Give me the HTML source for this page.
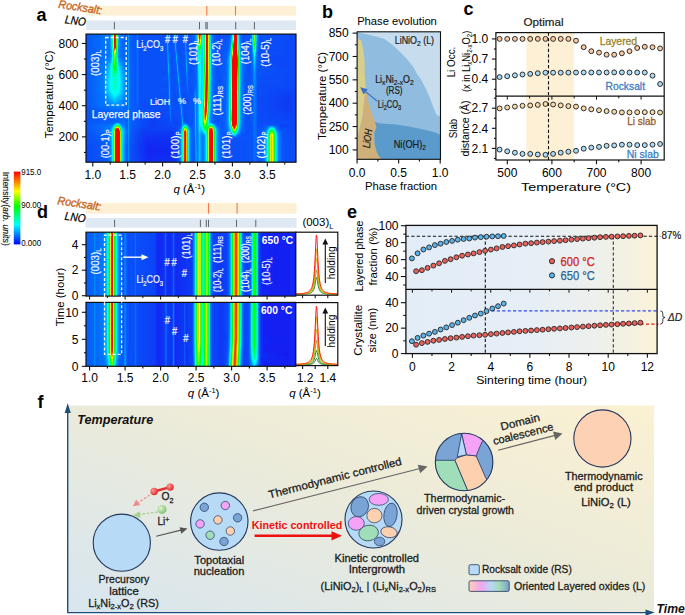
<!DOCTYPE html><html><head><meta charset="utf-8"><style>html,body{margin:0;padding:0;background:#fff;}svg{display:block;}text{font-family:"Liberation Sans",sans-serif;}</style></head><body>
<svg width="685" height="615" viewBox="0 0 685 615">
<defs>
<linearGradient id="cbar" x1="0" y1="1" x2="0" y2="0"><stop offset="0" stop-color="#0000ff"/><stop offset="0.27" stop-color="#00ffff"/><stop offset="0.52" stop-color="#00ff00"/><stop offset="0.73" stop-color="#ffff00"/><stop offset="0.86" stop-color="#ff8000"/><stop offset="1" stop-color="#ff0000"/></linearGradient>
<linearGradient id="fbg" x1="0" y1="1" x2="1" y2="0"><stop offset="0" stop-color="#d8e6f0"/><stop offset="0.55" stop-color="#ecebd9"/><stop offset="1" stop-color="#fbf1d2"/></linearGradient>
<linearGradient id="ebg" x1="0" y1="0" x2="1" y2="0"><stop offset="0" stop-color="#e3edf8"/><stop offset="0.5" stop-color="#e6eef6"/><stop offset="0.78" stop-color="#eef0ea"/><stop offset="1" stop-color="#fcf2da"/></linearGradient>
<linearGradient id="lgrad" x1="0" y1="0" x2="1" y2="0"><stop offset="0" stop-color="#fcd0b8"/><stop offset="0.3" stop-color="#f3a6f0"/><stop offset="0.55" stop-color="#b7d9f4"/><stop offset="0.75" stop-color="#a6dcb8"/><stop offset="1" stop-color="#7aa0c8"/></linearGradient>
<marker id="ahg" viewBox="0 0 10 10" refX="9" refY="5" markerWidth="5" markerHeight="5" orient="auto"><path d="M0,0 L10,5 L0,10 z" fill="#555"/></marker>
</defs>
<text x="36.5" y="21" font-size="18" text-anchor="start" font-weight="bold" fill="#000">a</text>
<text x="322" y="18" font-size="18" text-anchor="start" font-weight="bold" fill="#000">b</text>
<text x="463.5" y="14.6" font-size="18" text-anchor="start" font-weight="bold" fill="#000">c</text>
<text x="37" y="218.2" font-size="18" text-anchor="start" font-weight="bold" fill="#000">d</text>
<text x="347" y="218.2" font-size="18" text-anchor="start" font-weight="bold" fill="#000">e</text>
<text x="37.5" y="407.8" font-size="18" text-anchor="start" font-weight="bold" fill="#000">f</text>
<clipPath id="fac1"><rect x="86" y="34.1" width="210" height="128.1"/></clipPath>
<filter id="faf1" filterUnits="userSpaceOnUse" x="84" y="28" width="214" height="141" color-interpolation-filters="sRGB"><feGaussianBlur stdDeviation="0 1.1"/><feComponentTransfer><feFuncR type="table" tableValues="0.1 0 0 0 0 0.5 1 1 1"/><feFuncG type="table" tableValues="0.04 0.5 1 1 1 1 1 0.5 0"/><feFuncB type="table" tableValues="0.94 1 1 0.5 0 0 0 0 0"/><feFuncA type="table" tableValues="1 1"/></feComponentTransfer></filter>
<g clip-path="url(#fac1)"><g filter="url(#faf1)" shape-rendering="crispEdges">
<defs><linearGradient id="fa1_0" gradientUnits="userSpaceOnUse" x1="84" x2="298" y1="0" y2="0"><stop offset=".000" stop-color="#141414"/><stop offset=".119" stop-color="#1f1f1f"/><stop offset=".126" stop-color="#282828"/><stop offset=".131" stop-color="#3f3f3f"/><stop offset=".133" stop-color="#585858"/><stop offset=".136" stop-color="#848484"/><stop offset=".138" stop-color="#cecece"/><stop offset=".140" stop-color="#ffffff"/><stop offset=".147" stop-color="#ffffff"/><stop offset=".150" stop-color="#e0e0e0"/><stop offset=".152" stop-color="#8f8f8f"/><stop offset=".154" stop-color="#5e5e5e"/><stop offset=".157" stop-color="#424242"/><stop offset=".159" stop-color="#323232"/><stop offset=".164" stop-color="#232323"/><stop offset=".180" stop-color="#181818"/><stop offset=".203" stop-color="#191919"/><stop offset=".208" stop-color="#262626"/><stop offset=".213" stop-color="#181818"/><stop offset=".243" stop-color="#141414"/><stop offset=".250" stop-color="#1c1c1c"/><stop offset=".257" stop-color="#131313"/><stop offset=".381" stop-color="#131313"/><stop offset=".386" stop-color="#1b1b1b"/><stop offset=".388" stop-color="#2a2a2a"/><stop offset=".393" stop-color="#181818"/><stop offset=".404" stop-color="#121212"/><stop offset=".416" stop-color="#151515"/><stop offset=".418" stop-color="#191919"/><stop offset=".423" stop-color="#2d2d2d"/><stop offset=".425" stop-color="#1c1c1c"/><stop offset=".430" stop-color="#141414"/><stop offset=".467" stop-color="#151515"/><stop offset=".470" stop-color="#1a1a1a"/><stop offset=".472" stop-color="#282828"/><stop offset=".479" stop-color="#141414"/><stop offset=".512" stop-color="#151515"/><stop offset=".521" stop-color="#202020"/><stop offset=".526" stop-color="#323232"/><stop offset=".528" stop-color="#444444"/><stop offset=".530" stop-color="#626262"/><stop offset=".533" stop-color="#929292"/><stop offset=".535" stop-color="#d6d6d6"/><stop offset=".537" stop-color="#ffffff"/><stop offset=".542" stop-color="#ffffff"/><stop offset=".544" stop-color="#f8f8f8"/><stop offset=".547" stop-color="#b0b0b0"/><stop offset=".549" stop-color="#7b7b7b"/><stop offset=".551" stop-color="#5a5a5a"/><stop offset=".554" stop-color="#484848"/><stop offset=".556" stop-color="#414141"/><stop offset=".558" stop-color="#444444"/><stop offset=".561" stop-color="#4e4e4e"/><stop offset=".563" stop-color="#636363"/><stop offset=".565" stop-color="#848484"/><stop offset=".568" stop-color="#b1b1b1"/><stop offset=".570" stop-color="#e8e8e8"/><stop offset=".572" stop-color="#ffffff"/><stop offset=".577" stop-color="#ffffff"/><stop offset=".579" stop-color="#e5e5e5"/><stop offset=".582" stop-color="#adadad"/><stop offset=".584" stop-color="#7e7e7e"/><stop offset=".586" stop-color="#5b5b5b"/><stop offset=".589" stop-color="#434343"/><stop offset=".593" stop-color="#292929"/><stop offset=".600" stop-color="#1a1a1a"/><stop offset=".626" stop-color="#121212"/><stop offset=".680" stop-color="#151515"/><stop offset=".689" stop-color="#232323"/><stop offset=".692" stop-color="#2c2c2c"/><stop offset=".694" stop-color="#3d3d3d"/><stop offset=".696" stop-color="#5c5c5c"/><stop offset=".699" stop-color="#949494"/><stop offset=".701" stop-color="#f9f9f9"/><stop offset=".703" stop-color="#ffffff"/><stop offset=".713" stop-color="#ffffff"/><stop offset=".715" stop-color="#e8e8e8"/><stop offset=".717" stop-color="#8b8b8b"/><stop offset=".720" stop-color="#575757"/><stop offset=".722" stop-color="#3b3b3b"/><stop offset=".724" stop-color="#2b2b2b"/><stop offset=".729" stop-color="#1c1c1c"/><stop offset=".745" stop-color="#121212"/><stop offset=".776" stop-color="#151515"/><stop offset=".783" stop-color="#1f1f1f"/><stop offset=".785" stop-color="#282828"/><stop offset=".787" stop-color="#373737"/><stop offset=".790" stop-color="#4f4f4f"/><stop offset=".794" stop-color="#999999"/><stop offset=".797" stop-color="#aaaaaa"/><stop offset=".799" stop-color="#999999"/><stop offset=".804" stop-color="#4f4f4f"/><stop offset=".806" stop-color="#363636"/><stop offset=".808" stop-color="#282828"/><stop offset=".815" stop-color="#171717"/><stop offset=".853" stop-color="#111111"/><stop offset="1.000" stop-color="#111111"/></linearGradient><linearGradient id="fa1_1" gradientUnits="userSpaceOnUse" x1="84" x2="298" y1="0" y2="0"><stop offset=".000" stop-color="#141414"/><stop offset=".119" stop-color="#1f1f1f"/><stop offset=".126" stop-color="#292929"/><stop offset=".131" stop-color="#3f3f3f"/><stop offset=".133" stop-color="#585858"/><stop offset=".136" stop-color="#848484"/><stop offset=".138" stop-color="#cdcdcd"/><stop offset=".140" stop-color="#ffffff"/><stop offset=".147" stop-color="#ffffff"/><stop offset=".150" stop-color="#e0e0e0"/><stop offset=".152" stop-color="#8f8f8f"/><stop offset=".154" stop-color="#5e5e5e"/><stop offset=".157" stop-color="#424242"/><stop offset=".159" stop-color="#323232"/><stop offset=".164" stop-color="#232323"/><stop offset=".180" stop-color="#181818"/><stop offset=".203" stop-color="#191919"/><stop offset=".208" stop-color="#262626"/><stop offset=".213" stop-color="#181818"/><stop offset=".243" stop-color="#141414"/><stop offset=".250" stop-color="#1c1c1c"/><stop offset=".257" stop-color="#131313"/><stop offset=".381" stop-color="#131313"/><stop offset=".386" stop-color="#1a1a1a"/><stop offset=".388" stop-color="#292929"/><stop offset=".390" stop-color="#262626"/><stop offset=".393" stop-color="#191919"/><stop offset=".404" stop-color="#121212"/><stop offset=".418" stop-color="#181818"/><stop offset=".423" stop-color="#2f2f2f"/><stop offset=".425" stop-color="#1e1e1e"/><stop offset=".430" stop-color="#141414"/><stop offset=".467" stop-color="#151515"/><stop offset=".470" stop-color="#1a1a1a"/><stop offset=".472" stop-color="#272727"/><stop offset=".474" stop-color="#242424"/><stop offset=".477" stop-color="#181818"/><stop offset=".488" stop-color="#121212"/><stop offset=".516" stop-color="#181818"/><stop offset=".523" stop-color="#262626"/><stop offset=".526" stop-color="#313131"/><stop offset=".528" stop-color="#434343"/><stop offset=".530" stop-color="#606060"/><stop offset=".533" stop-color="#8e8e8e"/><stop offset=".535" stop-color="#d0d0d0"/><stop offset=".537" stop-color="#ffffff"/><stop offset=".542" stop-color="#ffffff"/><stop offset=".544" stop-color="#f1f1f1"/><stop offset=".547" stop-color="#ababab"/><stop offset=".549" stop-color="#787878"/><stop offset=".551" stop-color="#585858"/><stop offset=".554" stop-color="#474747"/><stop offset=".556" stop-color="#414141"/><stop offset=".558" stop-color="#444444"/><stop offset=".561" stop-color="#4f4f4f"/><stop offset=".563" stop-color="#646464"/><stop offset=".565" stop-color="#848484"/><stop offset=".568" stop-color="#b2b2b2"/><stop offset=".570" stop-color="#e9e9e9"/><stop offset=".572" stop-color="#ffffff"/><stop offset=".577" stop-color="#ffffff"/><stop offset=".579" stop-color="#e5e5e5"/><stop offset=".582" stop-color="#adadad"/><stop offset=".584" stop-color="#7e7e7e"/><stop offset=".586" stop-color="#5b5b5b"/><stop offset=".589" stop-color="#444444"/><stop offset=".593" stop-color="#292929"/><stop offset=".600" stop-color="#1a1a1a"/><stop offset=".626" stop-color="#121212"/><stop offset=".680" stop-color="#151515"/><stop offset=".689" stop-color="#242424"/><stop offset=".692" stop-color="#2f2f2f"/><stop offset=".694" stop-color="#414141"/><stop offset=".696" stop-color="#626262"/><stop offset=".699" stop-color="#9d9d9d"/><stop offset=".701" stop-color="#ffffff"/><stop offset=".713" stop-color="#ffffff"/><stop offset=".715" stop-color="#ececec"/><stop offset=".717" stop-color="#8e8e8e"/><stop offset=".720" stop-color="#595959"/><stop offset=".722" stop-color="#3c3c3c"/><stop offset=".724" stop-color="#2c2c2c"/><stop offset=".729" stop-color="#1d1d1d"/><stop offset=".743" stop-color="#131313"/><stop offset=".776" stop-color="#151515"/><stop offset=".783" stop-color="#1f1f1f"/><stop offset=".787" stop-color="#363636"/><stop offset=".790" stop-color="#4e4e4e"/><stop offset=".794" stop-color="#969696"/><stop offset=".797" stop-color="#a8a8a8"/><stop offset=".799" stop-color="#969696"/><stop offset=".804" stop-color="#4e4e4e"/><stop offset=".806" stop-color="#363636"/><stop offset=".811" stop-color="#1f1f1f"/><stop offset=".820" stop-color="#141414"/><stop offset="1.000" stop-color="#111111"/></linearGradient><linearGradient id="fa1_2" gradientUnits="userSpaceOnUse" x1="84" x2="298" y1="0" y2="0"><stop offset=".000" stop-color="#141414"/><stop offset=".119" stop-color="#1f1f1f"/><stop offset=".126" stop-color="#292929"/><stop offset=".131" stop-color="#3f3f3f"/><stop offset=".133" stop-color="#585858"/><stop offset=".136" stop-color="#848484"/><stop offset=".138" stop-color="#cbcbcb"/><stop offset=".140" stop-color="#ffffff"/><stop offset=".147" stop-color="#ffffff"/><stop offset=".150" stop-color="#dddddd"/><stop offset=".152" stop-color="#8f8f8f"/><stop offset=".154" stop-color="#5e5e5e"/><stop offset=".157" stop-color="#424242"/><stop offset=".159" stop-color="#323232"/><stop offset=".164" stop-color="#232323"/><stop offset=".180" stop-color="#181818"/><stop offset=".203" stop-color="#191919"/><stop offset=".208" stop-color="#262626"/><stop offset=".213" stop-color="#181818"/><stop offset=".243" stop-color="#141414"/><stop offset=".250" stop-color="#1c1c1c"/><stop offset=".257" stop-color="#131313"/><stop offset=".381" stop-color="#131313"/><stop offset=".386" stop-color="#191919"/><stop offset=".388" stop-color="#252525"/><stop offset=".390" stop-color="#2a2a2a"/><stop offset=".393" stop-color="#1b1b1b"/><stop offset=".400" stop-color="#131313"/><stop offset=".418" stop-color="#161616"/><stop offset=".421" stop-color="#1b1b1b"/><stop offset=".423" stop-color="#2b2b2b"/><stop offset=".425" stop-color="#282828"/><stop offset=".428" stop-color="#1a1a1a"/><stop offset=".437" stop-color="#121212"/><stop offset=".467" stop-color="#141414"/><stop offset=".470" stop-color="#181818"/><stop offset=".474" stop-color="#282828"/><stop offset=".477" stop-color="#1a1a1a"/><stop offset=".484" stop-color="#131313"/><stop offset=".516" stop-color="#171717"/><stop offset=".523" stop-color="#242424"/><stop offset=".526" stop-color="#2d2d2d"/><stop offset=".528" stop-color="#3d3d3d"/><stop offset=".530" stop-color="#585858"/><stop offset=".533" stop-color="#818181"/><stop offset=".537" stop-color="#fcfcfc"/><stop offset=".542" stop-color="#ffffff"/><stop offset=".544" stop-color="#d9d9d9"/><stop offset=".547" stop-color="#9c9c9c"/><stop offset=".549" stop-color="#6e6e6e"/><stop offset=".551" stop-color="#525252"/><stop offset=".554" stop-color="#444444"/><stop offset=".556" stop-color="#404040"/><stop offset=".558" stop-color="#444444"/><stop offset=".561" stop-color="#505050"/><stop offset=".563" stop-color="#666666"/><stop offset=".565" stop-color="#878787"/><stop offset=".568" stop-color="#b6b6b6"/><stop offset=".570" stop-color="#ebebeb"/><stop offset=".572" stop-color="#ffffff"/><stop offset=".577" stop-color="#ffffff"/><stop offset=".579" stop-color="#e5e5e5"/><stop offset=".582" stop-color="#aeaeae"/><stop offset=".584" stop-color="#808080"/><stop offset=".586" stop-color="#5d5d5d"/><stop offset=".589" stop-color="#454545"/><stop offset=".593" stop-color="#2a2a2a"/><stop offset=".600" stop-color="#1b1b1b"/><stop offset=".624" stop-color="#121212"/><stop offset=".678" stop-color="#151515"/><stop offset=".687" stop-color="#212121"/><stop offset=".692" stop-color="#373737"/><stop offset=".694" stop-color="#4e4e4e"/><stop offset=".696" stop-color="#767676"/><stop offset=".701" stop-color="#ffffff"/><stop offset=".713" stop-color="#ffffff"/><stop offset=".715" stop-color="#f8f8f8"/><stop offset=".717" stop-color="#989898"/><stop offset=".720" stop-color="#616161"/><stop offset=".722" stop-color="#424242"/><stop offset=".724" stop-color="#303030"/><stop offset=".729" stop-color="#1f1f1f"/><stop offset=".741" stop-color="#141414"/><stop offset=".776" stop-color="#151515"/><stop offset=".783" stop-color="#1e1e1e"/><stop offset=".787" stop-color="#343434"/><stop offset=".790" stop-color="#4a4a4a"/><stop offset=".794" stop-color="#8f8f8f"/><stop offset=".797" stop-color="#9f9f9f"/><stop offset=".799" stop-color="#8f8f8f"/><stop offset=".804" stop-color="#4a4a4a"/><stop offset=".806" stop-color="#343434"/><stop offset=".811" stop-color="#1e1e1e"/><stop offset=".820" stop-color="#131313"/><stop offset="1.000" stop-color="#111111"/></linearGradient><linearGradient id="fa1_3" gradientUnits="userSpaceOnUse" x1="84" x2="298" y1="0" y2="0"><stop offset=".000" stop-color="#141414"/><stop offset=".119" stop-color="#1f1f1f"/><stop offset=".126" stop-color="#292929"/><stop offset=".131" stop-color="#404040"/><stop offset=".133" stop-color="#595959"/><stop offset=".136" stop-color="#838383"/><stop offset=".138" stop-color="#c9c9c9"/><stop offset=".140" stop-color="#ffffff"/><stop offset=".147" stop-color="#ffffff"/><stop offset=".150" stop-color="#dadada"/><stop offset=".152" stop-color="#8e8e8e"/><stop offset=".154" stop-color="#5e5e5e"/><stop offset=".157" stop-color="#434343"/><stop offset=".159" stop-color="#323232"/><stop offset=".164" stop-color="#232323"/><stop offset=".180" stop-color="#181818"/><stop offset=".203" stop-color="#191919"/><stop offset=".208" stop-color="#262626"/><stop offset=".213" stop-color="#181818"/><stop offset=".243" stop-color="#141414"/><stop offset=".250" stop-color="#1c1c1c"/><stop offset=".257" stop-color="#131313"/><stop offset=".383" stop-color="#141414"/><stop offset=".386" stop-color="#171717"/><stop offset=".390" stop-color="#2d2d2d"/><stop offset=".393" stop-color="#1d1d1d"/><stop offset=".397" stop-color="#141414"/><stop offset=".418" stop-color="#141414"/><stop offset=".421" stop-color="#171717"/><stop offset=".425" stop-color="#303030"/><stop offset=".428" stop-color="#202020"/><stop offset=".432" stop-color="#141414"/><stop offset=".467" stop-color="#141414"/><stop offset=".472" stop-color="#1f1f1f"/><stop offset=".474" stop-color="#2a2a2a"/><stop offset=".477" stop-color="#1d1d1d"/><stop offset=".481" stop-color="#141414"/><stop offset=".514" stop-color="#151515"/><stop offset=".523" stop-color="#212121"/><stop offset=".528" stop-color="#373737"/><stop offset=".530" stop-color="#4d4d4d"/><stop offset=".533" stop-color="#6f6f6f"/><stop offset=".537" stop-color="#d7d7d7"/><stop offset=".540" stop-color="#f8f8f8"/><stop offset=".542" stop-color="#eaeaea"/><stop offset=".547" stop-color="#878787"/><stop offset=".549" stop-color="#616161"/><stop offset=".551" stop-color="#4b4b4b"/><stop offset=".554" stop-color="#404040"/><stop offset=".556" stop-color="#3e3e3e"/><stop offset=".558" stop-color="#434343"/><stop offset=".561" stop-color="#505050"/><stop offset=".563" stop-color="#676767"/><stop offset=".565" stop-color="#8a8a8a"/><stop offset=".568" stop-color="#b8b8b8"/><stop offset=".570" stop-color="#eeeeee"/><stop offset=".572" stop-color="#ffffff"/><stop offset=".577" stop-color="#ffffff"/><stop offset=".579" stop-color="#e6e6e6"/><stop offset=".582" stop-color="#b0b0b0"/><stop offset=".584" stop-color="#818181"/><stop offset=".586" stop-color="#5e5e5e"/><stop offset=".589" stop-color="#464646"/><stop offset=".593" stop-color="#2b2b2b"/><stop offset=".600" stop-color="#1b1b1b"/><stop offset=".624" stop-color="#121212"/><stop offset=".678" stop-color="#161616"/><stop offset=".687" stop-color="#262626"/><stop offset=".689" stop-color="#303030"/><stop offset=".692" stop-color="#414141"/><stop offset=".694" stop-color="#5d5d5d"/><stop offset=".696" stop-color="#8e8e8e"/><stop offset=".699" stop-color="#e1e1e1"/><stop offset=".701" stop-color="#ffffff"/><stop offset=".715" stop-color="#ffffff"/><stop offset=".717" stop-color="#a3a3a3"/><stop offset=".720" stop-color="#696969"/><stop offset=".722" stop-color="#484848"/><stop offset=".724" stop-color="#343434"/><stop offset=".729" stop-color="#212121"/><stop offset=".741" stop-color="#141414"/><stop offset=".776" stop-color="#151515"/><stop offset=".783" stop-color="#1d1d1d"/><stop offset=".787" stop-color="#323232"/><stop offset=".790" stop-color="#474747"/><stop offset=".794" stop-color="#878787"/><stop offset=".797" stop-color="#979797"/><stop offset=".799" stop-color="#878787"/><stop offset=".804" stop-color="#474747"/><stop offset=".806" stop-color="#323232"/><stop offset=".811" stop-color="#1d1d1d"/><stop offset=".822" stop-color="#131313"/><stop offset="1.000" stop-color="#111111"/></linearGradient><linearGradient id="fa1_4" gradientUnits="userSpaceOnUse" x1="84" x2="298" y1="0" y2="0"><stop offset=".000" stop-color="#141414"/><stop offset=".119" stop-color="#1f1f1f"/><stop offset=".126" stop-color="#292929"/><stop offset=".131" stop-color="#404040"/><stop offset=".133" stop-color="#595959"/><stop offset=".136" stop-color="#838383"/><stop offset=".138" stop-color="#c7c7c7"/><stop offset=".140" stop-color="#ffffff"/><stop offset=".147" stop-color="#ffffff"/><stop offset=".150" stop-color="#d7d7d7"/><stop offset=".152" stop-color="#8d8d8d"/><stop offset=".154" stop-color="#5e5e5e"/><stop offset=".157" stop-color="#434343"/><stop offset=".159" stop-color="#333333"/><stop offset=".164" stop-color="#232323"/><stop offset=".178" stop-color="#191919"/><stop offset=".203" stop-color="#191919"/><stop offset=".208" stop-color="#262626"/><stop offset=".213" stop-color="#181818"/><stop offset=".243" stop-color="#141414"/><stop offset=".250" stop-color="#1c1c1c"/><stop offset=".257" stop-color="#131313"/><stop offset=".383" stop-color="#141414"/><stop offset=".388" stop-color="#1d1d1d"/><stop offset=".390" stop-color="#2d2d2d"/><stop offset=".395" stop-color="#171717"/><stop offset=".411" stop-color="#121212"/><stop offset=".421" stop-color="#151515"/><stop offset=".423" stop-color="#1a1a1a"/><stop offset=".425" stop-color="#292929"/><stop offset=".428" stop-color="#2a2a2a"/><stop offset=".430" stop-color="#1b1b1b"/><stop offset=".437" stop-color="#131313"/><stop offset=".470" stop-color="#151515"/><stop offset=".472" stop-color="#1c1c1c"/><stop offset=".474" stop-color="#2a2a2a"/><stop offset=".479" stop-color="#171717"/><stop offset=".498" stop-color="#121212"/><stop offset=".521" stop-color="#191919"/><stop offset=".526" stop-color="#242424"/><stop offset=".528" stop-color="#2e2e2e"/><stop offset=".530" stop-color="#3f3f3f"/><stop offset=".533" stop-color="#5a5a5a"/><stop offset=".537" stop-color="#aaaaaa"/><stop offset=".540" stop-color="#c3c3c3"/><stop offset=".542" stop-color="#b9b9b9"/><stop offset=".547" stop-color="#6e6e6e"/><stop offset=".549" stop-color="#515151"/><stop offset=".551" stop-color="#414141"/><stop offset=".554" stop-color="#3a3a3a"/><stop offset=".556" stop-color="#3b3b3b"/><stop offset=".558" stop-color="#424242"/><stop offset=".561" stop-color="#515151"/><stop offset=".563" stop-color="#696969"/><stop offset=".565" stop-color="#8c8c8c"/><stop offset=".570" stop-color="#f0f0f0"/><stop offset=".572" stop-color="#ffffff"/><stop offset=".577" stop-color="#ffffff"/><stop offset=".579" stop-color="#e6e6e6"/><stop offset=".582" stop-color="#b1b1b1"/><stop offset=".584" stop-color="#838383"/><stop offset=".586" stop-color="#606060"/><stop offset=".589" stop-color="#474747"/><stop offset=".593" stop-color="#2c2c2c"/><stop offset=".600" stop-color="#1b1b1b"/><stop offset=".624" stop-color="#121212"/><stop offset=".675" stop-color="#161616"/><stop offset=".685" stop-color="#232323"/><stop offset=".689" stop-color="#383838"/><stop offset=".692" stop-color="#4c4c4c"/><stop offset=".694" stop-color="#6f6f6f"/><stop offset=".696" stop-color="#a9a9a9"/><stop offset=".699" stop-color="#ffffff"/><stop offset=".715" stop-color="#ffffff"/><stop offset=".717" stop-color="#adadad"/><stop offset=".720" stop-color="#727272"/><stop offset=".722" stop-color="#4e4e4e"/><stop offset=".724" stop-color="#393939"/><stop offset=".729" stop-color="#232323"/><stop offset=".738" stop-color="#161616"/><stop offset=".773" stop-color="#131313"/><stop offset=".783" stop-color="#1b1b1b"/><stop offset=".787" stop-color="#2d2d2d"/><stop offset=".790" stop-color="#3e3e3e"/><stop offset=".794" stop-color="#747474"/><stop offset=".797" stop-color="#818181"/><stop offset=".799" stop-color="#747474"/><stop offset=".804" stop-color="#3e3e3e"/><stop offset=".806" stop-color="#2c2c2c"/><stop offset=".811" stop-color="#1b1b1b"/><stop offset=".825" stop-color="#121212"/><stop offset="1.000" stop-color="#111111"/></linearGradient><linearGradient id="fa1_5" gradientUnits="userSpaceOnUse" x1="84" x2="298" y1="0" y2="0"><stop offset=".000" stop-color="#141414"/><stop offset=".119" stop-color="#1e1e1e"/><stop offset=".126" stop-color="#272727"/><stop offset=".131" stop-color="#3b3b3b"/><stop offset=".133" stop-color="#505050"/><stop offset=".136" stop-color="#747474"/><stop offset=".138" stop-color="#adadad"/><stop offset=".140" stop-color="#fafafa"/><stop offset=".145" stop-color="#ffffff"/><stop offset=".147" stop-color="#ffffff"/><stop offset=".152" stop-color="#7d7d7d"/><stop offset=".154" stop-color="#555555"/><stop offset=".157" stop-color="#3d3d3d"/><stop offset=".161" stop-color="#272727"/><stop offset=".171" stop-color="#1b1b1b"/><stop offset=".203" stop-color="#191919"/><stop offset=".208" stop-color="#262626"/><stop offset=".213" stop-color="#181818"/><stop offset=".243" stop-color="#141414"/><stop offset=".250" stop-color="#1c1c1c"/><stop offset=".257" stop-color="#131313"/><stop offset=".383" stop-color="#131313"/><stop offset=".388" stop-color="#1b1b1b"/><stop offset=".390" stop-color="#2a2a2a"/><stop offset=".393" stop-color="#252525"/><stop offset=".395" stop-color="#191919"/><stop offset=".407" stop-color="#121212"/><stop offset=".423" stop-color="#171717"/><stop offset=".425" stop-color="#1f1f1f"/><stop offset=".428" stop-color="#2f2f2f"/><stop offset=".432" stop-color="#181818"/><stop offset=".449" stop-color="#121212"/><stop offset=".470" stop-color="#151515"/><stop offset=".472" stop-color="#191919"/><stop offset=".474" stop-color="#262626"/><stop offset=".477" stop-color="#252525"/><stop offset=".479" stop-color="#191919"/><stop offset=".491" stop-color="#121212"/><stop offset=".521" stop-color="#181818"/><stop offset=".528" stop-color="#272727"/><stop offset=".530" stop-color="#343434"/><stop offset=".533" stop-color="#484848"/><stop offset=".537" stop-color="#858585"/><stop offset=".540" stop-color="#989898"/><stop offset=".542" stop-color="#909090"/><stop offset=".547" stop-color="#595959"/><stop offset=".549" stop-color="#454545"/><stop offset=".551" stop-color="#3a3a3a"/><stop offset=".554" stop-color="#363636"/><stop offset=".556" stop-color="#393939"/><stop offset=".558" stop-color="#424242"/><stop offset=".561" stop-color="#525252"/><stop offset=".563" stop-color="#6b6b6b"/><stop offset=".565" stop-color="#8f8f8f"/><stop offset=".570" stop-color="#f2f2f2"/><stop offset=".572" stop-color="#ffffff"/><stop offset=".577" stop-color="#ffffff"/><stop offset=".579" stop-color="#e6e6e6"/><stop offset=".582" stop-color="#b2b2b2"/><stop offset=".584" stop-color="#848484"/><stop offset=".586" stop-color="#616161"/><stop offset=".589" stop-color="#494949"/><stop offset=".593" stop-color="#2d2d2d"/><stop offset=".600" stop-color="#1c1c1c"/><stop offset=".621" stop-color="#121212"/><stop offset=".673" stop-color="#161616"/><stop offset=".682" stop-color="#222222"/><stop offset=".687" stop-color="#333333"/><stop offset=".689" stop-color="#434343"/><stop offset=".692" stop-color="#5d5d5d"/><stop offset=".694" stop-color="#888888"/><stop offset=".696" stop-color="#cdcdcd"/><stop offset=".699" stop-color="#ffffff"/><stop offset=".715" stop-color="#ffffff"/><stop offset=".720" stop-color="#7e7e7e"/><stop offset=".722" stop-color="#585858"/><stop offset=".724" stop-color="#404040"/><stop offset=".729" stop-color="#272727"/><stop offset=".738" stop-color="#171717"/><stop offset=".773" stop-color="#131313"/><stop offset=".783" stop-color="#191919"/><stop offset=".787" stop-color="#272727"/><stop offset=".790" stop-color="#353535"/><stop offset=".794" stop-color="#5f5f5f"/><stop offset=".797" stop-color="#696969"/><stop offset=".799" stop-color="#5f5f5f"/><stop offset=".804" stop-color="#353535"/><stop offset=".808" stop-color="#1e1e1e"/><stop offset=".818" stop-color="#131313"/><stop offset="1.000" stop-color="#111111"/></linearGradient><linearGradient id="fa1_6" gradientUnits="userSpaceOnUse" x1="84" x2="298" y1="0" y2="0"><stop offset=".000" stop-color="#141414"/><stop offset=".119" stop-color="#1e1e1e"/><stop offset=".129" stop-color="#2b2b2b"/><stop offset=".131" stop-color="#353535"/><stop offset=".133" stop-color="#454545"/><stop offset=".136" stop-color="#5f5f5f"/><stop offset=".138" stop-color="#878787"/><stop offset=".140" stop-color="#b9b9b9"/><stop offset=".143" stop-color="#e2e2e2"/><stop offset=".145" stop-color="#e6e6e6"/><stop offset=".147" stop-color="#c2c2c2"/><stop offset=".150" stop-color="#909090"/><stop offset=".152" stop-color="#666666"/><stop offset=".154" stop-color="#494949"/><stop offset=".157" stop-color="#363636"/><stop offset=".161" stop-color="#252525"/><stop offset=".173" stop-color="#1a1a1a"/><stop offset=".203" stop-color="#191919"/><stop offset=".208" stop-color="#252525"/><stop offset=".213" stop-color="#181818"/><stop offset=".243" stop-color="#141414"/><stop offset=".250" stop-color="#1c1c1c"/><stop offset=".257" stop-color="#131313"/><stop offset=".383" stop-color="#131313"/><stop offset=".388" stop-color="#191919"/><stop offset=".390" stop-color="#262626"/><stop offset=".393" stop-color="#292929"/><stop offset=".395" stop-color="#1a1a1a"/><stop offset=".402" stop-color="#121212"/><stop offset=".423" stop-color="#151515"/><stop offset=".425" stop-color="#191919"/><stop offset=".428" stop-color="#262626"/><stop offset=".430" stop-color="#2d2d2d"/><stop offset=".432" stop-color="#1c1c1c"/><stop offset=".437" stop-color="#141414"/><stop offset=".470" stop-color="#141414"/><stop offset=".472" stop-color="#181818"/><stop offset=".477" stop-color="#282828"/><stop offset=".479" stop-color="#1b1b1b"/><stop offset=".486" stop-color="#121212"/><stop offset=".521" stop-color="#161616"/><stop offset=".528" stop-color="#222222"/><stop offset=".533" stop-color="#3a3a3a"/><stop offset=".537" stop-color="#666666"/><stop offset=".540" stop-color="#747474"/><stop offset=".542" stop-color="#6f6f6f"/><stop offset=".547" stop-color="#484848"/><stop offset=".549" stop-color="#3a3a3a"/><stop offset=".554" stop-color="#333333"/><stop offset=".558" stop-color="#424242"/><stop offset=".561" stop-color="#535353"/><stop offset=".563" stop-color="#6d6d6d"/><stop offset=".565" stop-color="#929292"/><stop offset=".570" stop-color="#f4f4f4"/><stop offset=".572" stop-color="#ffffff"/><stop offset=".577" stop-color="#ffffff"/><stop offset=".579" stop-color="#e6e6e6"/><stop offset=".582" stop-color="#b3b3b3"/><stop offset=".584" stop-color="#858585"/><stop offset=".586" stop-color="#636363"/><stop offset=".589" stop-color="#4a4a4a"/><stop offset=".593" stop-color="#2d2d2d"/><stop offset=".600" stop-color="#1c1c1c"/><stop offset=".621" stop-color="#121212"/><stop offset=".671" stop-color="#161616"/><stop offset=".680" stop-color="#212121"/><stop offset=".685" stop-color="#303030"/><stop offset=".687" stop-color="#3d3d3d"/><stop offset=".689" stop-color="#515151"/><stop offset=".692" stop-color="#727272"/><stop offset=".694" stop-color="#a5a5a5"/><stop offset=".696" stop-color="#f6f6f6"/><stop offset=".699" stop-color="#ffffff"/><stop offset=".715" stop-color="#ffffff"/><stop offset=".717" stop-color="#cfcfcf"/><stop offset=".720" stop-color="#8c8c8c"/><stop offset=".722" stop-color="#626262"/><stop offset=".724" stop-color="#484848"/><stop offset=".729" stop-color="#2c2c2c"/><stop offset=".736" stop-color="#1b1b1b"/><stop offset=".759" stop-color="#121212"/><stop offset=".783" stop-color="#181818"/><stop offset=".787" stop-color="#232323"/><stop offset=".792" stop-color="#3e3e3e"/><stop offset=".794" stop-color="#505050"/><stop offset=".797" stop-color="#585858"/><stop offset=".799" stop-color="#505050"/><stop offset=".804" stop-color="#2e2e2e"/><stop offset=".808" stop-color="#1c1c1c"/><stop offset=".820" stop-color="#121212"/><stop offset="1.000" stop-color="#111111"/></linearGradient><linearGradient id="fa1_7" gradientUnits="userSpaceOnUse" x1="84" x2="298" y1="0" y2="0"><stop offset=".000" stop-color="#141414"/><stop offset=".121" stop-color="#1f1f1f"/><stop offset=".129" stop-color="#2a2a2a"/><stop offset=".133" stop-color="#414141"/><stop offset=".136" stop-color="#565656"/><stop offset=".140" stop-color="#999999"/><stop offset=".143" stop-color="#b5b5b5"/><stop offset=".145" stop-color="#b7b7b7"/><stop offset=".147" stop-color="#9f9f9f"/><stop offset=".152" stop-color="#5b5b5b"/><stop offset=".154" stop-color="#434343"/><stop offset=".159" stop-color="#2a2a2a"/><stop offset=".168" stop-color="#1c1c1c"/><stop offset=".201" stop-color="#171717"/><stop offset=".206" stop-color="#1d1d1d"/><stop offset=".208" stop-color="#252525"/><stop offset=".213" stop-color="#181818"/><stop offset=".243" stop-color="#141414"/><stop offset=".250" stop-color="#1c1c1c"/><stop offset=".257" stop-color="#131313"/><stop offset=".386" stop-color="#141414"/><stop offset=".388" stop-color="#171717"/><stop offset=".393" stop-color="#2c2c2c"/><stop offset=".395" stop-color="#1d1d1d"/><stop offset=".400" stop-color="#141414"/><stop offset=".423" stop-color="#141414"/><stop offset=".428" stop-color="#1d1d1d"/><stop offset=".430" stop-color="#2e2e2e"/><stop offset=".435" stop-color="#181818"/><stop offset=".446" stop-color="#121212"/><stop offset=".472" stop-color="#161616"/><stop offset=".477" stop-color="#2b2b2b"/><stop offset=".481" stop-color="#161616"/><stop offset=".509" stop-color="#121212"/><stop offset=".526" stop-color="#1b1b1b"/><stop offset=".530" stop-color="#292929"/><stop offset=".535" stop-color="#494949"/><stop offset=".537" stop-color="#5e5e5e"/><stop offset=".540" stop-color="#6b6b6b"/><stop offset=".542" stop-color="#676767"/><stop offset=".547" stop-color="#444444"/><stop offset=".549" stop-color="#383838"/><stop offset=".554" stop-color="#333333"/><stop offset=".558" stop-color="#434343"/><stop offset=".561" stop-color="#555555"/><stop offset=".563" stop-color="#6f6f6f"/><stop offset=".565" stop-color="#959595"/><stop offset=".570" stop-color="#f6f6f6"/><stop offset=".572" stop-color="#ffffff"/><stop offset=".577" stop-color="#ffffff"/><stop offset=".579" stop-color="#e7e7e7"/><stop offset=".584" stop-color="#878787"/><stop offset=".586" stop-color="#646464"/><stop offset=".589" stop-color="#4b4b4b"/><stop offset=".593" stop-color="#2e2e2e"/><stop offset=".600" stop-color="#1d1d1d"/><stop offset=".621" stop-color="#131313"/><stop offset=".668" stop-color="#171717"/><stop offset=".680" stop-color="#262626"/><stop offset=".685" stop-color="#383838"/><stop offset=".687" stop-color="#494949"/><stop offset=".689" stop-color="#626262"/><stop offset=".692" stop-color="#8a8a8a"/><stop offset=".696" stop-color="#ffffff"/><stop offset=".715" stop-color="#ffffff"/><stop offset=".717" stop-color="#e1e1e1"/><stop offset=".720" stop-color="#9b9b9b"/><stop offset=".722" stop-color="#6d6d6d"/><stop offset=".724" stop-color="#505050"/><stop offset=".727" stop-color="#3d3d3d"/><stop offset=".731" stop-color="#282828"/><stop offset=".741" stop-color="#191919"/><stop offset=".773" stop-color="#121212"/><stop offset=".785" stop-color="#1a1a1a"/><stop offset=".790" stop-color="#282828"/><stop offset=".794" stop-color="#434343"/><stop offset=".797" stop-color="#494949"/><stop offset=".799" stop-color="#434343"/><stop offset=".806" stop-color="#1f1f1f"/><stop offset=".815" stop-color="#131313"/><stop offset="1.000" stop-color="#111111"/></linearGradient><linearGradient id="fa1_8" gradientUnits="userSpaceOnUse" x1="84" x2="298" y1="0" y2="0"><stop offset=".000" stop-color="#141414"/><stop offset=".119" stop-color="#1e1e1e"/><stop offset=".129" stop-color="#2a2a2a"/><stop offset=".133" stop-color="#3f3f3f"/><stop offset=".136" stop-color="#525252"/><stop offset=".140" stop-color="#898989"/><stop offset=".143" stop-color="#9e9e9e"/><stop offset=".145" stop-color="#a0a0a0"/><stop offset=".147" stop-color="#8e8e8e"/><stop offset=".152" stop-color="#565656"/><stop offset=".154" stop-color="#424242"/><stop offset=".159" stop-color="#2a2a2a"/><stop offset=".168" stop-color="#1c1c1c"/><stop offset=".201" stop-color="#171717"/><stop offset=".206" stop-color="#1d1d1d"/><stop offset=".208" stop-color="#262626"/><stop offset=".213" stop-color="#181818"/><stop offset=".243" stop-color="#141414"/><stop offset=".250" stop-color="#1c1c1c"/><stop offset=".257" stop-color="#131313"/><stop offset=".386" stop-color="#141414"/><stop offset=".390" stop-color="#1e1e1e"/><stop offset=".393" stop-color="#2d2d2d"/><stop offset=".397" stop-color="#171717"/><stop offset=".416" stop-color="#121212"/><stop offset=".428" stop-color="#181818"/><stop offset=".432" stop-color="#2e2e2e"/><stop offset=".435" stop-color="#1d1d1d"/><stop offset=".439" stop-color="#141414"/><stop offset=".470" stop-color="#131313"/><stop offset=".474" stop-color="#1b1b1b"/><stop offset=".477" stop-color="#292929"/><stop offset=".481" stop-color="#171717"/><stop offset=".500" stop-color="#121212"/><stop offset=".523" stop-color="#171717"/><stop offset=".530" stop-color="#272727"/><stop offset=".535" stop-color="#444444"/><stop offset=".537" stop-color="#575757"/><stop offset=".540" stop-color="#626262"/><stop offset=".542" stop-color="#5f5f5f"/><stop offset=".547" stop-color="#404040"/><stop offset=".551" stop-color="#323232"/><stop offset=".556" stop-color="#393939"/><stop offset=".558" stop-color="#444444"/><stop offset=".561" stop-color="#575757"/><stop offset=".563" stop-color="#727272"/><stop offset=".565" stop-color="#989898"/><stop offset=".570" stop-color="#f8f8f8"/><stop offset=".572" stop-color="#ffffff"/><stop offset=".577" stop-color="#ffffff"/><stop offset=".579" stop-color="#e7e7e7"/><stop offset=".584" stop-color="#888888"/><stop offset=".586" stop-color="#666666"/><stop offset=".589" stop-color="#4d4d4d"/><stop offset=".593" stop-color="#2f2f2f"/><stop offset=".600" stop-color="#1d1d1d"/><stop offset=".619" stop-color="#131313"/><stop offset=".666" stop-color="#171717"/><stop offset=".678" stop-color="#252525"/><stop offset=".682" stop-color="#353535"/><stop offset=".685" stop-color="#424242"/><stop offset=".687" stop-color="#575757"/><stop offset=".689" stop-color="#767676"/><stop offset=".692" stop-color="#a5a5a5"/><stop offset=".694" stop-color="#ececec"/><stop offset=".696" stop-color="#ffffff"/><stop offset=".715" stop-color="#ffffff"/><stop offset=".717" stop-color="#f3f3f3"/><stop offset=".720" stop-color="#aaaaaa"/><stop offset=".722" stop-color="#797979"/><stop offset=".724" stop-color="#595959"/><stop offset=".727" stop-color="#444444"/><stop offset=".731" stop-color="#2c2c2c"/><stop offset=".741" stop-color="#1a1a1a"/><stop offset=".771" stop-color="#121212"/><stop offset=".785" stop-color="#181818"/><stop offset=".792" stop-color="#2c2c2c"/><stop offset=".797" stop-color="#3c3c3c"/><stop offset=".801" stop-color="#2c2c2c"/><stop offset=".808" stop-color="#171717"/><stop offset=".834" stop-color="#111111"/><stop offset="1.000" stop-color="#111111"/></linearGradient><linearGradient id="fa1_9" gradientUnits="userSpaceOnUse" x1="84" x2="298" y1="0" y2="0"><stop offset=".000" stop-color="#141414"/><stop offset=".117" stop-color="#202020"/><stop offset=".126" stop-color="#292929"/><stop offset=".131" stop-color="#373737"/><stop offset=".136" stop-color="#545454"/><stop offset=".140" stop-color="#838383"/><stop offset=".143" stop-color="#959595"/><stop offset=".145" stop-color="#979797"/><stop offset=".147" stop-color="#878787"/><stop offset=".152" stop-color="#585858"/><stop offset=".157" stop-color="#383838"/><stop offset=".164" stop-color="#242424"/><stop offset=".185" stop-color="#191919"/><stop offset=".203" stop-color="#191919"/><stop offset=".208" stop-color="#262626"/><stop offset=".213" stop-color="#181818"/><stop offset=".243" stop-color="#141414"/><stop offset=".250" stop-color="#1c1c1c"/><stop offset=".257" stop-color="#131313"/><stop offset=".386" stop-color="#131313"/><stop offset=".390" stop-color="#1b1b1b"/><stop offset=".393" stop-color="#2a2a2a"/><stop offset=".397" stop-color="#181818"/><stop offset=".409" stop-color="#121212"/><stop offset=".428" stop-color="#161616"/><stop offset=".430" stop-color="#1c1c1c"/><stop offset=".432" stop-color="#2c2c2c"/><stop offset=".435" stop-color="#262626"/><stop offset=".437" stop-color="#191919"/><stop offset=".449" stop-color="#121212"/><stop offset=".472" stop-color="#151515"/><stop offset=".474" stop-color="#191919"/><stop offset=".477" stop-color="#262626"/><stop offset=".479" stop-color="#252525"/><stop offset=".481" stop-color="#191919"/><stop offset=".493" stop-color="#121212"/><stop offset=".523" stop-color="#171717"/><stop offset=".530" stop-color="#242424"/><stop offset=".535" stop-color="#3e3e3e"/><stop offset=".537" stop-color="#4f4f4f"/><stop offset=".540" stop-color="#595959"/><stop offset=".542" stop-color="#565656"/><stop offset=".549" stop-color="#343434"/><stop offset=".554" stop-color="#333333"/><stop offset=".558" stop-color="#464646"/><stop offset=".561" stop-color="#595959"/><stop offset=".563" stop-color="#757575"/><stop offset=".565" stop-color="#9b9b9b"/><stop offset=".570" stop-color="#fbfbfb"/><stop offset=".577" stop-color="#ffffff"/><stop offset=".579" stop-color="#e7e7e7"/><stop offset=".584" stop-color="#8a8a8a"/><stop offset=".586" stop-color="#676767"/><stop offset=".589" stop-color="#4e4e4e"/><stop offset=".593" stop-color="#303030"/><stop offset=".600" stop-color="#1e1e1e"/><stop offset=".619" stop-color="#131313"/><stop offset=".664" stop-color="#171717"/><stop offset=".675" stop-color="#242424"/><stop offset=".680" stop-color="#323232"/><stop offset=".685" stop-color="#4e4e4e"/><stop offset=".687" stop-color="#676767"/><stop offset=".689" stop-color="#8c8c8c"/><stop offset=".694" stop-color="#ffffff"/><stop offset=".717" stop-color="#ffffff"/><stop offset=".720" stop-color="#b9b9b9"/><stop offset=".722" stop-color="#858585"/><stop offset=".724" stop-color="#636363"/><stop offset=".727" stop-color="#4b4b4b"/><stop offset=".731" stop-color="#303030"/><stop offset=".738" stop-color="#1f1f1f"/><stop offset=".757" stop-color="#141414"/><stop offset=".783" stop-color="#151515"/><stop offset=".790" stop-color="#212121"/><stop offset=".794" stop-color="#333333"/><stop offset=".797" stop-color="#373737"/><stop offset=".801" stop-color="#292929"/><stop offset=".808" stop-color="#171717"/><stop offset=".839" stop-color="#111111"/><stop offset="1.000" stop-color="#111111"/></linearGradient><linearGradient id="fa1_10" gradientUnits="userSpaceOnUse" x1="84" x2="298" y1="0" y2="0"><stop offset=".000" stop-color="#141414"/><stop offset=".105" stop-color="#1f1f1f"/><stop offset=".124" stop-color="#2d2d2d"/><stop offset=".131" stop-color="#3f3f3f"/><stop offset=".136" stop-color="#5c5c5c"/><stop offset=".140" stop-color="#868686"/><stop offset=".143" stop-color="#959595"/><stop offset=".145" stop-color="#969696"/><stop offset=".147" stop-color="#898989"/><stop offset=".154" stop-color="#4e4e4e"/><stop offset=".159" stop-color="#373737"/><stop offset=".168" stop-color="#262626"/><stop offset=".199" stop-color="#181818"/><stop offset=".206" stop-color="#1e1e1e"/><stop offset=".208" stop-color="#262626"/><stop offset=".213" stop-color="#181818"/><stop offset=".243" stop-color="#141414"/><stop offset=".250" stop-color="#1c1c1c"/><stop offset=".257" stop-color="#131313"/><stop offset=".386" stop-color="#131313"/><stop offset=".390" stop-color="#191919"/><stop offset=".393" stop-color="#262626"/><stop offset=".395" stop-color="#282828"/><stop offset=".397" stop-color="#1a1a1a"/><stop offset=".407" stop-color="#121212"/><stop offset=".428" stop-color="#141414"/><stop offset=".430" stop-color="#181818"/><stop offset=".435" stop-color="#2f2f2f"/><stop offset=".437" stop-color="#1f1f1f"/><stop offset=".442" stop-color="#141414"/><stop offset=".472" stop-color="#141414"/><stop offset=".474" stop-color="#171717"/><stop offset=".479" stop-color="#292929"/><stop offset=".481" stop-color="#1b1b1b"/><stop offset=".488" stop-color="#121212"/><stop offset=".523" stop-color="#161616"/><stop offset=".530" stop-color="#242424"/><stop offset=".535" stop-color="#3c3c3c"/><stop offset=".540" stop-color="#565656"/><stop offset=".542" stop-color="#545454"/><stop offset=".549" stop-color="#333333"/><stop offset=".554" stop-color="#333333"/><stop offset=".558" stop-color="#474747"/><stop offset=".561" stop-color="#5b5b5b"/><stop offset=".563" stop-color="#787878"/><stop offset=".565" stop-color="#9f9f9f"/><stop offset=".570" stop-color="#fefefe"/><stop offset=".577" stop-color="#ffffff"/><stop offset=".579" stop-color="#e4e4e4"/><stop offset=".584" stop-color="#878787"/><stop offset=".586" stop-color="#656565"/><stop offset=".589" stop-color="#4d4d4d"/><stop offset=".593" stop-color="#303030"/><stop offset=".600" stop-color="#1d1d1d"/><stop offset=".619" stop-color="#131313"/><stop offset=".664" stop-color="#171717"/><stop offset=".675" stop-color="#252525"/><stop offset=".680" stop-color="#333333"/><stop offset=".685" stop-color="#525252"/><stop offset=".687" stop-color="#6c6c6c"/><stop offset=".689" stop-color="#939393"/><stop offset=".692" stop-color="#cccccc"/><stop offset=".694" stop-color="#ffffff"/><stop offset=".717" stop-color="#ffffff"/><stop offset=".720" stop-color="#b7b7b7"/><stop offset=".722" stop-color="#848484"/><stop offset=".724" stop-color="#626262"/><stop offset=".727" stop-color="#4b4b4b"/><stop offset=".731" stop-color="#303030"/><stop offset=".738" stop-color="#1f1f1f"/><stop offset=".757" stop-color="#141414"/><stop offset=".785" stop-color="#161616"/><stop offset=".792" stop-color="#272727"/><stop offset=".797" stop-color="#333333"/><stop offset=".808" stop-color="#161616"/><stop offset=".850" stop-color="#111111"/><stop offset="1.000" stop-color="#111111"/></linearGradient><linearGradient id="fa1_11" gradientUnits="userSpaceOnUse" x1="84" x2="298" y1="0" y2="0"><stop offset=".000" stop-color="#141414"/><stop offset=".098" stop-color="#1f1f1f"/><stop offset=".121" stop-color="#303030"/><stop offset=".131" stop-color="#464646"/><stop offset=".136" stop-color="#5f5f5f"/><stop offset=".140" stop-color="#828282"/><stop offset=".143" stop-color="#8e8e8e"/><stop offset=".145" stop-color="#909090"/><stop offset=".147" stop-color="#858585"/><stop offset=".154" stop-color="#535353"/><stop offset=".161" stop-color="#383838"/><stop offset=".178" stop-color="#232323"/><stop offset=".201" stop-color="#191919"/><stop offset=".206" stop-color="#1f1f1f"/><stop offset=".208" stop-color="#272727"/><stop offset=".213" stop-color="#191919"/><stop offset=".243" stop-color="#141414"/><stop offset=".250" stop-color="#1c1c1c"/><stop offset=".257" stop-color="#131313"/><stop offset=".388" stop-color="#141414"/><stop offset=".390" stop-color="#181818"/><stop offset=".395" stop-color="#2c2c2c"/><stop offset=".397" stop-color="#1c1c1c"/><stop offset=".402" stop-color="#141414"/><stop offset=".430" stop-color="#151515"/><stop offset=".432" stop-color="#1b1b1b"/><stop offset=".435" stop-color="#2a2a2a"/><stop offset=".437" stop-color="#292929"/><stop offset=".439" stop-color="#1a1a1a"/><stop offset=".449" stop-color="#121212"/><stop offset=".474" stop-color="#161616"/><stop offset=".479" stop-color="#2b2b2b"/><stop offset=".484" stop-color="#161616"/><stop offset=".512" stop-color="#121212"/><stop offset=".526" stop-color="#191919"/><stop offset=".530" stop-color="#232323"/><stop offset=".535" stop-color="#3b3b3b"/><stop offset=".540" stop-color="#545454"/><stop offset=".542" stop-color="#525252"/><stop offset=".549" stop-color="#333333"/><stop offset=".554" stop-color="#343434"/><stop offset=".558" stop-color="#494949"/><stop offset=".561" stop-color="#5e5e5e"/><stop offset=".563" stop-color="#7b7b7b"/><stop offset=".565" stop-color="#a3a3a3"/><stop offset=".570" stop-color="#ffffff"/><stop offset=".577" stop-color="#ffffff"/><stop offset=".579" stop-color="#e0e0e0"/><stop offset=".582" stop-color="#afafaf"/><stop offset=".584" stop-color="#848484"/><stop offset=".586" stop-color="#636363"/><stop offset=".589" stop-color="#4b4b4b"/><stop offset=".593" stop-color="#2f2f2f"/><stop offset=".600" stop-color="#1d1d1d"/><stop offset=".621" stop-color="#131313"/><stop offset=".664" stop-color="#171717"/><stop offset=".675" stop-color="#252525"/><stop offset=".680" stop-color="#343434"/><stop offset=".685" stop-color="#535353"/><stop offset=".687" stop-color="#6e6e6e"/><stop offset=".689" stop-color="#959595"/><stop offset=".692" stop-color="#d1d1d1"/><stop offset=".694" stop-color="#ffffff"/><stop offset=".715" stop-color="#ffffff"/><stop offset=".717" stop-color="#fafafa"/><stop offset=".720" stop-color="#b2b2b2"/><stop offset=".722" stop-color="#818181"/><stop offset=".724" stop-color="#606060"/><stop offset=".727" stop-color="#494949"/><stop offset=".731" stop-color="#2f2f2f"/><stop offset=".741" stop-color="#1c1c1c"/><stop offset=".766" stop-color="#121212"/><stop offset=".785" stop-color="#161616"/><stop offset=".792" stop-color="#242424"/><stop offset=".797" stop-color="#2f2f2f"/><stop offset=".808" stop-color="#151515"/><stop offset=".871" stop-color="#111111"/><stop offset="1.000" stop-color="#111111"/></linearGradient><linearGradient id="fa1_12" gradientUnits="userSpaceOnUse" x1="84" x2="298" y1="0" y2="0"><stop offset=".000" stop-color="#141414"/><stop offset=".096" stop-color="#1f1f1f"/><stop offset=".121" stop-color="#343434"/><stop offset=".131" stop-color="#484848"/><stop offset=".143" stop-color="#7f7f7f"/><stop offset=".145" stop-color="#808080"/><stop offset=".150" stop-color="#6c6c6c"/><stop offset=".157" stop-color="#4a4a4a"/><stop offset=".166" stop-color="#343434"/><stop offset=".192" stop-color="#1d1d1d"/><stop offset=".203" stop-color="#1b1b1b"/><stop offset=".208" stop-color="#272727"/><stop offset=".213" stop-color="#191919"/><stop offset=".243" stop-color="#141414"/><stop offset=".250" stop-color="#1c1c1c"/><stop offset=".257" stop-color="#131313"/><stop offset=".388" stop-color="#141414"/><stop offset=".393" stop-color="#1e1e1e"/><stop offset=".395" stop-color="#2d2d2d"/><stop offset=".400" stop-color="#171717"/><stop offset=".421" stop-color="#121212"/><stop offset=".432" stop-color="#171717"/><stop offset=".435" stop-color="#202020"/><stop offset=".437" stop-color="#303030"/><stop offset=".442" stop-color="#171717"/><stop offset=".460" stop-color="#121212"/><stop offset=".474" stop-color="#151515"/><stop offset=".477" stop-color="#1b1b1b"/><stop offset=".479" stop-color="#292929"/><stop offset=".484" stop-color="#171717"/><stop offset=".500" stop-color="#121212"/><stop offset=".526" stop-color="#191919"/><stop offset=".530" stop-color="#232323"/><stop offset=".535" stop-color="#3a3a3a"/><stop offset=".540" stop-color="#535353"/><stop offset=".542" stop-color="#505050"/><stop offset=".549" stop-color="#333333"/><stop offset=".554" stop-color="#353535"/><stop offset=".558" stop-color="#4b4b4b"/><stop offset=".561" stop-color="#606060"/><stop offset=".563" stop-color="#7f7f7f"/><stop offset=".565" stop-color="#a7a7a7"/><stop offset=".568" stop-color="#d8d8d8"/><stop offset=".570" stop-color="#ffffff"/><stop offset=".577" stop-color="#ffffff"/><stop offset=".579" stop-color="#dbdbdb"/><stop offset=".582" stop-color="#ababab"/><stop offset=".584" stop-color="#818181"/><stop offset=".586" stop-color="#616161"/><stop offset=".589" stop-color="#4a4a4a"/><stop offset=".593" stop-color="#2e2e2e"/><stop offset=".600" stop-color="#1d1d1d"/><stop offset=".621" stop-color="#131313"/><stop offset=".664" stop-color="#171717"/><stop offset=".675" stop-color="#252525"/><stop offset=".680" stop-color="#353535"/><stop offset=".685" stop-color="#545454"/><stop offset=".687" stop-color="#707070"/><stop offset=".689" stop-color="#989898"/><stop offset=".692" stop-color="#d5d5d5"/><stop offset=".694" stop-color="#ffffff"/><stop offset=".715" stop-color="#ffffff"/><stop offset=".717" stop-color="#f3f3f3"/><stop offset=".720" stop-color="#acacac"/><stop offset=".722" stop-color="#7d7d7d"/><stop offset=".724" stop-color="#5d5d5d"/><stop offset=".727" stop-color="#484848"/><stop offset=".731" stop-color="#2f2f2f"/><stop offset=".741" stop-color="#1b1b1b"/><stop offset=".769" stop-color="#121212"/><stop offset=".787" stop-color="#171717"/><stop offset=".797" stop-color="#2a2a2a"/><stop offset=".808" stop-color="#151515"/><stop offset=".937" stop-color="#111111"/><stop offset="1.000" stop-color="#111111"/></linearGradient><linearGradient id="fa1_13" gradientUnits="userSpaceOnUse" x1="84" x2="298" y1="0" y2="0"><stop offset=".000" stop-color="#141414"/><stop offset=".091" stop-color="#1e1e1e"/><stop offset=".119" stop-color="#343434"/><stop offset=".133" stop-color="#4e4e4e"/><stop offset=".143" stop-color="#6b6b6b"/><stop offset=".147" stop-color="#676767"/><stop offset=".159" stop-color="#444444"/><stop offset=".182" stop-color="#252525"/><stop offset=".203" stop-color="#1c1c1c"/><stop offset=".208" stop-color="#272727"/><stop offset=".213" stop-color="#191919"/><stop offset=".243" stop-color="#141414"/><stop offset=".250" stop-color="#1c1c1c"/><stop offset=".257" stop-color="#131313"/><stop offset=".388" stop-color="#131313"/><stop offset=".393" stop-color="#1c1c1c"/><stop offset=".395" stop-color="#2b2b2b"/><stop offset=".400" stop-color="#181818"/><stop offset=".414" stop-color="#121212"/><stop offset=".432" stop-color="#151515"/><stop offset=".435" stop-color="#1a1a1a"/><stop offset=".437" stop-color="#282828"/><stop offset=".439" stop-color="#2b2b2b"/><stop offset=".442" stop-color="#1b1b1b"/><stop offset=".449" stop-color="#131313"/><stop offset=".474" stop-color="#151515"/><stop offset=".477" stop-color="#191919"/><stop offset=".479" stop-color="#262626"/><stop offset=".481" stop-color="#262626"/><stop offset=".484" stop-color="#191919"/><stop offset=".495" stop-color="#121212"/><stop offset=".523" stop-color="#161616"/><stop offset=".530" stop-color="#222222"/><stop offset=".535" stop-color="#393939"/><stop offset=".540" stop-color="#515151"/><stop offset=".542" stop-color="#4e4e4e"/><stop offset=".549" stop-color="#333333"/><stop offset=".554" stop-color="#353535"/><stop offset=".558" stop-color="#4d4d4d"/><stop offset=".561" stop-color="#636363"/><stop offset=".563" stop-color="#828282"/><stop offset=".565" stop-color="#acacac"/><stop offset=".568" stop-color="#dcdcdc"/><stop offset=".570" stop-color="#ffffff"/><stop offset=".577" stop-color="#ffffff"/><stop offset=".579" stop-color="#d7d7d7"/><stop offset=".582" stop-color="#a7a7a7"/><stop offset=".584" stop-color="#7e7e7e"/><stop offset=".586" stop-color="#5f5f5f"/><stop offset=".589" stop-color="#484848"/><stop offset=".593" stop-color="#2d2d2d"/><stop offset=".600" stop-color="#1d1d1d"/><stop offset=".621" stop-color="#131313"/><stop offset=".664" stop-color="#171717"/><stop offset=".675" stop-color="#252525"/><stop offset=".680" stop-color="#353535"/><stop offset=".685" stop-color="#555555"/><stop offset=".687" stop-color="#727272"/><stop offset=".689" stop-color="#9c9c9c"/><stop offset=".692" stop-color="#dadada"/><stop offset=".694" stop-color="#ffffff"/><stop offset=".715" stop-color="#ffffff"/><stop offset=".717" stop-color="#ececec"/><stop offset=".720" stop-color="#a7a7a7"/><stop offset=".722" stop-color="#7a7a7a"/><stop offset=".724" stop-color="#5b5b5b"/><stop offset=".727" stop-color="#464646"/><stop offset=".731" stop-color="#2e2e2e"/><stop offset=".741" stop-color="#1b1b1b"/><stop offset=".769" stop-color="#121212"/><stop offset=".787" stop-color="#171717"/><stop offset=".797" stop-color="#282828"/><stop offset=".808" stop-color="#141414"/><stop offset="1.000" stop-color="#111111"/></linearGradient><linearGradient id="fa1_14" gradientUnits="userSpaceOnUse" x1="84" x2="298" y1="0" y2="0"><stop offset=".000" stop-color="#141414"/><stop offset=".089" stop-color="#1e1e1e"/><stop offset=".117" stop-color="#343434"/><stop offset=".138" stop-color="#565656"/><stop offset=".145" stop-color="#5e5e5e"/><stop offset=".175" stop-color="#2f2f2f"/><stop offset=".199" stop-color="#1c1c1c"/><stop offset=".206" stop-color="#202020"/><stop offset=".208" stop-color="#282828"/><stop offset=".213" stop-color="#191919"/><stop offset=".243" stop-color="#141414"/><stop offset=".250" stop-color="#1c1c1c"/><stop offset=".257" stop-color="#131313"/><stop offset=".388" stop-color="#131313"/><stop offset=".393" stop-color="#191919"/><stop offset=".395" stop-color="#272727"/><stop offset=".397" stop-color="#282828"/><stop offset=".400" stop-color="#1a1a1a"/><stop offset=".409" stop-color="#121212"/><stop offset=".432" stop-color="#141414"/><stop offset=".437" stop-color="#1e1e1e"/><stop offset=".439" stop-color="#2f2f2f"/><stop offset=".444" stop-color="#181818"/><stop offset=".458" stop-color="#121212"/><stop offset=".474" stop-color="#141414"/><stop offset=".477" stop-color="#171717"/><stop offset=".481" stop-color="#292929"/><stop offset=".484" stop-color="#1b1b1b"/><stop offset=".491" stop-color="#131313"/><stop offset=".523" stop-color="#161616"/><stop offset=".530" stop-color="#222222"/><stop offset=".540" stop-color="#4f4f4f"/><stop offset=".542" stop-color="#4d4d4d"/><stop offset=".549" stop-color="#333333"/><stop offset=".554" stop-color="#363636"/><stop offset=".558" stop-color="#4f4f4f"/><stop offset=".561" stop-color="#666666"/><stop offset=".563" stop-color="#868686"/><stop offset=".565" stop-color="#b0b0b0"/><stop offset=".568" stop-color="#e1e1e1"/><stop offset=".570" stop-color="#ffffff"/><stop offset=".577" stop-color="#ffffff"/><stop offset=".582" stop-color="#a3a3a3"/><stop offset=".584" stop-color="#7b7b7b"/><stop offset=".586" stop-color="#5d5d5d"/><stop offset=".589" stop-color="#474747"/><stop offset=".593" stop-color="#2d2d2d"/><stop offset=".600" stop-color="#1c1c1c"/><stop offset=".621" stop-color="#131313"/><stop offset=".664" stop-color="#171717"/><stop offset=".675" stop-color="#262626"/><stop offset=".680" stop-color="#363636"/><stop offset=".682" stop-color="#434343"/><stop offset=".685" stop-color="#575757"/><stop offset=".687" stop-color="#747474"/><stop offset=".689" stop-color="#9f9f9f"/><stop offset=".692" stop-color="#dfdfdf"/><stop offset=".694" stop-color="#ffffff"/><stop offset=".715" stop-color="#ffffff"/><stop offset=".717" stop-color="#e5e5e5"/><stop offset=".720" stop-color="#a3a3a3"/><stop offset=".722" stop-color="#767676"/><stop offset=".724" stop-color="#595959"/><stop offset=".727" stop-color="#444444"/><stop offset=".731" stop-color="#2d2d2d"/><stop offset=".741" stop-color="#1b1b1b"/><stop offset=".771" stop-color="#121212"/><stop offset=".787" stop-color="#161616"/><stop offset=".797" stop-color="#262626"/><stop offset=".808" stop-color="#141414"/><stop offset="1.000" stop-color="#111111"/></linearGradient><linearGradient id="fa1_15" gradientUnits="userSpaceOnUse" x1="84" x2="298" y1="0" y2="0"><stop offset=".000" stop-color="#141414"/><stop offset=".089" stop-color="#1e1e1e"/><stop offset=".117" stop-color="#363636"/><stop offset=".143" stop-color="#4e4e4e"/><stop offset=".159" stop-color="#444444"/><stop offset=".194" stop-color="#1e1e1e"/><stop offset=".203" stop-color="#1c1c1c"/><stop offset=".208" stop-color="#282828"/><stop offset=".213" stop-color="#191919"/><stop offset=".243" stop-color="#141414"/><stop offset=".250" stop-color="#1c1c1c"/><stop offset=".257" stop-color="#131313"/><stop offset=".390" stop-color="#141414"/><stop offset=".393" stop-color="#181818"/><stop offset=".397" stop-color="#2b2b2b"/><stop offset=".400" stop-color="#1c1c1c"/><stop offset=".404" stop-color="#131313"/><stop offset=".435" stop-color="#151515"/><stop offset=".437" stop-color="#191919"/><stop offset=".442" stop-color="#2d2d2d"/><stop offset=".444" stop-color="#1c1c1c"/><stop offset=".449" stop-color="#141414"/><stop offset=".474" stop-color="#131313"/><stop offset=".479" stop-color="#1c1c1c"/><stop offset=".481" stop-color="#282828"/><stop offset=".486" stop-color="#161616"/><stop offset=".516" stop-color="#131313"/><stop offset=".528" stop-color="#1c1c1c"/><stop offset=".533" stop-color="#2a2a2a"/><stop offset=".540" stop-color="#4d4d4d"/><stop offset=".542" stop-color="#4b4b4b"/><stop offset=".549" stop-color="#333333"/><stop offset=".554" stop-color="#373737"/><stop offset=".556" stop-color="#414141"/><stop offset=".558" stop-color="#515151"/><stop offset=".561" stop-color="#686868"/><stop offset=".563" stop-color="#8a8a8a"/><stop offset=".568" stop-color="#e5e5e5"/><stop offset=".570" stop-color="#ffffff"/><stop offset=".577" stop-color="#ffffff"/><stop offset=".582" stop-color="#9f9f9f"/><stop offset=".584" stop-color="#787878"/><stop offset=".586" stop-color="#5b5b5b"/><stop offset=".589" stop-color="#454545"/><stop offset=".593" stop-color="#2c2c2c"/><stop offset=".603" stop-color="#1a1a1a"/><stop offset=".633" stop-color="#121212"/><stop offset=".666" stop-color="#191919"/><stop offset=".675" stop-color="#262626"/><stop offset=".680" stop-color="#363636"/><stop offset=".682" stop-color="#444444"/><stop offset=".685" stop-color="#585858"/><stop offset=".687" stop-color="#767676"/><stop offset=".689" stop-color="#a2a2a2"/><stop offset=".692" stop-color="#e4e4e4"/><stop offset=".694" stop-color="#ffffff"/><stop offset=".715" stop-color="#ffffff"/><stop offset=".717" stop-color="#dedede"/><stop offset=".720" stop-color="#9e9e9e"/><stop offset=".722" stop-color="#737373"/><stop offset=".724" stop-color="#565656"/><stop offset=".729" stop-color="#363636"/><stop offset=".736" stop-color="#212121"/><stop offset=".752" stop-color="#141414"/><stop offset=".785" stop-color="#141414"/><stop offset=".797" stop-color="#252525"/><stop offset=".811" stop-color="#131313"/><stop offset="1.000" stop-color="#111111"/></linearGradient><linearGradient id="fa1_16" gradientUnits="userSpaceOnUse" x1="84" x2="298" y1="0" y2="0"><stop offset=".000" stop-color="#141414"/><stop offset=".089" stop-color="#1e1e1e"/><stop offset=".114" stop-color="#353535"/><stop offset=".138" stop-color="#4d4d4d"/><stop offset=".154" stop-color="#4b4b4b"/><stop offset=".194" stop-color="#1f1f1f"/><stop offset=".203" stop-color="#1d1d1d"/><stop offset=".208" stop-color="#282828"/><stop offset=".213" stop-color="#191919"/><stop offset=".243" stop-color="#141414"/><stop offset=".250" stop-color="#1c1c1c"/><stop offset=".257" stop-color="#131313"/><stop offset=".390" stop-color="#141414"/><stop offset=".395" stop-color="#1f1f1f"/><stop offset=".397" stop-color="#2d2d2d"/><stop offset=".402" stop-color="#171717"/><stop offset=".425" stop-color="#121212"/><stop offset=".437" stop-color="#161616"/><stop offset=".439" stop-color="#1d1d1d"/><stop offset=".442" stop-color="#2e2e2e"/><stop offset=".446" stop-color="#191919"/><stop offset=".458" stop-color="#121212"/><stop offset=".477" stop-color="#141414"/><stop offset=".479" stop-color="#191919"/><stop offset=".481" stop-color="#242424"/><stop offset=".488" stop-color="#141414"/><stop offset=".523" stop-color="#161616"/><stop offset=".530" stop-color="#212121"/><stop offset=".540" stop-color="#4b4b4b"/><stop offset=".542" stop-color="#494949"/><stop offset=".549" stop-color="#323232"/><stop offset=".554" stop-color="#383838"/><stop offset=".556" stop-color="#424242"/><stop offset=".558" stop-color="#535353"/><stop offset=".561" stop-color="#6b6b6b"/><stop offset=".563" stop-color="#8e8e8e"/><stop offset=".568" stop-color="#eaeaea"/><stop offset=".570" stop-color="#ffffff"/><stop offset=".577" stop-color="#fbfbfb"/><stop offset=".582" stop-color="#9c9c9c"/><stop offset=".584" stop-color="#757575"/><stop offset=".586" stop-color="#595959"/><stop offset=".589" stop-color="#444444"/><stop offset=".593" stop-color="#2c2c2c"/><stop offset=".603" stop-color="#1a1a1a"/><stop offset=".633" stop-color="#121212"/><stop offset=".666" stop-color="#191919"/><stop offset=".675" stop-color="#262626"/><stop offset=".680" stop-color="#373737"/><stop offset=".682" stop-color="#454545"/><stop offset=".685" stop-color="#5a5a5a"/><stop offset=".687" stop-color="#787878"/><stop offset=".689" stop-color="#a5a5a5"/><stop offset=".692" stop-color="#e9e9e9"/><stop offset=".694" stop-color="#ffffff"/><stop offset=".715" stop-color="#ffffff"/><stop offset=".717" stop-color="#d7d7d7"/><stop offset=".720" stop-color="#9a9a9a"/><stop offset=".722" stop-color="#707070"/><stop offset=".724" stop-color="#545454"/><stop offset=".729" stop-color="#343434"/><stop offset=".736" stop-color="#202020"/><stop offset=".752" stop-color="#141414"/><stop offset=".785" stop-color="#141414"/><stop offset=".797" stop-color="#242424"/><stop offset=".811" stop-color="#131313"/><stop offset="1.000" stop-color="#111111"/></linearGradient><linearGradient id="fa1_17" gradientUnits="userSpaceOnUse" x1="84" x2="298" y1="0" y2="0"><stop offset=".000" stop-color="#141414"/><stop offset=".089" stop-color="#1e1e1e"/><stop offset=".114" stop-color="#353535"/><stop offset=".138" stop-color="#4e4e4e"/><stop offset=".154" stop-color="#4c4c4c"/><stop offset=".194" stop-color="#1f1f1f"/><stop offset=".203" stop-color="#1d1d1d"/><stop offset=".208" stop-color="#282828"/><stop offset=".213" stop-color="#1a1a1a"/><stop offset=".243" stop-color="#141414"/><stop offset=".250" stop-color="#1c1c1c"/><stop offset=".257" stop-color="#131313"/><stop offset=".390" stop-color="#131313"/><stop offset=".395" stop-color="#1c1c1c"/><stop offset=".397" stop-color="#2b2b2b"/><stop offset=".402" stop-color="#181818"/><stop offset=".416" stop-color="#121212"/><stop offset=".437" stop-color="#141414"/><stop offset=".439" stop-color="#181818"/><stop offset=".444" stop-color="#2f2f2f"/><stop offset=".446" stop-color="#1e1e1e"/><stop offset=".451" stop-color="#141414"/><stop offset=".477" stop-color="#131313"/><stop offset=".481" stop-color="#1e1e1e"/><stop offset=".484" stop-color="#1f1f1f"/><stop offset=".488" stop-color="#141414"/><stop offset=".523" stop-color="#161616"/><stop offset=".530" stop-color="#202020"/><stop offset=".540" stop-color="#494949"/><stop offset=".542" stop-color="#484848"/><stop offset=".549" stop-color="#323232"/><stop offset=".554" stop-color="#393939"/><stop offset=".556" stop-color="#434343"/><stop offset=".558" stop-color="#555555"/><stop offset=".561" stop-color="#6e6e6e"/><stop offset=".563" stop-color="#919191"/><stop offset=".568" stop-color="#eeeeee"/><stop offset=".570" stop-color="#ffffff"/><stop offset=".575" stop-color="#ffffff"/><stop offset=".577" stop-color="#f7f7f7"/><stop offset=".582" stop-color="#989898"/><stop offset=".584" stop-color="#737373"/><stop offset=".586" stop-color="#575757"/><stop offset=".591" stop-color="#353535"/><stop offset=".598" stop-color="#1f1f1f"/><stop offset=".614" stop-color="#141414"/><stop offset=".661" stop-color="#161616"/><stop offset=".673" stop-color="#222222"/><stop offset=".680" stop-color="#383838"/><stop offset=".682" stop-color="#464646"/><stop offset=".685" stop-color="#5b5b5b"/><stop offset=".687" stop-color="#7a7a7a"/><stop offset=".689" stop-color="#a9a9a9"/><stop offset=".692" stop-color="#eeeeee"/><stop offset=".694" stop-color="#ffffff"/><stop offset=".715" stop-color="#ffffff"/><stop offset=".717" stop-color="#d1d1d1"/><stop offset=".720" stop-color="#959595"/><stop offset=".722" stop-color="#6d6d6d"/><stop offset=".724" stop-color="#525252"/><stop offset=".729" stop-color="#333333"/><stop offset=".736" stop-color="#202020"/><stop offset=".755" stop-color="#141414"/><stop offset=".787" stop-color="#161616"/><stop offset=".797" stop-color="#232323"/><stop offset=".811" stop-color="#131313"/><stop offset="1.000" stop-color="#111111"/></linearGradient><linearGradient id="fa1_18" gradientUnits="userSpaceOnUse" x1="84" x2="298" y1="0" y2="0"><stop offset=".000" stop-color="#141414"/><stop offset=".089" stop-color="#1e1e1e"/><stop offset=".117" stop-color="#373737"/><stop offset=".140" stop-color="#4e4e4e"/><stop offset=".157" stop-color="#484848"/><stop offset=".194" stop-color="#1f1f1f"/><stop offset=".203" stop-color="#1c1c1c"/><stop offset=".208" stop-color="#282828"/><stop offset=".213" stop-color="#191919"/><stop offset=".243" stop-color="#141414"/><stop offset=".250" stop-color="#1c1c1c"/><stop offset=".257" stop-color="#131313"/><stop offset=".390" stop-color="#131313"/><stop offset=".395" stop-color="#1a1a1a"/><stop offset=".397" stop-color="#282828"/><stop offset=".400" stop-color="#272727"/><stop offset=".402" stop-color="#191919"/><stop offset=".411" stop-color="#121212"/><stop offset=".439" stop-color="#161616"/><stop offset=".442" stop-color="#1c1c1c"/><stop offset=".444" stop-color="#2c2c2c"/><stop offset=".446" stop-color="#272727"/><stop offset=".449" stop-color="#191919"/><stop offset=".458" stop-color="#121212"/><stop offset=".479" stop-color="#141414"/><stop offset=".484" stop-color="#1e1e1e"/><stop offset=".488" stop-color="#141414"/><stop offset=".516" stop-color="#151515"/><stop offset=".528" stop-color="#1b1b1b"/><stop offset=".533" stop-color="#282828"/><stop offset=".540" stop-color="#474747"/><stop offset=".542" stop-color="#464646"/><stop offset=".549" stop-color="#323232"/><stop offset=".554" stop-color="#393939"/><stop offset=".556" stop-color="#454545"/><stop offset=".558" stop-color="#575757"/><stop offset=".561" stop-color="#717171"/><stop offset=".563" stop-color="#959595"/><stop offset=".568" stop-color="#f3f3f3"/><stop offset=".570" stop-color="#ffffff"/><stop offset=".575" stop-color="#ffffff"/><stop offset=".577" stop-color="#f3f3f3"/><stop offset=".582" stop-color="#959595"/><stop offset=".584" stop-color="#707070"/><stop offset=".586" stop-color="#555555"/><stop offset=".591" stop-color="#343434"/><stop offset=".598" stop-color="#1f1f1f"/><stop offset=".614" stop-color="#141414"/><stop offset=".661" stop-color="#161616"/><stop offset=".673" stop-color="#222222"/><stop offset=".680" stop-color="#383838"/><stop offset=".682" stop-color="#474747"/><stop offset=".685" stop-color="#5d5d5d"/><stop offset=".687" stop-color="#7d7d7d"/><stop offset=".689" stop-color="#acacac"/><stop offset=".692" stop-color="#f4f4f4"/><stop offset=".694" stop-color="#ffffff"/><stop offset=".715" stop-color="#ffffff"/><stop offset=".720" stop-color="#919191"/><stop offset=".722" stop-color="#6a6a6a"/><stop offset=".724" stop-color="#505050"/><stop offset=".729" stop-color="#323232"/><stop offset=".736" stop-color="#202020"/><stop offset=".755" stop-color="#141414"/><stop offset=".787" stop-color="#151515"/><stop offset=".797" stop-color="#222222"/><stop offset=".811" stop-color="#121212"/><stop offset="1.000" stop-color="#111111"/></linearGradient><linearGradient id="fa1_19" gradientUnits="userSpaceOnUse" x1="84" x2="298" y1="0" y2="0"><stop offset=".000" stop-color="#141414"/><stop offset=".089" stop-color="#1e1e1e"/><stop offset=".117" stop-color="#363636"/><stop offset=".140" stop-color="#4c4c4c"/><stop offset=".157" stop-color="#474747"/><stop offset=".194" stop-color="#1f1f1f"/><stop offset=".203" stop-color="#1c1c1c"/><stop offset=".208" stop-color="#282828"/><stop offset=".213" stop-color="#191919"/><stop offset=".243" stop-color="#141414"/><stop offset=".250" stop-color="#1c1c1c"/><stop offset=".257" stop-color="#131313"/><stop offset=".393" stop-color="#141414"/><stop offset=".395" stop-color="#181818"/><stop offset=".400" stop-color="#2b2b2b"/><stop offset=".402" stop-color="#1c1c1c"/><stop offset=".409" stop-color="#121212"/><stop offset=".439" stop-color="#141414"/><stop offset=".442" stop-color="#171717"/><stop offset=".446" stop-color="#2f2f2f"/><stop offset=".449" stop-color="#1f1f1f"/><stop offset=".453" stop-color="#141414"/><stop offset=".479" stop-color="#131313"/><stop offset=".484" stop-color="#1c1c1c"/><stop offset=".491" stop-color="#121212"/><stop offset=".514" stop-color="#151515"/><stop offset=".519" stop-color="#1e1e1e"/><stop offset=".526" stop-color="#191919"/><stop offset=".533" stop-color="#272727"/><stop offset=".540" stop-color="#464646"/><stop offset=".542" stop-color="#454545"/><stop offset=".549" stop-color="#323232"/><stop offset=".554" stop-color="#3a3a3a"/><stop offset=".556" stop-color="#464646"/><stop offset=".558" stop-color="#595959"/><stop offset=".561" stop-color="#747474"/><stop offset=".563" stop-color="#999999"/><stop offset=".568" stop-color="#f7f7f7"/><stop offset=".570" stop-color="#ffffff"/><stop offset=".575" stop-color="#ffffff"/><stop offset=".577" stop-color="#efefef"/><stop offset=".582" stop-color="#919191"/><stop offset=".584" stop-color="#6d6d6d"/><stop offset=".586" stop-color="#535353"/><stop offset=".591" stop-color="#333333"/><stop offset=".598" stop-color="#1f1f1f"/><stop offset=".614" stop-color="#141414"/><stop offset=".661" stop-color="#161616"/><stop offset=".673" stop-color="#222222"/><stop offset=".680" stop-color="#393939"/><stop offset=".682" stop-color="#484848"/><stop offset=".685" stop-color="#5e5e5e"/><stop offset=".687" stop-color="#7f7f7f"/><stop offset=".689" stop-color="#b0b0b0"/><stop offset=".692" stop-color="#f9f9f9"/><stop offset=".696" stop-color="#ffffff"/><stop offset=".715" stop-color="#ffffff"/><stop offset=".720" stop-color="#8d8d8d"/><stop offset=".722" stop-color="#676767"/><stop offset=".724" stop-color="#4e4e4e"/><stop offset=".729" stop-color="#313131"/><stop offset=".736" stop-color="#1f1f1f"/><stop offset=".755" stop-color="#141414"/><stop offset=".787" stop-color="#151515"/><stop offset=".797" stop-color="#212121"/><stop offset=".811" stop-color="#121212"/><stop offset=".974" stop-color="#101010"/><stop offset="1.000" stop-color="#111111"/></linearGradient><linearGradient id="fa1_20" gradientUnits="userSpaceOnUse" x1="84" x2="298" y1="0" y2="0"><stop offset=".000" stop-color="#141414"/><stop offset=".091" stop-color="#1e1e1e"/><stop offset=".140" stop-color="#454545"/><stop offset=".159" stop-color="#3f3f3f"/><stop offset=".196" stop-color="#1c1c1c"/><stop offset=".203" stop-color="#1c1c1c"/><stop offset=".208" stop-color="#282828"/><stop offset=".213" stop-color="#191919"/><stop offset=".243" stop-color="#141414"/><stop offset=".250" stop-color="#1c1c1c"/><stop offset=".257" stop-color="#131313"/><stop offset=".393" stop-color="#141414"/><stop offset=".397" stop-color="#1f1f1f"/><stop offset=".400" stop-color="#2d2d2d"/><stop offset=".402" stop-color="#1e1e1e"/><stop offset=".407" stop-color="#141414"/><stop offset=".439" stop-color="#131313"/><stop offset=".444" stop-color="#1a1a1a"/><stop offset=".446" stop-color="#2a2a2a"/><stop offset=".449" stop-color="#292929"/><stop offset=".451" stop-color="#1a1a1a"/><stop offset=".458" stop-color="#121212"/><stop offset=".481" stop-color="#141414"/><stop offset=".486" stop-color="#161616"/><stop offset=".502" stop-color="#121212"/><stop offset=".514" stop-color="#161616"/><stop offset=".519" stop-color="#242424"/><stop offset=".526" stop-color="#1a1a1a"/><stop offset=".533" stop-color="#272727"/><stop offset=".540" stop-color="#454545"/><stop offset=".544" stop-color="#3d3d3d"/><stop offset=".549" stop-color="#333333"/><stop offset=".554" stop-color="#3c3c3c"/><stop offset=".556" stop-color="#484848"/><stop offset=".558" stop-color="#5c5c5c"/><stop offset=".561" stop-color="#787878"/><stop offset=".563" stop-color="#9e9e9e"/><stop offset=".568" stop-color="#fbfbfb"/><stop offset=".575" stop-color="#ffffff"/><stop offset=".577" stop-color="#ebebeb"/><stop offset=".582" stop-color="#8e8e8e"/><stop offset=".584" stop-color="#6b6b6b"/><stop offset=".586" stop-color="#515151"/><stop offset=".591" stop-color="#323232"/><stop offset=".598" stop-color="#1e1e1e"/><stop offset=".617" stop-color="#131313"/><stop offset=".661" stop-color="#161616"/><stop offset=".673" stop-color="#222222"/><stop offset=".680" stop-color="#3a3a3a"/><stop offset=".682" stop-color="#494949"/><stop offset=".685" stop-color="#606060"/><stop offset=".687" stop-color="#818181"/><stop offset=".689" stop-color="#b4b4b4"/><stop offset=".692" stop-color="#ffffff"/><stop offset=".715" stop-color="#ffffff"/><stop offset=".717" stop-color="#bfbfbf"/><stop offset=".720" stop-color="#898989"/><stop offset=".722" stop-color="#656565"/><stop offset=".724" stop-color="#4c4c4c"/><stop offset=".729" stop-color="#313131"/><stop offset=".736" stop-color="#1f1f1f"/><stop offset=".755" stop-color="#141414"/><stop offset=".787" stop-color="#151515"/><stop offset=".797" stop-color="#202020"/><stop offset=".811" stop-color="#121212"/><stop offset=".963" stop-color="#0f0f0f"/><stop offset="1.000" stop-color="#111111"/></linearGradient><linearGradient id="fa1_21" gradientUnits="userSpaceOnUse" x1="84" x2="298" y1="0" y2="0"><stop offset=".000" stop-color="#141414"/><stop offset=".093" stop-color="#1e1e1e"/><stop offset=".143" stop-color="#3e3e3e"/><stop offset=".166" stop-color="#323232"/><stop offset=".199" stop-color="#1b1b1b"/><stop offset=".206" stop-color="#1f1f1f"/><stop offset=".208" stop-color="#272727"/><stop offset=".213" stop-color="#191919"/><stop offset=".243" stop-color="#141414"/><stop offset=".250" stop-color="#1c1c1c"/><stop offset=".257" stop-color="#131313"/><stop offset=".393" stop-color="#131313"/><stop offset=".397" stop-color="#1c1c1c"/><stop offset=".400" stop-color="#2c2c2c"/><stop offset=".404" stop-color="#181818"/><stop offset=".421" stop-color="#111111"/><stop offset=".442" stop-color="#141414"/><stop offset=".446" stop-color="#1f1f1f"/><stop offset=".449" stop-color="#2f2f2f"/><stop offset=".453" stop-color="#171717"/><stop offset=".470" stop-color="#121212"/><stop offset=".488" stop-color="#131313"/><stop offset=".512" stop-color="#151515"/><stop offset=".516" stop-color="#1d1d1d"/><stop offset=".519" stop-color="#2a2a2a"/><stop offset=".523" stop-color="#1d1d1d"/><stop offset=".530" stop-color="#202020"/><stop offset=".540" stop-color="#444444"/><stop offset=".544" stop-color="#3c3c3c"/><stop offset=".549" stop-color="#333333"/><stop offset=".554" stop-color="#3d3d3d"/><stop offset=".556" stop-color="#4a4a4a"/><stop offset=".558" stop-color="#5e5e5e"/><stop offset=".561" stop-color="#7b7b7b"/><stop offset=".563" stop-color="#a2a2a2"/><stop offset=".568" stop-color="#ffffff"/><stop offset=".575" stop-color="#ffffff"/><stop offset=".577" stop-color="#e7e7e7"/><stop offset=".582" stop-color="#8b8b8b"/><stop offset=".584" stop-color="#696969"/><stop offset=".586" stop-color="#505050"/><stop offset=".591" stop-color="#313131"/><stop offset=".598" stop-color="#1e1e1e"/><stop offset=".617" stop-color="#131313"/><stop offset=".661" stop-color="#161616"/><stop offset=".673" stop-color="#222222"/><stop offset=".680" stop-color="#3a3a3a"/><stop offset=".682" stop-color="#4a4a4a"/><stop offset=".685" stop-color="#616161"/><stop offset=".687" stop-color="#848484"/><stop offset=".689" stop-color="#b8b8b8"/><stop offset=".692" stop-color="#ffffff"/><stop offset=".715" stop-color="#ffffff"/><stop offset=".717" stop-color="#b9b9b9"/><stop offset=".720" stop-color="#858585"/><stop offset=".722" stop-color="#626262"/><stop offset=".724" stop-color="#4b4b4b"/><stop offset=".729" stop-color="#303030"/><stop offset=".736" stop-color="#1e1e1e"/><stop offset=".757" stop-color="#131313"/><stop offset=".787" stop-color="#151515"/><stop offset=".797" stop-color="#202020"/><stop offset=".811" stop-color="#121212"/><stop offset=".956" stop-color="#0e0e0e"/><stop offset="1.000" stop-color="#111111"/></linearGradient><linearGradient id="fa1_22" gradientUnits="userSpaceOnUse" x1="84" x2="298" y1="0" y2="0"><stop offset=".000" stop-color="#141414"/><stop offset=".096" stop-color="#1e1e1e"/><stop offset=".143" stop-color="#363636"/><stop offset=".168" stop-color="#2b2b2b"/><stop offset=".201" stop-color="#1a1a1a"/><stop offset=".206" stop-color="#1f1f1f"/><stop offset=".208" stop-color="#272727"/><stop offset=".213" stop-color="#191919"/><stop offset=".243" stop-color="#141414"/><stop offset=".250" stop-color="#1c1c1c"/><stop offset=".257" stop-color="#131313"/><stop offset=".393" stop-color="#131313"/><stop offset=".397" stop-color="#1a1a1a"/><stop offset=".400" stop-color="#282828"/><stop offset=".402" stop-color="#262626"/><stop offset=".404" stop-color="#191919"/><stop offset=".414" stop-color="#121212"/><stop offset=".444" stop-color="#151515"/><stop offset=".446" stop-color="#191919"/><stop offset=".449" stop-color="#272727"/><stop offset=".451" stop-color="#2c2c2c"/><stop offset=".453" stop-color="#1b1b1b"/><stop offset=".460" stop-color="#121212"/><stop offset=".512" stop-color="#151515"/><stop offset=".516" stop-color="#1e1e1e"/><stop offset=".519" stop-color="#2c2c2c"/><stop offset=".521" stop-color="#2a2a2a"/><stop offset=".523" stop-color="#1e1e1e"/><stop offset=".528" stop-color="#1c1c1c"/><stop offset=".535" stop-color="#313131"/><stop offset=".540" stop-color="#434343"/><stop offset=".544" stop-color="#3c3c3c"/><stop offset=".549" stop-color="#333333"/><stop offset=".554" stop-color="#3e3e3e"/><stop offset=".556" stop-color="#4c4c4c"/><stop offset=".558" stop-color="#616161"/><stop offset=".561" stop-color="#7e7e7e"/><stop offset=".563" stop-color="#a6a6a6"/><stop offset=".568" stop-color="#ffffff"/><stop offset=".575" stop-color="#ffffff"/><stop offset=".577" stop-color="#e3e3e3"/><stop offset=".582" stop-color="#888888"/><stop offset=".584" stop-color="#666666"/><stop offset=".586" stop-color="#4e4e4e"/><stop offset=".591" stop-color="#313131"/><stop offset=".598" stop-color="#1e1e1e"/><stop offset=".617" stop-color="#131313"/><stop offset=".661" stop-color="#171717"/><stop offset=".673" stop-color="#232323"/><stop offset=".680" stop-color="#3b3b3b"/><stop offset=".682" stop-color="#4b4b4b"/><stop offset=".685" stop-color="#636363"/><stop offset=".687" stop-color="#878787"/><stop offset=".689" stop-color="#bcbcbc"/><stop offset=".692" stop-color="#ffffff"/><stop offset=".715" stop-color="#ffffff"/><stop offset=".717" stop-color="#b4b4b4"/><stop offset=".720" stop-color="#818181"/><stop offset=".722" stop-color="#5f5f5f"/><stop offset=".724" stop-color="#494949"/><stop offset=".729" stop-color="#2f2f2f"/><stop offset=".738" stop-color="#1b1b1b"/><stop offset=".766" stop-color="#121212"/><stop offset=".790" stop-color="#171717"/><stop offset=".797" stop-color="#202020"/><stop offset=".811" stop-color="#121212"/><stop offset=".951" stop-color="#0e0e0e"/><stop offset="1.000" stop-color="#101010"/></linearGradient><linearGradient id="fa1_23" gradientUnits="userSpaceOnUse" x1="84" x2="298" y1="0" y2="0"><stop offset=".000" stop-color="#141414"/><stop offset=".103" stop-color="#1f1f1f"/><stop offset=".145" stop-color="#2f2f2f"/><stop offset=".201" stop-color="#191919"/><stop offset=".206" stop-color="#1f1f1f"/><stop offset=".208" stop-color="#262626"/><stop offset=".213" stop-color="#181818"/><stop offset=".243" stop-color="#141414"/><stop offset=".250" stop-color="#1b1b1b"/><stop offset=".257" stop-color="#131313"/><stop offset=".395" stop-color="#141414"/><stop offset=".397" stop-color="#181818"/><stop offset=".402" stop-color="#292929"/><stop offset=".404" stop-color="#1a1a1a"/><stop offset=".411" stop-color="#121212"/><stop offset=".444" stop-color="#141414"/><stop offset=".449" stop-color="#1e1e1e"/><stop offset=".451" stop-color="#2f2f2f"/><stop offset=".456" stop-color="#181818"/><stop offset=".470" stop-color="#111111"/><stop offset=".512" stop-color="#151515"/><stop offset=".516" stop-color="#1d1d1d"/><stop offset=".519" stop-color="#2b2b2b"/><stop offset=".521" stop-color="#2b2b2b"/><stop offset=".523" stop-color="#1f1f1f"/><stop offset=".528" stop-color="#1d1d1d"/><stop offset=".535" stop-color="#303030"/><stop offset=".540" stop-color="#424242"/><stop offset=".544" stop-color="#3c3c3c"/><stop offset=".549" stop-color="#353535"/><stop offset=".554" stop-color="#414141"/><stop offset=".556" stop-color="#505050"/><stop offset=".558" stop-color="#676767"/><stop offset=".561" stop-color="#878787"/><stop offset=".563" stop-color="#b0b0b0"/><stop offset=".565" stop-color="#e0e0e0"/><stop offset=".568" stop-color="#ffffff"/><stop offset=".575" stop-color="#ffffff"/><stop offset=".577" stop-color="#d9d9d9"/><stop offset=".579" stop-color="#a9a9a9"/><stop offset=".582" stop-color="#818181"/><stop offset=".584" stop-color="#616161"/><stop offset=".586" stop-color="#4a4a4a"/><stop offset=".591" stop-color="#2f2f2f"/><stop offset=".598" stop-color="#1d1d1d"/><stop offset=".617" stop-color="#131313"/><stop offset=".661" stop-color="#171717"/><stop offset=".673" stop-color="#232323"/><stop offset=".680" stop-color="#3c3c3c"/><stop offset=".682" stop-color="#4d4d4d"/><stop offset=".685" stop-color="#656565"/><stop offset=".687" stop-color="#898989"/><stop offset=".689" stop-color="#c0c0c0"/><stop offset=".692" stop-color="#ffffff"/><stop offset=".713" stop-color="#ffffff"/><stop offset=".715" stop-color="#fbfbfb"/><stop offset=".717" stop-color="#b1b1b1"/><stop offset=".720" stop-color="#7f7f7f"/><stop offset=".722" stop-color="#5e5e5e"/><stop offset=".724" stop-color="#484848"/><stop offset=".729" stop-color="#2e2e2e"/><stop offset=".738" stop-color="#1b1b1b"/><stop offset=".766" stop-color="#121212"/><stop offset=".790" stop-color="#171717"/><stop offset=".797" stop-color="#202020"/><stop offset=".811" stop-color="#121212"/><stop offset=".951" stop-color="#0e0e0e"/><stop offset="1.000" stop-color="#101010"/></linearGradient><linearGradient id="fa1_24" gradientUnits="userSpaceOnUse" x1="84" x2="298" y1="0" y2="0"><stop offset=".000" stop-color="#141414"/><stop offset=".112" stop-color="#202020"/><stop offset=".152" stop-color="#262626"/><stop offset=".201" stop-color="#181818"/><stop offset=".206" stop-color="#1e1e1e"/><stop offset=".208" stop-color="#262626"/><stop offset=".213" stop-color="#181818"/><stop offset=".245" stop-color="#151515"/><stop offset=".250" stop-color="#191919"/><stop offset=".262" stop-color="#121212"/><stop offset=".395" stop-color="#131313"/><stop offset=".400" stop-color="#1e1e1e"/><stop offset=".402" stop-color="#282828"/><stop offset=".404" stop-color="#1c1c1c"/><stop offset=".409" stop-color="#131313"/><stop offset=".446" stop-color="#141414"/><stop offset=".449" stop-color="#181818"/><stop offset=".453" stop-color="#2d2d2d"/><stop offset=".456" stop-color="#1d1d1d"/><stop offset=".460" stop-color="#141414"/><stop offset=".512" stop-color="#151515"/><stop offset=".516" stop-color="#1c1c1c"/><stop offset=".519" stop-color="#2a2a2a"/><stop offset=".521" stop-color="#2c2c2c"/><stop offset=".523" stop-color="#202020"/><stop offset=".528" stop-color="#1d1d1d"/><stop offset=".535" stop-color="#303030"/><stop offset=".540" stop-color="#424242"/><stop offset=".544" stop-color="#3d3d3d"/><stop offset=".549" stop-color="#373737"/><stop offset=".554" stop-color="#474747"/><stop offset=".556" stop-color="#585858"/><stop offset=".558" stop-color="#727272"/><stop offset=".561" stop-color="#959595"/><stop offset=".565" stop-color="#f0f0f0"/><stop offset=".568" stop-color="#ffffff"/><stop offset=".572" stop-color="#ffffff"/><stop offset=".575" stop-color="#f9f9f9"/><stop offset=".579" stop-color="#9c9c9c"/><stop offset=".582" stop-color="#767676"/><stop offset=".584" stop-color="#5a5a5a"/><stop offset=".589" stop-color="#373737"/><stop offset=".596" stop-color="#202020"/><stop offset=".612" stop-color="#141414"/><stop offset=".659" stop-color="#161616"/><stop offset=".673" stop-color="#232323"/><stop offset=".678" stop-color="#313131"/><stop offset=".682" stop-color="#4e4e4e"/><stop offset=".685" stop-color="#676767"/><stop offset=".687" stop-color="#8c8c8c"/><stop offset=".692" stop-color="#ffffff"/><stop offset=".713" stop-color="#ffffff"/><stop offset=".715" stop-color="#fafafa"/><stop offset=".717" stop-color="#b1b1b1"/><stop offset=".720" stop-color="#7f7f7f"/><stop offset=".722" stop-color="#5e5e5e"/><stop offset=".724" stop-color="#484848"/><stop offset=".729" stop-color="#2f2f2f"/><stop offset=".738" stop-color="#1b1b1b"/><stop offset=".766" stop-color="#121212"/><stop offset=".790" stop-color="#171717"/><stop offset=".797" stop-color="#1f1f1f"/><stop offset=".811" stop-color="#121212"/><stop offset=".949" stop-color="#0d0d0d"/><stop offset="1.000" stop-color="#101010"/></linearGradient><linearGradient id="fa1_25" gradientUnits="userSpaceOnUse" x1="84" x2="298" y1="0" y2="0"><stop offset=".000" stop-color="#141414"/><stop offset=".157" stop-color="#1f1f1f"/><stop offset=".203" stop-color="#191919"/><stop offset=".208" stop-color="#262626"/><stop offset=".213" stop-color="#181818"/><stop offset=".245" stop-color="#141414"/><stop offset=".250" stop-color="#171717"/><stop offset=".271" stop-color="#121212"/><stop offset=".395" stop-color="#121212"/><stop offset=".400" stop-color="#191919"/><stop offset=".402" stop-color="#252525"/><stop offset=".407" stop-color="#151515"/><stop offset=".439" stop-color="#111111"/><stop offset=".449" stop-color="#161616"/><stop offset=".451" stop-color="#1c1c1c"/><stop offset=".453" stop-color="#2d2d2d"/><stop offset=".458" stop-color="#191919"/><stop offset=".470" stop-color="#121212"/><stop offset=".512" stop-color="#151515"/><stop offset=".516" stop-color="#1c1c1c"/><stop offset=".519" stop-color="#282828"/><stop offset=".521" stop-color="#2e2e2e"/><stop offset=".523" stop-color="#212121"/><stop offset=".528" stop-color="#1d1d1d"/><stop offset=".535" stop-color="#303030"/><stop offset=".540" stop-color="#424242"/><stop offset=".549" stop-color="#3a3a3a"/><stop offset=".551" stop-color="#414141"/><stop offset=".554" stop-color="#4d4d4d"/><stop offset=".556" stop-color="#616161"/><stop offset=".558" stop-color="#7e7e7e"/><stop offset=".561" stop-color="#a4a4a4"/><stop offset=".565" stop-color="#ffffff"/><stop offset=".572" stop-color="#ffffff"/><stop offset=".575" stop-color="#ebebeb"/><stop offset=".579" stop-color="#909090"/><stop offset=".582" stop-color="#6d6d6d"/><stop offset=".584" stop-color="#535353"/><stop offset=".589" stop-color="#343434"/><stop offset=".596" stop-color="#1f1f1f"/><stop offset=".612" stop-color="#141414"/><stop offset=".659" stop-color="#161616"/><stop offset=".673" stop-color="#242424"/><stop offset=".678" stop-color="#323232"/><stop offset=".682" stop-color="#505050"/><stop offset=".685" stop-color="#696969"/><stop offset=".687" stop-color="#8f8f8f"/><stop offset=".692" stop-color="#ffffff"/><stop offset=".713" stop-color="#ffffff"/><stop offset=".715" stop-color="#f9f9f9"/><stop offset=".717" stop-color="#b0b0b0"/><stop offset=".720" stop-color="#7f7f7f"/><stop offset=".722" stop-color="#5e5e5e"/><stop offset=".724" stop-color="#484848"/><stop offset=".729" stop-color="#2f2f2f"/><stop offset=".738" stop-color="#1b1b1b"/><stop offset=".766" stop-color="#121212"/><stop offset=".790" stop-color="#171717"/><stop offset=".797" stop-color="#1f1f1f"/><stop offset=".813" stop-color="#121212"/><stop offset=".951" stop-color="#0e0e0e"/><stop offset="1.000" stop-color="#101010"/></linearGradient><linearGradient id="fa1_26" gradientUnits="userSpaceOnUse" x1="84" x2="298" y1="0" y2="0"><stop offset=".000" stop-color="#141414"/><stop offset=".161" stop-color="#1a1a1a"/><stop offset=".203" stop-color="#181818"/><stop offset=".208" stop-color="#252525"/><stop offset=".213" stop-color="#181818"/><stop offset=".248" stop-color="#151515"/><stop offset=".390" stop-color="#111111"/><stop offset=".400" stop-color="#161616"/><stop offset=".402" stop-color="#202020"/><stop offset=".409" stop-color="#131313"/><stop offset=".449" stop-color="#141414"/><stop offset=".451" stop-color="#171717"/><stop offset=".456" stop-color="#2f2f2f"/><stop offset=".458" stop-color="#1e1e1e"/><stop offset=".463" stop-color="#141414"/><stop offset=".512" stop-color="#141414"/><stop offset=".516" stop-color="#1b1b1b"/><stop offset=".521" stop-color="#2f2f2f"/><stop offset=".523" stop-color="#222222"/><stop offset=".528" stop-color="#1d1d1d"/><stop offset=".535" stop-color="#303030"/><stop offset=".540" stop-color="#414141"/><stop offset=".549" stop-color="#3d3d3d"/><stop offset=".551" stop-color="#444444"/><stop offset=".554" stop-color="#525252"/><stop offset=".556" stop-color="#686868"/><stop offset=".558" stop-color="#878787"/><stop offset=".563" stop-color="#dbdbdb"/><stop offset=".565" stop-color="#ffffff"/><stop offset=".572" stop-color="#ffffff"/><stop offset=".577" stop-color="#a7a7a7"/><stop offset=".579" stop-color="#808080"/><stop offset=".582" stop-color="#626262"/><stop offset=".584" stop-color="#4b4b4b"/><stop offset=".589" stop-color="#303030"/><stop offset=".596" stop-color="#1e1e1e"/><stop offset=".614" stop-color="#131313"/><stop offset=".661" stop-color="#171717"/><stop offset=".673" stop-color="#242424"/><stop offset=".678" stop-color="#333333"/><stop offset=".682" stop-color="#515151"/><stop offset=".685" stop-color="#6b6b6b"/><stop offset=".687" stop-color="#929292"/><stop offset=".689" stop-color="#cccccc"/><stop offset=".692" stop-color="#ffffff"/><stop offset=".713" stop-color="#ffffff"/><stop offset=".715" stop-color="#f8f8f8"/><stop offset=".717" stop-color="#b0b0b0"/><stop offset=".720" stop-color="#7f7f7f"/><stop offset=".722" stop-color="#5e5e5e"/><stop offset=".724" stop-color="#484848"/><stop offset=".729" stop-color="#2f2f2f"/><stop offset=".738" stop-color="#1b1b1b"/><stop offset=".766" stop-color="#121212"/><stop offset=".790" stop-color="#171717"/><stop offset=".797" stop-color="#1f1f1f"/><stop offset=".813" stop-color="#121212"/><stop offset=".953" stop-color="#0e0e0e"/><stop offset="1.000" stop-color="#101010"/></linearGradient><linearGradient id="fa1_27" gradientUnits="userSpaceOnUse" x1="84" x2="298" y1="0" y2="0"><stop offset=".000" stop-color="#141414"/><stop offset=".157" stop-color="#181818"/><stop offset=".203" stop-color="#181818"/><stop offset=".208" stop-color="#252525"/><stop offset=".213" stop-color="#181818"/><stop offset=".320" stop-color="#101010"/><stop offset=".397" stop-color="#121212"/><stop offset=".404" stop-color="#1e1e1e"/><stop offset=".409" stop-color="#121212"/><stop offset=".449" stop-color="#131313"/><stop offset=".453" stop-color="#1b1b1b"/><stop offset=".456" stop-color="#2b2b2b"/><stop offset=".458" stop-color="#272727"/><stop offset=".460" stop-color="#191919"/><stop offset=".470" stop-color="#121212"/><stop offset=".514" stop-color="#161616"/><stop offset=".516" stop-color="#1a1a1a"/><stop offset=".521" stop-color="#303030"/><stop offset=".523" stop-color="#222222"/><stop offset=".528" stop-color="#1d1d1d"/><stop offset=".535" stop-color="#2f2f2f"/><stop offset=".540" stop-color="#414141"/><stop offset=".549" stop-color="#3f3f3f"/><stop offset=".551" stop-color="#474747"/><stop offset=".554" stop-color="#575757"/><stop offset=".556" stop-color="#6e6e6e"/><stop offset=".558" stop-color="#8e8e8e"/><stop offset=".563" stop-color="#e0e0e0"/><stop offset=".565" stop-color="#ffffff"/><stop offset=".570" stop-color="#ffffff"/><stop offset=".572" stop-color="#e8e8e8"/><stop offset=".577" stop-color="#949494"/><stop offset=".579" stop-color="#717171"/><stop offset=".582" stop-color="#575757"/><stop offset=".586" stop-color="#363636"/><stop offset=".593" stop-color="#202020"/><stop offset=".610" stop-color="#141414"/><stop offset=".659" stop-color="#161616"/><stop offset=".673" stop-color="#252525"/><stop offset=".678" stop-color="#343434"/><stop offset=".682" stop-color="#535353"/><stop offset=".685" stop-color="#6e6e6e"/><stop offset=".687" stop-color="#959595"/><stop offset=".689" stop-color="#d1d1d1"/><stop offset=".692" stop-color="#ffffff"/><stop offset=".713" stop-color="#ffffff"/><stop offset=".715" stop-color="#f7f7f7"/><stop offset=".717" stop-color="#afafaf"/><stop offset=".720" stop-color="#7f7f7f"/><stop offset=".722" stop-color="#5e5e5e"/><stop offset=".724" stop-color="#484848"/><stop offset=".729" stop-color="#2f2f2f"/><stop offset=".738" stop-color="#1b1b1b"/><stop offset=".766" stop-color="#121212"/><stop offset=".790" stop-color="#171717"/><stop offset=".797" stop-color="#1f1f1f"/><stop offset=".813" stop-color="#121212"/><stop offset=".958" stop-color="#0f0f0f"/><stop offset="1.000" stop-color="#101010"/></linearGradient><linearGradient id="fa1_28" gradientUnits="userSpaceOnUse" x1="84" x2="298" y1="0" y2="0"><stop offset=".000" stop-color="#141414"/><stop offset=".157" stop-color="#181818"/><stop offset=".189" stop-color="#181818"/><stop offset=".203" stop-color="#181818"/><stop offset=".208" stop-color="#252525"/><stop offset=".213" stop-color="#171717"/><stop offset=".320" stop-color="#101010"/><stop offset=".400" stop-color="#121212"/><stop offset=".404" stop-color="#1c1c1c"/><stop offset=".409" stop-color="#121212"/><stop offset=".451" stop-color="#131313"/><stop offset=".453" stop-color="#161616"/><stop offset=".458" stop-color="#2f2f2f"/><stop offset=".460" stop-color="#1f1f1f"/><stop offset=".465" stop-color="#131313"/><stop offset=".512" stop-color="#141414"/><stop offset=".516" stop-color="#1a1a1a"/><stop offset=".521" stop-color="#303030"/><stop offset=".523" stop-color="#232323"/><stop offset=".528" stop-color="#1d1d1d"/><stop offset=".535" stop-color="#2f2f2f"/><stop offset=".540" stop-color="#404040"/><stop offset=".547" stop-color="#3c3c3c"/><stop offset=".551" stop-color="#494949"/><stop offset=".554" stop-color="#595959"/><stop offset=".556" stop-color="#707070"/><stop offset=".561" stop-color="#b5b5b5"/><stop offset=".563" stop-color="#dadada"/><stop offset=".565" stop-color="#f4f4f4"/><stop offset=".568" stop-color="#fbfbfb"/><stop offset=".570" stop-color="#eaeaea"/><stop offset=".577" stop-color="#7e7e7e"/><stop offset=".579" stop-color="#616161"/><stop offset=".584" stop-color="#3b3b3b"/><stop offset=".591" stop-color="#222222"/><stop offset=".605" stop-color="#151515"/><stop offset=".657" stop-color="#151515"/><stop offset=".671" stop-color="#212121"/><stop offset=".678" stop-color="#353535"/><stop offset=".682" stop-color="#545454"/><stop offset=".685" stop-color="#707070"/><stop offset=".687" stop-color="#989898"/><stop offset=".689" stop-color="#d5d5d5"/><stop offset=".692" stop-color="#ffffff"/><stop offset=".713" stop-color="#ffffff"/><stop offset=".715" stop-color="#f6f6f6"/><stop offset=".717" stop-color="#afafaf"/><stop offset=".720" stop-color="#7f7f7f"/><stop offset=".722" stop-color="#5f5f5f"/><stop offset=".724" stop-color="#494949"/><stop offset=".729" stop-color="#2f2f2f"/><stop offset=".738" stop-color="#1c1c1c"/><stop offset=".766" stop-color="#121212"/><stop offset=".790" stop-color="#171717"/><stop offset=".797" stop-color="#1f1f1f"/><stop offset=".813" stop-color="#121212"/><stop offset=".965" stop-color="#0f0f0f"/><stop offset="1.000" stop-color="#111111"/></linearGradient><linearGradient id="fa1_29" gradientUnits="userSpaceOnUse" x1="84" x2="298" y1="0" y2="0"><stop offset=".000" stop-color="#141414"/><stop offset=".157" stop-color="#181818"/><stop offset=".185" stop-color="#1b1b1b"/><stop offset=".187" stop-color="#1d1d1d"/><stop offset=".196" stop-color="#161616"/><stop offset=".203" stop-color="#181818"/><stop offset=".208" stop-color="#252525"/><stop offset=".213" stop-color="#171717"/><stop offset=".318" stop-color="#0f0f0f"/><stop offset=".400" stop-color="#111111"/><stop offset=".404" stop-color="#191919"/><stop offset=".414" stop-color="#101010"/><stop offset=".453" stop-color="#141414"/><stop offset=".456" stop-color="#191919"/><stop offset=".458" stop-color="#282828"/><stop offset=".460" stop-color="#292929"/><stop offset=".463" stop-color="#1a1a1a"/><stop offset=".470" stop-color="#121212"/><stop offset=".514" stop-color="#161616"/><stop offset=".519" stop-color="#232323"/><stop offset=".521" stop-color="#303030"/><stop offset=".526" stop-color="#1e1e1e"/><stop offset=".530" stop-color="#202020"/><stop offset=".540" stop-color="#404040"/><stop offset=".547" stop-color="#3e3e3e"/><stop offset=".551" stop-color="#4b4b4b"/><stop offset=".554" stop-color="#5b5b5b"/><stop offset=".556" stop-color="#727272"/><stop offset=".563" stop-color="#cecece"/><stop offset=".565" stop-color="#e0e0e0"/><stop offset=".568" stop-color="#dfdfdf"/><stop offset=".570" stop-color="#cbcbcb"/><stop offset=".577" stop-color="#6d6d6d"/><stop offset=".582" stop-color="#434343"/><stop offset=".586" stop-color="#2c2c2c"/><stop offset=".596" stop-color="#1a1a1a"/><stop offset=".626" stop-color="#121212"/><stop offset=".664" stop-color="#191919"/><stop offset=".673" stop-color="#262626"/><stop offset=".678" stop-color="#373737"/><stop offset=".682" stop-color="#585858"/><stop offset=".685" stop-color="#747474"/><stop offset=".687" stop-color="#9e9e9e"/><stop offset=".689" stop-color="#dddddd"/><stop offset=".692" stop-color="#ffffff"/><stop offset=".713" stop-color="#ffffff"/><stop offset=".715" stop-color="#f9f9f9"/><stop offset=".717" stop-color="#b1b1b1"/><stop offset=".720" stop-color="#818181"/><stop offset=".722" stop-color="#606060"/><stop offset=".724" stop-color="#4a4a4a"/><stop offset=".729" stop-color="#303030"/><stop offset=".738" stop-color="#1c1c1c"/><stop offset=".764" stop-color="#121212"/><stop offset=".790" stop-color="#171717"/><stop offset=".797" stop-color="#1e1e1e"/><stop offset=".813" stop-color="#121212"/><stop offset=".979" stop-color="#101010"/><stop offset="1.000" stop-color="#111111"/></linearGradient><linearGradient id="fa1_30" gradientUnits="userSpaceOnUse" x1="84" x2="298" y1="0" y2="0"><stop offset=".000" stop-color="#141414"/><stop offset=".157" stop-color="#181818"/><stop offset=".182" stop-color="#191919"/><stop offset=".187" stop-color="#1f1f1f"/><stop offset=".194" stop-color="#171717"/><stop offset=".203" stop-color="#181818"/><stop offset=".208" stop-color="#252525"/><stop offset=".213" stop-color="#171717"/><stop offset=".320" stop-color="#0e0e0e"/><stop offset=".402" stop-color="#111111"/><stop offset=".407" stop-color="#131313"/><stop offset=".428" stop-color="#0f0f0f"/><stop offset=".453" stop-color="#121212"/><stop offset=".458" stop-color="#1e1e1e"/><stop offset=".460" stop-color="#2e2e2e"/><stop offset=".465" stop-color="#161616"/><stop offset=".481" stop-color="#111111"/><stop offset=".514" stop-color="#151515"/><stop offset=".519" stop-color="#222222"/><stop offset=".521" stop-color="#303030"/><stop offset=".526" stop-color="#1e1e1e"/><stop offset=".530" stop-color="#202020"/><stop offset=".540" stop-color="#3f3f3f"/><stop offset=".547" stop-color="#3e3e3e"/><stop offset=".551" stop-color="#4b4b4b"/><stop offset=".556" stop-color="#6e6e6e"/><stop offset=".561" stop-color="#a0a0a0"/><stop offset=".563" stop-color="#b4b4b4"/><stop offset=".565" stop-color="#bdbdbd"/><stop offset=".568" stop-color="#b8b8b8"/><stop offset=".570" stop-color="#a6a6a6"/><stop offset=".577" stop-color="#5c5c5c"/><stop offset=".582" stop-color="#3b3b3b"/><stop offset=".589" stop-color="#232323"/><stop offset=".603" stop-color="#151515"/><stop offset=".657" stop-color="#151515"/><stop offset=".671" stop-color="#212121"/><stop offset=".678" stop-color="#343434"/><stop offset=".682" stop-color="#535353"/><stop offset=".685" stop-color="#6d6d6d"/><stop offset=".687" stop-color="#939393"/><stop offset=".692" stop-color="#ffffff"/><stop offset=".713" stop-color="#ffffff"/><stop offset=".715" stop-color="#dedede"/><stop offset=".717" stop-color="#a0a0a0"/><stop offset=".720" stop-color="#767676"/><stop offset=".722" stop-color="#595959"/><stop offset=".727" stop-color="#373737"/><stop offset=".734" stop-color="#222222"/><stop offset=".750" stop-color="#151515"/><stop offset=".787" stop-color="#141414"/><stop offset=".797" stop-color="#1e1e1e"/><stop offset=".813" stop-color="#121212"/><stop offset="1.000" stop-color="#111111"/></linearGradient><linearGradient id="fa1_31" gradientUnits="userSpaceOnUse" x1="84" x2="298" y1="0" y2="0"><stop offset=".000" stop-color="#141414"/><stop offset=".131" stop-color="#1e1e1e"/><stop offset=".140" stop-color="#292929"/><stop offset=".147" stop-color="#454545"/><stop offset=".154" stop-color="#6f6f6f"/><stop offset=".157" stop-color="#717171"/><stop offset=".159" stop-color="#696969"/><stop offset=".168" stop-color="#323232"/><stop offset=".175" stop-color="#212121"/><stop offset=".182" stop-color="#1c1c1c"/><stop offset=".187" stop-color="#222222"/><stop offset=".194" stop-color="#181818"/><stop offset=".203" stop-color="#181818"/><stop offset=".208" stop-color="#252525"/><stop offset=".213" stop-color="#171717"/><stop offset=".313" stop-color="#0e0e0e"/><stop offset=".404" stop-color="#111111"/><stop offset=".449" stop-color="#121212"/><stop offset=".456" stop-color="#181818"/><stop offset=".458" stop-color="#1e1e1e"/><stop offset=".463" stop-color="#393939"/><stop offset=".465" stop-color="#2e2e2e"/><stop offset=".474" stop-color="#373737"/><stop offset=".486" stop-color="#1a1a1a"/><stop offset=".502" stop-color="#131313"/><stop offset=".516" stop-color="#191919"/><stop offset=".519" stop-color="#212121"/><stop offset=".521" stop-color="#303030"/><stop offset=".526" stop-color="#1e1e1e"/><stop offset=".530" stop-color="#202020"/><stop offset=".540" stop-color="#3d3d3d"/><stop offset=".549" stop-color="#3e3e3e"/><stop offset=".554" stop-color="#525252"/><stop offset=".561" stop-color="#868686"/><stop offset=".563" stop-color="#929292"/><stop offset=".565" stop-color="#979797"/><stop offset=".568" stop-color="#919191"/><stop offset=".577" stop-color="#595959"/><stop offset=".582" stop-color="#4e4e4e"/><stop offset=".593" stop-color="#5c5c5c"/><stop offset=".598" stop-color="#4f4f4f"/><stop offset=".607" stop-color="#2a2a2a"/><stop offset=".617" stop-color="#191919"/><stop offset=".647" stop-color="#131313"/><stop offset=".668" stop-color="#1c1c1c"/><stop offset=".678" stop-color="#2e2e2e"/><stop offset=".682" stop-color="#454545"/><stop offset=".685" stop-color="#575757"/><stop offset=".687" stop-color="#737373"/><stop offset=".689" stop-color="#9a9a9a"/><stop offset=".692" stop-color="#d1d1d1"/><stop offset=".694" stop-color="#ffffff"/><stop offset=".710" stop-color="#ffffff"/><stop offset=".713" stop-color="#dfdfdf"/><stop offset=".715" stop-color="#a4a4a4"/><stop offset=".717" stop-color="#7a7a7a"/><stop offset=".720" stop-color="#5c5c5c"/><stop offset=".722" stop-color="#484848"/><stop offset=".727" stop-color="#303030"/><stop offset=".736" stop-color="#1c1c1c"/><stop offset=".762" stop-color="#121212"/><stop offset=".790" stop-color="#161616"/><stop offset=".797" stop-color="#1e1e1e"/><stop offset=".813" stop-color="#121212"/><stop offset=".867" stop-color="#151515"/><stop offset=".886" stop-color="#151515"/><stop offset=".932" stop-color="#0f0f0f"/><stop offset="1.000" stop-color="#111111"/></linearGradient><linearGradient id="fa1_32" gradientUnits="userSpaceOnUse" x1="84" x2="298" y1="0" y2="0"><stop offset=".000" stop-color="#131313"/><stop offset=".119" stop-color="#1e1e1e"/><stop offset=".131" stop-color="#2c2c2c"/><stop offset=".136" stop-color="#3d3d3d"/><stop offset=".138" stop-color="#4c4c4c"/><stop offset=".140" stop-color="#616161"/><stop offset=".143" stop-color="#7f7f7f"/><stop offset=".145" stop-color="#a9a9a9"/><stop offset=".147" stop-color="#e1e1e1"/><stop offset=".150" stop-color="#ffffff"/><stop offset=".161" stop-color="#ffffff"/><stop offset=".164" stop-color="#fbfbfb"/><stop offset=".166" stop-color="#bdbdbd"/><stop offset=".168" stop-color="#8d8d8d"/><stop offset=".171" stop-color="#6a6a6a"/><stop offset=".173" stop-color="#525252"/><stop offset=".178" stop-color="#353535"/><stop offset=".182" stop-color="#292929"/><stop offset=".187" stop-color="#292929"/><stop offset=".192" stop-color="#1d1d1d"/><stop offset=".203" stop-color="#191919"/><stop offset=".208" stop-color="#252525"/><stop offset=".213" stop-color="#171717"/><stop offset=".287" stop-color="#0e0e0e"/><stop offset=".435" stop-color="#101010"/><stop offset=".451" stop-color="#1a1a1a"/><stop offset=".458" stop-color="#2e2e2e"/><stop offset=".463" stop-color="#4f4f4f"/><stop offset=".467" stop-color="#898989"/><stop offset=".470" stop-color="#a9a9a9"/><stop offset=".472" stop-color="#bdbdbd"/><stop offset=".474" stop-color="#bebebe"/><stop offset=".477" stop-color="#a9a9a9"/><stop offset=".481" stop-color="#6a6a6a"/><stop offset=".484" stop-color="#505050"/><stop offset=".488" stop-color="#2f2f2f"/><stop offset=".495" stop-color="#1c1c1c"/><stop offset=".509" stop-color="#151515"/><stop offset=".516" stop-color="#191919"/><stop offset=".519" stop-color="#202020"/><stop offset=".521" stop-color="#2f2f2f"/><stop offset=".526" stop-color="#1f1f1f"/><stop offset=".530" stop-color="#1f1f1f"/><stop offset=".540" stop-color="#3a3a3a"/><stop offset=".549" stop-color="#353535"/><stop offset=".554" stop-color="#414141"/><stop offset=".563" stop-color="#6f6f6f"/><stop offset=".568" stop-color="#757575"/><stop offset=".575" stop-color="#727272"/><stop offset=".577" stop-color="#7a7a7a"/><stop offset=".579" stop-color="#898989"/><stop offset=".582" stop-color="#a0a0a0"/><stop offset=".586" stop-color="#e6e6e6"/><stop offset=".589" stop-color="#ffffff"/><stop offset=".598" stop-color="#ffffff"/><stop offset=".600" stop-color="#dddddd"/><stop offset=".605" stop-color="#8f8f8f"/><stop offset=".607" stop-color="#707070"/><stop offset=".612" stop-color="#474747"/><stop offset=".617" stop-color="#303030"/><stop offset=".626" stop-color="#1d1d1d"/><stop offset=".650" stop-color="#141414"/><stop offset=".671" stop-color="#1d1d1d"/><stop offset=".680" stop-color="#2e2e2e"/><stop offset=".685" stop-color="#404040"/><stop offset=".689" stop-color="#616161"/><stop offset=".692" stop-color="#7b7b7b"/><stop offset=".694" stop-color="#9e9e9e"/><stop offset=".699" stop-color="#f0f0f0"/><stop offset=".701" stop-color="#ffffff"/><stop offset=".703" stop-color="#ffffff"/><stop offset=".706" stop-color="#f7f7f7"/><stop offset=".710" stop-color="#a5a5a5"/><stop offset=".713" stop-color="#818181"/><stop offset=".715" stop-color="#656565"/><stop offset=".720" stop-color="#424242"/><stop offset=".727" stop-color="#282828"/><stop offset=".741" stop-color="#171717"/><stop offset=".783" stop-color="#121212"/><stop offset=".799" stop-color="#1c1c1c"/><stop offset=".813" stop-color="#121212"/><stop offset=".850" stop-color="#181818"/><stop offset=".862" stop-color="#292929"/><stop offset=".874" stop-color="#4a4a4a"/><stop offset=".879" stop-color="#4d4d4d"/><stop offset=".897" stop-color="#1e1e1e"/><stop offset=".916" stop-color="#121212"/><stop offset="1.000" stop-color="#111111"/></linearGradient><linearGradient id="fa1_33" gradientUnits="userSpaceOnUse" x1="84" x2="298" y1="0" y2="0"><stop offset=".000" stop-color="#131313"/><stop offset=".114" stop-color="#1d1d1d"/><stop offset=".126" stop-color="#292929"/><stop offset=".133" stop-color="#424242"/><stop offset=".136" stop-color="#515151"/><stop offset=".138" stop-color="#686868"/><stop offset=".140" stop-color="#898989"/><stop offset=".143" stop-color="#b8b8b8"/><stop offset=".145" stop-color="#fafafa"/><stop offset=".150" stop-color="#ffffff"/><stop offset=".166" stop-color="#ffffff"/><stop offset=".168" stop-color="#cfcfcf"/><stop offset=".171" stop-color="#989898"/><stop offset=".173" stop-color="#727272"/><stop offset=".175" stop-color="#585858"/><stop offset=".180" stop-color="#3a3a3a"/><stop offset=".185" stop-color="#2f2f2f"/><stop offset=".187" stop-color="#2e2e2e"/><stop offset=".192" stop-color="#1f1f1f"/><stop offset=".203" stop-color="#1a1a1a"/><stop offset=".208" stop-color="#262626"/><stop offset=".213" stop-color="#171717"/><stop offset=".276" stop-color="#0e0e0e"/><stop offset=".423" stop-color="#0e0e0e"/><stop offset=".446" stop-color="#181818"/><stop offset=".453" stop-color="#272727"/><stop offset=".458" stop-color="#3f3f3f"/><stop offset=".460" stop-color="#555555"/><stop offset=".463" stop-color="#737373"/><stop offset=".465" stop-color="#9d9d9d"/><stop offset=".470" stop-color="#ffffff"/><stop offset=".477" stop-color="#ffffff"/><stop offset=".481" stop-color="#9d9d9d"/><stop offset=".484" stop-color="#747474"/><stop offset=".486" stop-color="#565656"/><stop offset=".488" stop-color="#414141"/><stop offset=".493" stop-color="#292929"/><stop offset=".502" stop-color="#181818"/><stop offset=".516" stop-color="#191919"/><stop offset=".519" stop-color="#1f1f1f"/><stop offset=".521" stop-color="#2e2e2e"/><stop offset=".523" stop-color="#292929"/><stop offset=".526" stop-color="#1f1f1f"/><stop offset=".530" stop-color="#1e1e1e"/><stop offset=".540" stop-color="#363636"/><stop offset=".551" stop-color="#292929"/><stop offset=".561" stop-color="#3f3f3f"/><stop offset=".572" stop-color="#5e5e5e"/><stop offset=".575" stop-color="#6b6b6b"/><stop offset=".577" stop-color="#7e7e7e"/><stop offset=".579" stop-color="#9a9a9a"/><stop offset=".582" stop-color="#c0c0c0"/><stop offset=".584" stop-color="#f0f0f0"/><stop offset=".586" stop-color="#ffffff"/><stop offset=".600" stop-color="#ffffff"/><stop offset=".603" stop-color="#ebebeb"/><stop offset=".605" stop-color="#b9b9b9"/><stop offset=".607" stop-color="#909090"/><stop offset=".610" stop-color="#717171"/><stop offset=".612" stop-color="#595959"/><stop offset=".617" stop-color="#3a3a3a"/><stop offset=".624" stop-color="#242424"/><stop offset=".638" stop-color="#171717"/><stop offset=".666" stop-color="#171717"/><stop offset=".682" stop-color="#292929"/><stop offset=".689" stop-color="#3e3e3e"/><stop offset=".696" stop-color="#6a6a6a"/><stop offset=".701" stop-color="#868686"/><stop offset=".703" stop-color="#888888"/><stop offset=".706" stop-color="#7e7e7e"/><stop offset=".713" stop-color="#4c4c4c"/><stop offset=".720" stop-color="#2f2f2f"/><stop offset=".734" stop-color="#1a1a1a"/><stop offset=".764" stop-color="#111111"/><stop offset=".790" stop-color="#161616"/><stop offset=".799" stop-color="#1c1c1c"/><stop offset=".813" stop-color="#131313"/><stop offset=".843" stop-color="#1a1a1a"/><stop offset=".855" stop-color="#2b2b2b"/><stop offset=".862" stop-color="#464646"/><stop offset=".874" stop-color="#8e8e8e"/><stop offset=".876" stop-color="#949494"/><stop offset=".879" stop-color="#939393"/><stop offset=".883" stop-color="#7f7f7f"/><stop offset=".893" stop-color="#434343"/><stop offset=".900" stop-color="#292929"/><stop offset=".911" stop-color="#181818"/><stop offset=".951" stop-color="#111111"/><stop offset="1.000" stop-color="#111111"/></linearGradient><linearGradient id="fa1_34" gradientUnits="userSpaceOnUse" x1="84" x2="298" y1="0" y2="0"><stop offset=".000" stop-color="#121212"/><stop offset=".112" stop-color="#1a1a1a"/><stop offset=".126" stop-color="#282828"/><stop offset=".133" stop-color="#414141"/><stop offset=".136" stop-color="#515151"/><stop offset=".138" stop-color="#686868"/><stop offset=".140" stop-color="#898989"/><stop offset=".143" stop-color="#b8b8b8"/><stop offset=".145" stop-color="#fbfbfb"/><stop offset=".157" stop-color="#ffffff"/><stop offset=".166" stop-color="#ffffff"/><stop offset=".168" stop-color="#d0d0d0"/><stop offset=".171" stop-color="#999999"/><stop offset=".173" stop-color="#727272"/><stop offset=".175" stop-color="#585858"/><stop offset=".180" stop-color="#393939"/><stop offset=".185" stop-color="#2e2e2e"/><stop offset=".187" stop-color="#2d2d2d"/><stop offset=".192" stop-color="#1f1f1f"/><stop offset=".203" stop-color="#191919"/><stop offset=".208" stop-color="#252525"/><stop offset=".213" stop-color="#161616"/><stop offset=".280" stop-color="#0c0c0c"/><stop offset=".418" stop-color="#0c0c0c"/><stop offset=".444" stop-color="#141414"/><stop offset=".453" stop-color="#262626"/><stop offset=".458" stop-color="#3f3f3f"/><stop offset=".460" stop-color="#555555"/><stop offset=".463" stop-color="#747474"/><stop offset=".465" stop-color="#9d9d9d"/><stop offset=".470" stop-color="#ffffff"/><stop offset=".477" stop-color="#ffffff"/><stop offset=".481" stop-color="#9e9e9e"/><stop offset=".484" stop-color="#757575"/><stop offset=".486" stop-color="#575757"/><stop offset=".488" stop-color="#414141"/><stop offset=".493" stop-color="#292929"/><stop offset=".502" stop-color="#181818"/><stop offset=".516" stop-color="#181818"/><stop offset=".519" stop-color="#1e1e1e"/><stop offset=".521" stop-color="#2c2c2c"/><stop offset=".523" stop-color="#2a2a2a"/><stop offset=".526" stop-color="#1e1e1e"/><stop offset=".530" stop-color="#1d1d1d"/><stop offset=".540" stop-color="#333333"/><stop offset=".544" stop-color="#2b2b2b"/><stop offset=".551" stop-color="#1f1f1f"/><stop offset=".561" stop-color="#252525"/><stop offset=".568" stop-color="#353535"/><stop offset=".572" stop-color="#4a4a4a"/><stop offset=".575" stop-color="#5b5b5b"/><stop offset=".577" stop-color="#727272"/><stop offset=".579" stop-color="#919191"/><stop offset=".582" stop-color="#b9b9b9"/><stop offset=".584" stop-color="#ebebeb"/><stop offset=".586" stop-color="#ffffff"/><stop offset=".600" stop-color="#ffffff"/><stop offset=".603" stop-color="#eaeaea"/><stop offset=".605" stop-color="#b8b8b8"/><stop offset=".607" stop-color="#909090"/><stop offset=".610" stop-color="#707070"/><stop offset=".612" stop-color="#595959"/><stop offset=".617" stop-color="#3a3a3a"/><stop offset=".624" stop-color="#242424"/><stop offset=".638" stop-color="#161616"/><stop offset=".673" stop-color="#151515"/><stop offset=".689" stop-color="#222222"/><stop offset=".701" stop-color="#3d3d3d"/><stop offset=".706" stop-color="#3a3a3a"/><stop offset=".717" stop-color="#1f1f1f"/><stop offset=".741" stop-color="#131313"/><stop offset=".787" stop-color="#141414"/><stop offset=".797" stop-color="#1e1e1e"/><stop offset=".813" stop-color="#131313"/><stop offset=".841" stop-color="#1b1b1b"/><stop offset=".853" stop-color="#2e2e2e"/><stop offset=".860" stop-color="#4c4c4c"/><stop offset=".867" stop-color="#848484"/><stop offset=".871" stop-color="#afafaf"/><stop offset=".874" stop-color="#c0c0c0"/><stop offset=".876" stop-color="#c9c9c9"/><stop offset=".879" stop-color="#c8c8c8"/><stop offset=".881" stop-color="#bdbdbd"/><stop offset=".893" stop-color="#585858"/><stop offset=".900" stop-color="#343434"/><stop offset=".909" stop-color="#1f1f1f"/><stop offset=".930" stop-color="#131313"/><stop offset="1.000" stop-color="#111111"/></linearGradient><linearGradient id="fa1_35" gradientUnits="userSpaceOnUse" x1="84" x2="298" y1="0" y2="0"><stop offset=".000" stop-color="#121212"/><stop offset=".112" stop-color="#191919"/><stop offset=".126" stop-color="#272727"/><stop offset=".133" stop-color="#3f3f3f"/><stop offset=".136" stop-color="#4f4f4f"/><stop offset=".138" stop-color="#666666"/><stop offset=".140" stop-color="#878787"/><stop offset=".143" stop-color="#b7b7b7"/><stop offset=".145" stop-color="#fafafa"/><stop offset=".150" stop-color="#ffffff"/><stop offset=".166" stop-color="#ffffff"/><stop offset=".168" stop-color="#cfcfcf"/><stop offset=".171" stop-color="#989898"/><stop offset=".173" stop-color="#717171"/><stop offset=".175" stop-color="#575757"/><stop offset=".180" stop-color="#383838"/><stop offset=".185" stop-color="#2d2d2d"/><stop offset=".187" stop-color="#2c2c2c"/><stop offset=".192" stop-color="#1e1e1e"/><stop offset=".203" stop-color="#181818"/><stop offset=".208" stop-color="#242424"/><stop offset=".213" stop-color="#161616"/><stop offset=".283" stop-color="#0b0b0b"/><stop offset=".416" stop-color="#0b0b0b"/><stop offset=".444" stop-color="#141414"/><stop offset=".453" stop-color="#262626"/><stop offset=".458" stop-color="#3f3f3f"/><stop offset=".460" stop-color="#555555"/><stop offset=".463" stop-color="#737373"/><stop offset=".465" stop-color="#9d9d9d"/><stop offset=".470" stop-color="#ffffff"/><stop offset=".477" stop-color="#ffffff"/><stop offset=".481" stop-color="#9e9e9e"/><stop offset=".484" stop-color="#757575"/><stop offset=".486" stop-color="#565656"/><stop offset=".488" stop-color="#414141"/><stop offset=".493" stop-color="#282828"/><stop offset=".502" stop-color="#181818"/><stop offset=".516" stop-color="#181818"/><stop offset=".519" stop-color="#1d1d1d"/><stop offset=".521" stop-color="#2b2b2b"/><stop offset=".523" stop-color="#2b2b2b"/><stop offset=".526" stop-color="#1f1f1f"/><stop offset=".530" stop-color="#1d1d1d"/><stop offset=".540" stop-color="#323232"/><stop offset=".544" stop-color="#2b2b2b"/><stop offset=".551" stop-color="#1d1d1d"/><stop offset=".561" stop-color="#212121"/><stop offset=".568" stop-color="#313131"/><stop offset=".572" stop-color="#474747"/><stop offset=".575" stop-color="#595959"/><stop offset=".577" stop-color="#707070"/><stop offset=".579" stop-color="#909090"/><stop offset=".582" stop-color="#b8b8b8"/><stop offset=".584" stop-color="#eaeaea"/><stop offset=".586" stop-color="#ffffff"/><stop offset=".600" stop-color="#ffffff"/><stop offset=".603" stop-color="#eaeaea"/><stop offset=".605" stop-color="#b8b8b8"/><stop offset=".607" stop-color="#909090"/><stop offset=".610" stop-color="#707070"/><stop offset=".614" stop-color="#474747"/><stop offset=".619" stop-color="#303030"/><stop offset=".629" stop-color="#1d1d1d"/><stop offset=".654" stop-color="#131313"/><stop offset=".713" stop-color="#141414"/><stop offset=".787" stop-color="#141414"/><stop offset=".799" stop-color="#1c1c1c"/><stop offset=".813" stop-color="#131313"/><stop offset=".841" stop-color="#1b1b1b"/><stop offset=".850" stop-color="#292929"/><stop offset=".857" stop-color="#424242"/><stop offset=".862" stop-color="#5f5f5f"/><stop offset=".871" stop-color="#b7b7b7"/><stop offset=".874" stop-color="#c8c8c8"/><stop offset=".876" stop-color="#d2d2d2"/><stop offset=".879" stop-color="#d0d0d0"/><stop offset=".881" stop-color="#c5c5c5"/><stop offset=".893" stop-color="#5c5c5c"/><stop offset=".900" stop-color="#363636"/><stop offset=".909" stop-color="#202020"/><stop offset=".930" stop-color="#131313"/><stop offset="1.000" stop-color="#111111"/></linearGradient><linearGradient id="fa1_36" gradientUnits="userSpaceOnUse" x1="84" x2="298" y1="0" y2="0"><stop offset=".000" stop-color="#121212"/><stop offset=".112" stop-color="#181818"/><stop offset=".126" stop-color="#252525"/><stop offset=".133" stop-color="#3e3e3e"/><stop offset=".136" stop-color="#4e4e4e"/><stop offset=".138" stop-color="#656565"/><stop offset=".140" stop-color="#868686"/><stop offset=".143" stop-color="#b6b6b6"/><stop offset=".145" stop-color="#f9f9f9"/><stop offset=".147" stop-color="#ffffff"/><stop offset=".166" stop-color="#ffffff"/><stop offset=".171" stop-color="#979797"/><stop offset=".173" stop-color="#707070"/><stop offset=".175" stop-color="#565656"/><stop offset=".180" stop-color="#373737"/><stop offset=".185" stop-color="#2c2c2c"/><stop offset=".187" stop-color="#2b2b2b"/><stop offset=".192" stop-color="#1d1d1d"/><stop offset=".203" stop-color="#171717"/><stop offset=".208" stop-color="#232323"/><stop offset=".213" stop-color="#151515"/><stop offset=".290" stop-color="#0a0a0a"/><stop offset=".416" stop-color="#0a0a0a"/><stop offset=".444" stop-color="#131313"/><stop offset=".453" stop-color="#252525"/><stop offset=".458" stop-color="#3e3e3e"/><stop offset=".460" stop-color="#545454"/><stop offset=".463" stop-color="#737373"/><stop offset=".465" stop-color="#9d9d9d"/><stop offset=".470" stop-color="#ffffff"/><stop offset=".477" stop-color="#ffffff"/><stop offset=".481" stop-color="#9e9e9e"/><stop offset=".484" stop-color="#747474"/><stop offset=".486" stop-color="#565656"/><stop offset=".488" stop-color="#414141"/><stop offset=".493" stop-color="#282828"/><stop offset=".502" stop-color="#181818"/><stop offset=".516" stop-color="#171717"/><stop offset=".519" stop-color="#1c1c1c"/><stop offset=".521" stop-color="#292929"/><stop offset=".523" stop-color="#2c2c2c"/><stop offset=".526" stop-color="#202020"/><stop offset=".530" stop-color="#1d1d1d"/><stop offset=".540" stop-color="#323232"/><stop offset=".544" stop-color="#2b2b2b"/><stop offset=".551" stop-color="#1d1d1d"/><stop offset=".561" stop-color="#212121"/><stop offset=".568" stop-color="#313131"/><stop offset=".572" stop-color="#474747"/><stop offset=".575" stop-color="#595959"/><stop offset=".577" stop-color="#707070"/><stop offset=".579" stop-color="#909090"/><stop offset=".582" stop-color="#b8b8b8"/><stop offset=".584" stop-color="#eaeaea"/><stop offset=".586" stop-color="#ffffff"/><stop offset=".600" stop-color="#ffffff"/><stop offset=".603" stop-color="#eaeaea"/><stop offset=".605" stop-color="#b8b8b8"/><stop offset=".607" stop-color="#909090"/><stop offset=".610" stop-color="#707070"/><stop offset=".614" stop-color="#474747"/><stop offset=".619" stop-color="#303030"/><stop offset=".629" stop-color="#1d1d1d"/><stop offset=".654" stop-color="#131313"/><stop offset=".787" stop-color="#141414"/><stop offset=".799" stop-color="#1c1c1c"/><stop offset=".813" stop-color="#131313"/><stop offset=".841" stop-color="#1b1b1b"/><stop offset=".850" stop-color="#292929"/><stop offset=".857" stop-color="#424242"/><stop offset=".862" stop-color="#5f5f5f"/><stop offset=".871" stop-color="#b7b7b7"/><stop offset=".874" stop-color="#c8c8c8"/><stop offset=".876" stop-color="#d2d2d2"/><stop offset=".879" stop-color="#d1d1d1"/><stop offset=".881" stop-color="#c5c5c5"/><stop offset=".893" stop-color="#5c5c5c"/><stop offset=".900" stop-color="#363636"/><stop offset=".909" stop-color="#202020"/><stop offset=".930" stop-color="#141414"/><stop offset="1.000" stop-color="#111111"/></linearGradient><linearGradient id="fa1_37" gradientUnits="userSpaceOnUse" x1="84" x2="298" y1="0" y2="0"><stop offset=".000" stop-color="#111111"/><stop offset=".112" stop-color="#161616"/><stop offset=".126" stop-color="#242424"/><stop offset=".133" stop-color="#3d3d3d"/><stop offset=".136" stop-color="#4d4d4d"/><stop offset=".138" stop-color="#646464"/><stop offset=".140" stop-color="#858585"/><stop offset=".143" stop-color="#b4b4b4"/><stop offset=".145" stop-color="#f8f8f8"/><stop offset=".147" stop-color="#ffffff"/><stop offset=".166" stop-color="#ffffff"/><stop offset=".171" stop-color="#969696"/><stop offset=".173" stop-color="#6f6f6f"/><stop offset=".175" stop-color="#555555"/><stop offset=".180" stop-color="#363636"/><stop offset=".185" stop-color="#2b2b2b"/><stop offset=".187" stop-color="#2a2a2a"/><stop offset=".192" stop-color="#1c1c1c"/><stop offset=".203" stop-color="#171717"/><stop offset=".208" stop-color="#222222"/><stop offset=".213" stop-color="#141414"/><stop offset=".297" stop-color="#090909"/><stop offset=".416" stop-color="#0a0a0a"/><stop offset=".444" stop-color="#131313"/><stop offset=".453" stop-color="#252525"/><stop offset=".458" stop-color="#3e3e3e"/><stop offset=".460" stop-color="#545454"/><stop offset=".463" stop-color="#737373"/><stop offset=".465" stop-color="#9c9c9c"/><stop offset=".470" stop-color="#ffffff"/><stop offset=".477" stop-color="#ffffff"/><stop offset=".481" stop-color="#9e9e9e"/><stop offset=".484" stop-color="#747474"/><stop offset=".486" stop-color="#565656"/><stop offset=".488" stop-color="#404040"/><stop offset=".493" stop-color="#282828"/><stop offset=".502" stop-color="#171717"/><stop offset=".516" stop-color="#171717"/><stop offset=".519" stop-color="#1b1b1b"/><stop offset=".521" stop-color="#282828"/><stop offset=".523" stop-color="#2e2e2e"/><stop offset=".526" stop-color="#202020"/><stop offset=".530" stop-color="#1d1d1d"/><stop offset=".540" stop-color="#323232"/><stop offset=".544" stop-color="#2b2b2b"/><stop offset=".551" stop-color="#1d1d1d"/><stop offset=".561" stop-color="#212121"/><stop offset=".568" stop-color="#313131"/><stop offset=".572" stop-color="#474747"/><stop offset=".575" stop-color="#595959"/><stop offset=".577" stop-color="#707070"/><stop offset=".579" stop-color="#909090"/><stop offset=".582" stop-color="#b8b8b8"/><stop offset=".584" stop-color="#eaeaea"/><stop offset=".586" stop-color="#ffffff"/><stop offset=".600" stop-color="#ffffff"/><stop offset=".603" stop-color="#eaeaea"/><stop offset=".605" stop-color="#b8b8b8"/><stop offset=".607" stop-color="#909090"/><stop offset=".610" stop-color="#707070"/><stop offset=".614" stop-color="#474747"/><stop offset=".619" stop-color="#303030"/><stop offset=".629" stop-color="#1d1d1d"/><stop offset=".654" stop-color="#131313"/><stop offset=".787" stop-color="#141414"/><stop offset=".799" stop-color="#1c1c1c"/><stop offset=".813" stop-color="#131313"/><stop offset=".841" stop-color="#1b1b1b"/><stop offset=".850" stop-color="#292929"/><stop offset=".857" stop-color="#424242"/><stop offset=".862" stop-color="#606060"/><stop offset=".871" stop-color="#b7b7b7"/><stop offset=".874" stop-color="#c8c8c8"/><stop offset=".876" stop-color="#d2d2d2"/><stop offset=".879" stop-color="#d1d1d1"/><stop offset=".881" stop-color="#c5c5c5"/><stop offset=".893" stop-color="#5c5c5c"/><stop offset=".900" stop-color="#363636"/><stop offset=".909" stop-color="#202020"/><stop offset=".930" stop-color="#141414"/><stop offset="1.000" stop-color="#111111"/></linearGradient><linearGradient id="fa1_38" gradientUnits="userSpaceOnUse" x1="84" x2="298" y1="0" y2="0"><stop offset=".000" stop-color="#111111"/><stop offset=".112" stop-color="#161616"/><stop offset=".126" stop-color="#232323"/><stop offset=".133" stop-color="#3c3c3c"/><stop offset=".136" stop-color="#4c4c4c"/><stop offset=".138" stop-color="#636363"/><stop offset=".140" stop-color="#848484"/><stop offset=".143" stop-color="#b4b4b4"/><stop offset=".145" stop-color="#f7f7f7"/><stop offset=".147" stop-color="#ffffff"/><stop offset=".166" stop-color="#ffffff"/><stop offset=".171" stop-color="#959595"/><stop offset=".173" stop-color="#6f6f6f"/><stop offset=".175" stop-color="#545454"/><stop offset=".180" stop-color="#353535"/><stop offset=".185" stop-color="#2b2b2b"/><stop offset=".187" stop-color="#2a2a2a"/><stop offset=".192" stop-color="#1b1b1b"/><stop offset=".203" stop-color="#161616"/><stop offset=".208" stop-color="#222222"/><stop offset=".213" stop-color="#141414"/><stop offset=".299" stop-color="#080808"/><stop offset=".416" stop-color="#090909"/><stop offset=".444" stop-color="#121212"/><stop offset=".453" stop-color="#252525"/><stop offset=".458" stop-color="#3e3e3e"/><stop offset=".460" stop-color="#545454"/><stop offset=".463" stop-color="#727272"/><stop offset=".465" stop-color="#9c9c9c"/><stop offset=".470" stop-color="#ffffff"/><stop offset=".477" stop-color="#ffffff"/><stop offset=".481" stop-color="#9d9d9d"/><stop offset=".484" stop-color="#747474"/><stop offset=".486" stop-color="#565656"/><stop offset=".488" stop-color="#404040"/><stop offset=".493" stop-color="#282828"/><stop offset=".502" stop-color="#171717"/><stop offset=".516" stop-color="#171717"/><stop offset=".519" stop-color="#1b1b1b"/><stop offset=".523" stop-color="#2f2f2f"/><stop offset=".526" stop-color="#212121"/><stop offset=".530" stop-color="#1d1d1d"/><stop offset=".540" stop-color="#323232"/><stop offset=".544" stop-color="#2b2b2b"/><stop offset=".551" stop-color="#1d1d1d"/><stop offset=".561" stop-color="#212121"/><stop offset=".568" stop-color="#313131"/><stop offset=".572" stop-color="#474747"/><stop offset=".575" stop-color="#595959"/><stop offset=".577" stop-color="#707070"/><stop offset=".579" stop-color="#909090"/><stop offset=".582" stop-color="#b8b8b8"/><stop offset=".584" stop-color="#eaeaea"/><stop offset=".586" stop-color="#ffffff"/><stop offset=".600" stop-color="#ffffff"/><stop offset=".603" stop-color="#eaeaea"/><stop offset=".605" stop-color="#b8b8b8"/><stop offset=".607" stop-color="#909090"/><stop offset=".610" stop-color="#707070"/><stop offset=".614" stop-color="#474747"/><stop offset=".619" stop-color="#303030"/><stop offset=".629" stop-color="#1d1d1d"/><stop offset=".654" stop-color="#131313"/><stop offset=".787" stop-color="#141414"/><stop offset=".799" stop-color="#1c1c1c"/><stop offset=".813" stop-color="#131313"/><stop offset=".841" stop-color="#1b1b1b"/><stop offset=".850" stop-color="#292929"/><stop offset=".857" stop-color="#424242"/><stop offset=".862" stop-color="#606060"/><stop offset=".871" stop-color="#b7b7b7"/><stop offset=".874" stop-color="#c8c8c8"/><stop offset=".876" stop-color="#d2d2d2"/><stop offset=".879" stop-color="#d1d1d1"/><stop offset=".881" stop-color="#c5c5c5"/><stop offset=".893" stop-color="#5c5c5c"/><stop offset=".900" stop-color="#363636"/><stop offset=".909" stop-color="#202020"/><stop offset=".930" stop-color="#141414"/><stop offset="1.000" stop-color="#111111"/></linearGradient><linearGradient id="fa1_39" gradientUnits="userSpaceOnUse" x1="84" x2="298" y1="0" y2="0"><stop offset=".000" stop-color="#111111"/><stop offset=".112" stop-color="#161616"/><stop offset=".126" stop-color="#232323"/><stop offset=".133" stop-color="#3c3c3c"/><stop offset=".136" stop-color="#4c4c4c"/><stop offset=".138" stop-color="#636363"/><stop offset=".140" stop-color="#848484"/><stop offset=".143" stop-color="#b4b4b4"/><stop offset=".145" stop-color="#f7f7f7"/><stop offset=".147" stop-color="#ffffff"/><stop offset=".166" stop-color="#ffffff"/><stop offset=".171" stop-color="#959595"/><stop offset=".173" stop-color="#6f6f6f"/><stop offset=".175" stop-color="#545454"/><stop offset=".180" stop-color="#353535"/><stop offset=".185" stop-color="#2b2b2b"/><stop offset=".187" stop-color="#2a2a2a"/><stop offset=".192" stop-color="#1b1b1b"/><stop offset=".203" stop-color="#161616"/><stop offset=".208" stop-color="#222222"/><stop offset=".213" stop-color="#141414"/><stop offset=".301" stop-color="#080808"/><stop offset=".416" stop-color="#090909"/><stop offset=".444" stop-color="#121212"/><stop offset=".453" stop-color="#252525"/><stop offset=".458" stop-color="#3e3e3e"/><stop offset=".460" stop-color="#535353"/><stop offset=".463" stop-color="#727272"/><stop offset=".465" stop-color="#9c9c9c"/><stop offset=".470" stop-color="#ffffff"/><stop offset=".477" stop-color="#ffffff"/><stop offset=".481" stop-color="#9d9d9d"/><stop offset=".484" stop-color="#747474"/><stop offset=".486" stop-color="#555555"/><stop offset=".488" stop-color="#404040"/><stop offset=".493" stop-color="#282828"/><stop offset=".502" stop-color="#171717"/><stop offset=".516" stop-color="#161616"/><stop offset=".519" stop-color="#1a1a1a"/><stop offset=".523" stop-color="#2f2f2f"/><stop offset=".526" stop-color="#222222"/><stop offset=".530" stop-color="#1d1d1d"/><stop offset=".540" stop-color="#323232"/><stop offset=".544" stop-color="#2b2b2b"/><stop offset=".551" stop-color="#1d1d1d"/><stop offset=".561" stop-color="#212121"/><stop offset=".568" stop-color="#313131"/><stop offset=".572" stop-color="#474747"/><stop offset=".575" stop-color="#595959"/><stop offset=".577" stop-color="#707070"/><stop offset=".579" stop-color="#909090"/><stop offset=".582" stop-color="#b8b8b8"/><stop offset=".584" stop-color="#eaeaea"/><stop offset=".586" stop-color="#ffffff"/><stop offset=".600" stop-color="#ffffff"/><stop offset=".603" stop-color="#eaeaea"/><stop offset=".605" stop-color="#b8b8b8"/><stop offset=".607" stop-color="#909090"/><stop offset=".610" stop-color="#707070"/><stop offset=".614" stop-color="#474747"/><stop offset=".619" stop-color="#303030"/><stop offset=".629" stop-color="#1d1d1d"/><stop offset=".654" stop-color="#131313"/><stop offset=".787" stop-color="#141414"/><stop offset=".799" stop-color="#1b1b1b"/><stop offset=".813" stop-color="#131313"/><stop offset=".841" stop-color="#1b1b1b"/><stop offset=".850" stop-color="#292929"/><stop offset=".857" stop-color="#424242"/><stop offset=".862" stop-color="#606060"/><stop offset=".871" stop-color="#b7b7b7"/><stop offset=".874" stop-color="#c8c8c8"/><stop offset=".876" stop-color="#d2d2d2"/><stop offset=".879" stop-color="#d1d1d1"/><stop offset=".881" stop-color="#c6c6c6"/><stop offset=".893" stop-color="#5c5c5c"/><stop offset=".900" stop-color="#363636"/><stop offset=".909" stop-color="#202020"/><stop offset=".930" stop-color="#141414"/><stop offset="1.000" stop-color="#111111"/></linearGradient><linearGradient id="fa1_40" gradientUnits="userSpaceOnUse" x1="84" x2="298" y1="0" y2="0"><stop offset=".000" stop-color="#111111"/><stop offset=".112" stop-color="#161616"/><stop offset=".126" stop-color="#232323"/><stop offset=".133" stop-color="#3c3c3c"/><stop offset=".136" stop-color="#4c4c4c"/><stop offset=".138" stop-color="#636363"/><stop offset=".140" stop-color="#848484"/><stop offset=".143" stop-color="#b4b4b4"/><stop offset=".145" stop-color="#f7f7f7"/><stop offset=".147" stop-color="#ffffff"/><stop offset=".166" stop-color="#ffffff"/><stop offset=".171" stop-color="#959595"/><stop offset=".173" stop-color="#6f6f6f"/><stop offset=".175" stop-color="#545454"/><stop offset=".180" stop-color="#353535"/><stop offset=".185" stop-color="#2b2b2b"/><stop offset=".187" stop-color="#2a2a2a"/><stop offset=".192" stop-color="#1b1b1b"/><stop offset=".203" stop-color="#161616"/><stop offset=".208" stop-color="#222222"/><stop offset=".213" stop-color="#141414"/><stop offset=".301" stop-color="#080808"/><stop offset=".418" stop-color="#090909"/><stop offset=".444" stop-color="#121212"/><stop offset=".453" stop-color="#252525"/><stop offset=".458" stop-color="#3e3e3e"/><stop offset=".460" stop-color="#535353"/><stop offset=".463" stop-color="#727272"/><stop offset=".465" stop-color="#9c9c9c"/><stop offset=".470" stop-color="#ffffff"/><stop offset=".477" stop-color="#ffffff"/><stop offset=".481" stop-color="#9d9d9d"/><stop offset=".484" stop-color="#747474"/><stop offset=".486" stop-color="#565656"/><stop offset=".488" stop-color="#404040"/><stop offset=".493" stop-color="#282828"/><stop offset=".502" stop-color="#171717"/><stop offset=".516" stop-color="#161616"/><stop offset=".519" stop-color="#1a1a1a"/><stop offset=".523" stop-color="#303030"/><stop offset=".528" stop-color="#1d1d1d"/><stop offset=".533" stop-color="#212121"/><stop offset=".540" stop-color="#323232"/><stop offset=".544" stop-color="#2b2b2b"/><stop offset=".551" stop-color="#1d1d1d"/><stop offset=".561" stop-color="#212121"/><stop offset=".568" stop-color="#313131"/><stop offset=".572" stop-color="#474747"/><stop offset=".575" stop-color="#595959"/><stop offset=".577" stop-color="#707070"/><stop offset=".579" stop-color="#909090"/><stop offset=".582" stop-color="#b8b8b8"/><stop offset=".584" stop-color="#eaeaea"/><stop offset=".586" stop-color="#ffffff"/><stop offset=".600" stop-color="#ffffff"/><stop offset=".603" stop-color="#eaeaea"/><stop offset=".605" stop-color="#b8b8b8"/><stop offset=".607" stop-color="#909090"/><stop offset=".610" stop-color="#707070"/><stop offset=".614" stop-color="#474747"/><stop offset=".619" stop-color="#303030"/><stop offset=".629" stop-color="#1d1d1d"/><stop offset=".654" stop-color="#131313"/><stop offset=".787" stop-color="#141414"/><stop offset=".799" stop-color="#1b1b1b"/><stop offset=".813" stop-color="#131313"/><stop offset=".841" stop-color="#1b1b1b"/><stop offset=".850" stop-color="#292929"/><stop offset=".857" stop-color="#424242"/><stop offset=".862" stop-color="#606060"/><stop offset=".871" stop-color="#b7b7b7"/><stop offset=".874" stop-color="#c8c8c8"/><stop offset=".876" stop-color="#d2d2d2"/><stop offset=".879" stop-color="#d1d1d1"/><stop offset=".881" stop-color="#c6c6c6"/><stop offset=".893" stop-color="#5c5c5c"/><stop offset=".900" stop-color="#363636"/><stop offset=".909" stop-color="#202020"/><stop offset=".930" stop-color="#141414"/><stop offset="1.000" stop-color="#111111"/></linearGradient><linearGradient id="fa1_41" gradientUnits="userSpaceOnUse" x1="84" x2="298" y1="0" y2="0"><stop offset=".000" stop-color="#111111"/><stop offset=".112" stop-color="#161616"/><stop offset=".126" stop-color="#232323"/><stop offset=".133" stop-color="#3c3c3c"/><stop offset=".136" stop-color="#4c4c4c"/><stop offset=".138" stop-color="#636363"/><stop offset=".140" stop-color="#848484"/><stop offset=".143" stop-color="#b4b4b4"/><stop offset=".145" stop-color="#f7f7f7"/><stop offset=".147" stop-color="#ffffff"/><stop offset=".166" stop-color="#ffffff"/><stop offset=".171" stop-color="#959595"/><stop offset=".173" stop-color="#6f6f6f"/><stop offset=".175" stop-color="#545454"/><stop offset=".180" stop-color="#363636"/><stop offset=".185" stop-color="#2b2b2b"/><stop offset=".187" stop-color="#2a2a2a"/><stop offset=".192" stop-color="#1b1b1b"/><stop offset=".203" stop-color="#161616"/><stop offset=".208" stop-color="#222222"/><stop offset=".213" stop-color="#141414"/><stop offset=".299" stop-color="#080808"/><stop offset=".418" stop-color="#0a0a0a"/><stop offset=".444" stop-color="#131313"/><stop offset=".453" stop-color="#252525"/><stop offset=".458" stop-color="#3e3e3e"/><stop offset=".460" stop-color="#545454"/><stop offset=".463" stop-color="#737373"/><stop offset=".465" stop-color="#9c9c9c"/><stop offset=".470" stop-color="#ffffff"/><stop offset=".477" stop-color="#ffffff"/><stop offset=".481" stop-color="#9d9d9d"/><stop offset=".484" stop-color="#747474"/><stop offset=".486" stop-color="#565656"/><stop offset=".488" stop-color="#404040"/><stop offset=".493" stop-color="#282828"/><stop offset=".502" stop-color="#171717"/><stop offset=".516" stop-color="#161616"/><stop offset=".521" stop-color="#222222"/><stop offset=".523" stop-color="#303030"/><stop offset=".528" stop-color="#1d1d1d"/><stop offset=".533" stop-color="#212121"/><stop offset=".540" stop-color="#323232"/><stop offset=".544" stop-color="#2b2b2b"/><stop offset=".551" stop-color="#1d1d1d"/><stop offset=".561" stop-color="#212121"/><stop offset=".568" stop-color="#313131"/><stop offset=".572" stop-color="#474747"/><stop offset=".575" stop-color="#595959"/><stop offset=".577" stop-color="#707070"/><stop offset=".579" stop-color="#909090"/><stop offset=".582" stop-color="#b8b8b8"/><stop offset=".584" stop-color="#eaeaea"/><stop offset=".586" stop-color="#ffffff"/><stop offset=".600" stop-color="#ffffff"/><stop offset=".603" stop-color="#eaeaea"/><stop offset=".605" stop-color="#b8b8b8"/><stop offset=".607" stop-color="#909090"/><stop offset=".610" stop-color="#707070"/><stop offset=".614" stop-color="#474747"/><stop offset=".619" stop-color="#303030"/><stop offset=".629" stop-color="#1d1d1d"/><stop offset=".654" stop-color="#131313"/><stop offset=".787" stop-color="#141414"/><stop offset=".799" stop-color="#1b1b1b"/><stop offset=".813" stop-color="#131313"/><stop offset=".841" stop-color="#1b1b1b"/><stop offset=".850" stop-color="#292929"/><stop offset=".857" stop-color="#424242"/><stop offset=".862" stop-color="#606060"/><stop offset=".871" stop-color="#b7b7b7"/><stop offset=".874" stop-color="#c8c8c8"/><stop offset=".876" stop-color="#d2d2d2"/><stop offset=".879" stop-color="#d1d1d1"/><stop offset=".881" stop-color="#c6c6c6"/><stop offset=".893" stop-color="#5c5c5c"/><stop offset=".900" stop-color="#363636"/><stop offset=".909" stop-color="#202020"/><stop offset=".930" stop-color="#141414"/><stop offset="1.000" stop-color="#111111"/></linearGradient><linearGradient id="fa1_42" gradientUnits="userSpaceOnUse" x1="84" x2="298" y1="0" y2="0"><stop offset=".000" stop-color="#111111"/><stop offset=".112" stop-color="#161616"/><stop offset=".126" stop-color="#232323"/><stop offset=".133" stop-color="#3c3c3c"/><stop offset=".136" stop-color="#4c4c4c"/><stop offset=".138" stop-color="#636363"/><stop offset=".140" stop-color="#848484"/><stop offset=".143" stop-color="#b4b4b4"/><stop offset=".145" stop-color="#f7f7f7"/><stop offset=".147" stop-color="#ffffff"/><stop offset=".166" stop-color="#ffffff"/><stop offset=".171" stop-color="#959595"/><stop offset=".173" stop-color="#6f6f6f"/><stop offset=".175" stop-color="#545454"/><stop offset=".180" stop-color="#363636"/><stop offset=".185" stop-color="#2b2b2b"/><stop offset=".187" stop-color="#2a2a2a"/><stop offset=".192" stop-color="#1c1c1c"/><stop offset=".203" stop-color="#161616"/><stop offset=".208" stop-color="#222222"/><stop offset=".213" stop-color="#141414"/><stop offset=".297" stop-color="#090909"/><stop offset=".418" stop-color="#0a0a0a"/><stop offset=".444" stop-color="#131313"/><stop offset=".453" stop-color="#252525"/><stop offset=".458" stop-color="#3e3e3e"/><stop offset=".460" stop-color="#545454"/><stop offset=".463" stop-color="#737373"/><stop offset=".465" stop-color="#9c9c9c"/><stop offset=".470" stop-color="#ffffff"/><stop offset=".477" stop-color="#ffffff"/><stop offset=".481" stop-color="#9e9e9e"/><stop offset=".484" stop-color="#747474"/><stop offset=".486" stop-color="#565656"/><stop offset=".488" stop-color="#404040"/><stop offset=".493" stop-color="#282828"/><stop offset=".502" stop-color="#171717"/><stop offset=".516" stop-color="#161616"/><stop offset=".521" stop-color="#212121"/><stop offset=".523" stop-color="#303030"/><stop offset=".528" stop-color="#1e1e1e"/><stop offset=".533" stop-color="#212121"/><stop offset=".540" stop-color="#323232"/><stop offset=".544" stop-color="#2b2b2b"/><stop offset=".551" stop-color="#1d1d1d"/><stop offset=".561" stop-color="#212121"/><stop offset=".568" stop-color="#313131"/><stop offset=".572" stop-color="#474747"/><stop offset=".575" stop-color="#595959"/><stop offset=".577" stop-color="#707070"/><stop offset=".579" stop-color="#909090"/><stop offset=".582" stop-color="#b8b8b8"/><stop offset=".584" stop-color="#eaeaea"/><stop offset=".586" stop-color="#ffffff"/><stop offset=".600" stop-color="#ffffff"/><stop offset=".603" stop-color="#eaeaea"/><stop offset=".605" stop-color="#b8b8b8"/><stop offset=".607" stop-color="#909090"/><stop offset=".610" stop-color="#707070"/><stop offset=".614" stop-color="#474747"/><stop offset=".619" stop-color="#303030"/><stop offset=".629" stop-color="#1d1d1d"/><stop offset=".654" stop-color="#131313"/><stop offset=".787" stop-color="#141414"/><stop offset=".799" stop-color="#1b1b1b"/><stop offset=".815" stop-color="#131313"/><stop offset=".841" stop-color="#1b1b1b"/><stop offset=".850" stop-color="#292929"/><stop offset=".857" stop-color="#424242"/><stop offset=".862" stop-color="#606060"/><stop offset=".871" stop-color="#b7b7b7"/><stop offset=".874" stop-color="#c8c8c8"/><stop offset=".876" stop-color="#d2d2d2"/><stop offset=".879" stop-color="#d1d1d1"/><stop offset=".881" stop-color="#c6c6c6"/><stop offset=".893" stop-color="#5c5c5c"/><stop offset=".900" stop-color="#363636"/><stop offset=".909" stop-color="#202020"/><stop offset=".930" stop-color="#141414"/><stop offset="1.000" stop-color="#111111"/></linearGradient><linearGradient id="fa1_43" gradientUnits="userSpaceOnUse" x1="84" x2="298" y1="0" y2="0"><stop offset=".000" stop-color="#111111"/><stop offset=".112" stop-color="#161616"/><stop offset=".126" stop-color="#232323"/><stop offset=".133" stop-color="#3c3c3c"/><stop offset=".136" stop-color="#4c4c4c"/><stop offset=".138" stop-color="#636363"/><stop offset=".140" stop-color="#848484"/><stop offset=".143" stop-color="#b4b4b4"/><stop offset=".145" stop-color="#f7f7f7"/><stop offset=".147" stop-color="#ffffff"/><stop offset=".166" stop-color="#ffffff"/><stop offset=".171" stop-color="#959595"/><stop offset=".173" stop-color="#6f6f6f"/><stop offset=".175" stop-color="#545454"/><stop offset=".180" stop-color="#363636"/><stop offset=".185" stop-color="#2b2b2b"/><stop offset=".187" stop-color="#2a2a2a"/><stop offset=".192" stop-color="#1c1c1c"/><stop offset=".203" stop-color="#161616"/><stop offset=".208" stop-color="#222222"/><stop offset=".213" stop-color="#141414"/><stop offset=".294" stop-color="#0a0a0a"/><stop offset=".421" stop-color="#0b0b0b"/><stop offset=".444" stop-color="#141414"/><stop offset=".453" stop-color="#262626"/><stop offset=".458" stop-color="#3f3f3f"/><stop offset=".460" stop-color="#545454"/><stop offset=".463" stop-color="#737373"/><stop offset=".465" stop-color="#9d9d9d"/><stop offset=".470" stop-color="#ffffff"/><stop offset=".477" stop-color="#ffffff"/><stop offset=".481" stop-color="#9e9e9e"/><stop offset=".484" stop-color="#757575"/><stop offset=".486" stop-color="#565656"/><stop offset=".488" stop-color="#414141"/><stop offset=".493" stop-color="#282828"/><stop offset=".502" stop-color="#181818"/><stop offset=".516" stop-color="#161616"/><stop offset=".521" stop-color="#202020"/><stop offset=".523" stop-color="#2f2f2f"/><stop offset=".528" stop-color="#1f1f1f"/><stop offset=".533" stop-color="#212121"/><stop offset=".540" stop-color="#323232"/><stop offset=".544" stop-color="#2b2b2b"/><stop offset=".551" stop-color="#1d1d1d"/><stop offset=".561" stop-color="#212121"/><stop offset=".568" stop-color="#313131"/><stop offset=".572" stop-color="#474747"/><stop offset=".575" stop-color="#595959"/><stop offset=".577" stop-color="#707070"/><stop offset=".579" stop-color="#909090"/><stop offset=".582" stop-color="#b8b8b8"/><stop offset=".584" stop-color="#eaeaea"/><stop offset=".586" stop-color="#ffffff"/><stop offset=".600" stop-color="#ffffff"/><stop offset=".603" stop-color="#eaeaea"/><stop offset=".605" stop-color="#b8b8b8"/><stop offset=".607" stop-color="#909090"/><stop offset=".610" stop-color="#707070"/><stop offset=".614" stop-color="#474747"/><stop offset=".619" stop-color="#303030"/><stop offset=".629" stop-color="#1d1d1d"/><stop offset=".654" stop-color="#131313"/><stop offset=".787" stop-color="#141414"/><stop offset=".799" stop-color="#1b1b1b"/><stop offset=".815" stop-color="#131313"/><stop offset=".841" stop-color="#1b1b1b"/><stop offset=".850" stop-color="#292929"/><stop offset=".857" stop-color="#424242"/><stop offset=".862" stop-color="#606060"/><stop offset=".871" stop-color="#b7b7b7"/><stop offset=".874" stop-color="#c9c9c9"/><stop offset=".876" stop-color="#d2d2d2"/><stop offset=".879" stop-color="#d1d1d1"/><stop offset=".881" stop-color="#c6c6c6"/><stop offset=".893" stop-color="#5c5c5c"/><stop offset=".900" stop-color="#363636"/><stop offset=".909" stop-color="#202020"/><stop offset=".930" stop-color="#141414"/><stop offset="1.000" stop-color="#111111"/></linearGradient></defs>
<rect x="84" y="28" width="214" height="6" fill="url(#fa1_0)"/><rect x="84" y="34" width="214" height="3" fill="url(#fa1_1)"/><rect x="84" y="37" width="214" height="3" fill="url(#fa1_2)"/><rect x="84" y="40" width="214" height="3" fill="url(#fa1_3)"/><rect x="84" y="43" width="214" height="3" fill="url(#fa1_4)"/><rect x="84" y="46" width="214" height="3" fill="url(#fa1_5)"/><rect x="84" y="49" width="214" height="3" fill="url(#fa1_6)"/><rect x="84" y="52" width="214" height="3" fill="url(#fa1_7)"/><rect x="84" y="55" width="214" height="3" fill="url(#fa1_8)"/><rect x="84" y="58" width="214" height="3" fill="url(#fa1_9)"/><rect x="84" y="61" width="214" height="3" fill="url(#fa1_10)"/><rect x="84" y="64" width="214" height="3" fill="url(#fa1_11)"/><rect x="84" y="67" width="214" height="3" fill="url(#fa1_12)"/><rect x="84" y="70" width="214" height="3" fill="url(#fa1_13)"/><rect x="84" y="73" width="214" height="3" fill="url(#fa1_14)"/><rect x="84" y="76" width="214" height="3" fill="url(#fa1_15)"/><rect x="84" y="79" width="214" height="3" fill="url(#fa1_16)"/><rect x="84" y="82" width="214" height="3" fill="url(#fa1_17)"/><rect x="84" y="85" width="214" height="3" fill="url(#fa1_18)"/><rect x="84" y="88" width="214" height="3" fill="url(#fa1_19)"/><rect x="84" y="91" width="214" height="3" fill="url(#fa1_20)"/><rect x="84" y="94" width="214" height="3" fill="url(#fa1_21)"/><rect x="84" y="97" width="214" height="3" fill="url(#fa1_22)"/><rect x="84" y="100" width="214" height="3" fill="url(#fa1_23)"/><rect x="84" y="103" width="214" height="3" fill="url(#fa1_24)"/><rect x="84" y="106" width="214" height="3" fill="url(#fa1_25)"/><rect x="84" y="109" width="214" height="3" fill="url(#fa1_26)"/><rect x="84" y="112" width="214" height="3" fill="url(#fa1_27)"/><rect x="84" y="115" width="214" height="3" fill="url(#fa1_28)"/><rect x="84" y="118" width="214" height="3" fill="url(#fa1_29)"/><rect x="84" y="121" width="214" height="3" fill="url(#fa1_30)"/><rect x="84" y="124" width="214" height="3" fill="url(#fa1_31)"/><rect x="84" y="127" width="214" height="3" fill="url(#fa1_32)"/><rect x="84" y="130" width="214" height="3" fill="url(#fa1_33)"/><rect x="84" y="133" width="214" height="3" fill="url(#fa1_34)"/><rect x="84" y="136" width="214" height="3" fill="url(#fa1_35)"/><rect x="84" y="139" width="214" height="3" fill="url(#fa1_36)"/><rect x="84" y="142" width="214" height="3" fill="url(#fa1_37)"/><rect x="84" y="145" width="214" height="3" fill="url(#fa1_38)"/><rect x="84" y="148" width="214" height="3" fill="url(#fa1_39)"/><rect x="84" y="151" width="214" height="3" fill="url(#fa1_40)"/><rect x="84" y="154" width="214" height="3" fill="url(#fa1_41)"/><rect x="84" y="157" width="214" height="3" fill="url(#fa1_42)"/><rect x="84" y="160" width="214" height="9" fill="url(#fa1_43)"/>
</g></g>
<rect x="86" y="34.1" width="210" height="128.1" fill="none" stroke="#111" stroke-width="1.2"/>
<rect x="105.7" y="37.5" width="20.5" height="67.6" fill="none" stroke="#fff" stroke-width="1.3" stroke-dasharray="3 2"/>
<text x="99.3" y="63" font-size="10.5" text-anchor="middle" fill="#f4f8ff" transform="rotate(-90 99.3 63)" textLength="26" lengthAdjust="spacingAndGlyphs" stroke="#f4f8ff" stroke-width="0.2">(003)<tspan baseline-shift="-2" font-size="6.5">L</tspan></text>
<text x="197" y="52" font-size="10.5" text-anchor="middle" fill="#f4f8ff" transform="rotate(-90 197 52)" textLength="26" lengthAdjust="spacingAndGlyphs" stroke="#f4f8ff" stroke-width="0.2">(101)<tspan baseline-shift="-2" font-size="6.5">L</tspan></text>
<text x="220.5" y="52.3" font-size="10.5" text-anchor="middle" fill="#f4f8ff" transform="rotate(-90 220.5 52.3)" textLength="27" lengthAdjust="spacingAndGlyphs" stroke="#f4f8ff" stroke-width="0.2">(10-2)<tspan baseline-shift="-2" font-size="6.5">L</tspan></text>
<text x="249.3" y="51.5" font-size="10.5" text-anchor="middle" fill="#f4f8ff" transform="rotate(-90 249.3 51.5)" textLength="25.5" lengthAdjust="spacingAndGlyphs" stroke="#f4f8ff" stroke-width="0.2">(104)<tspan baseline-shift="-2" font-size="6.5">L</tspan></text>
<text x="268.8" y="52.3" font-size="10.5" text-anchor="middle" fill="#f4f8ff" transform="rotate(-90 268.8 52.3)" textLength="29" lengthAdjust="spacingAndGlyphs" stroke="#f4f8ff" stroke-width="0.2">(10-5)<tspan baseline-shift="-2" font-size="6.5">L</tspan></text>
<text x="220.8" y="100.8" font-size="10.5" text-anchor="middle" fill="#f4f8ff" transform="rotate(-90 220.8 100.8)" textLength="29.5" lengthAdjust="spacingAndGlyphs" stroke="#f4f8ff" stroke-width="0.2">(111)<tspan baseline-shift="-2" font-size="6.5">RS</tspan></text>
<text x="251.2" y="100" font-size="10.5" text-anchor="middle" fill="#f4f8ff" transform="rotate(-90 251.2 100)" textLength="29.5" lengthAdjust="spacingAndGlyphs" stroke="#f4f8ff" stroke-width="0.2">(200)<tspan baseline-shift="-2" font-size="6.5">RS</tspan></text>
<text x="108.8" y="143.8" font-size="10.5" text-anchor="middle" fill="#f4f8ff" transform="rotate(-90 108.8 143.8)" textLength="29" lengthAdjust="spacingAndGlyphs" stroke="#f4f8ff" stroke-width="0.2">(00-1)<tspan baseline-shift="-2" font-size="6.5">P</tspan></text>
<text x="179.4" y="145" font-size="10.5" text-anchor="middle" fill="#f4f8ff" transform="rotate(-90 179.4 145)" textLength="27" lengthAdjust="spacingAndGlyphs" stroke="#f4f8ff" stroke-width="0.2">(100)<tspan baseline-shift="-2" font-size="6.5">P</tspan></text>
<text x="229.5" y="145" font-size="10.5" text-anchor="middle" fill="#f4f8ff" transform="rotate(-90 229.5 145)" textLength="27" lengthAdjust="spacingAndGlyphs" stroke="#f4f8ff" stroke-width="0.2">(101)<tspan baseline-shift="-2" font-size="6.5">P</tspan></text>
<text x="265.2" y="145" font-size="10.5" text-anchor="middle" fill="#f4f8ff" transform="rotate(-90 265.2 145)" textLength="27" lengthAdjust="spacingAndGlyphs" stroke="#f4f8ff" stroke-width="0.2">(102)<tspan baseline-shift="-2" font-size="6.5">P</tspan></text>
<text x="136.3" y="48.1" font-size="10.5" text-anchor="start" fill="#f4f8ff" textLength="27" lengthAdjust="spacingAndGlyphs" stroke="#f4f8ff" stroke-width="0.2">Li<tspan baseline-shift="-2.5" font-size="7">2</tspan>CO<tspan baseline-shift="-2.5" font-size="7">3</tspan></text>
<text x="167.5" y="43" font-size="11" text-anchor="middle" fill="#f4f8ff" textLength="5.2" lengthAdjust="spacingAndGlyphs" stroke="#f4f8ff" stroke-width="0.2">#</text>
<text x="175.3" y="43" font-size="11" text-anchor="middle" fill="#f4f8ff" textLength="5.2" lengthAdjust="spacingAndGlyphs" stroke="#f4f8ff" stroke-width="0.2">#</text>
<text x="185.3" y="43" font-size="11" text-anchor="middle" fill="#f4f8ff" textLength="5.2" lengthAdjust="spacingAndGlyphs" stroke="#f4f8ff" stroke-width="0.2">#</text>
<text x="150" y="105.3" font-size="9.6" text-anchor="start" fill="#f4f8ff" textLength="20.1" lengthAdjust="spacingAndGlyphs" stroke="#f4f8ff" stroke-width="0.2">LiOH</text>
<text x="182.1" y="104.3" font-size="9" text-anchor="middle" fill="#f4f8ff" stroke="#f4f8ff" stroke-width="0.2">%</text>
<text x="197" y="104.3" font-size="9" text-anchor="middle" fill="#f4f8ff" stroke="#f4f8ff" stroke-width="0.2">%</text>
<text x="91.7" y="117.6" font-size="11.5" text-anchor="start" fill="#f4f8ff" textLength="68.8" lengthAdjust="spacingAndGlyphs" stroke="#f4f8ff" stroke-width="0.25">Layered phase</text>
<line x1="81.9" y1="43.44" x2="86" y2="43.44" stroke="#111" stroke-width="1.1"/>
<text x="78.5" y="47.64" font-size="12" text-anchor="end" fill="#000">800</text>
<line x1="81.9" y1="74.58" x2="86" y2="74.58" stroke="#111" stroke-width="1.1"/>
<text x="78.5" y="78.78" font-size="12" text-anchor="end" fill="#000">600</text>
<line x1="81.9" y1="105.72" x2="86" y2="105.72" stroke="#111" stroke-width="1.1"/>
<text x="78.5" y="109.92" font-size="12" text-anchor="end" fill="#000">400</text>
<line x1="81.9" y1="136.86" x2="86" y2="136.86" stroke="#111" stroke-width="1.1"/>
<text x="78.5" y="141.06" font-size="12" text-anchor="end" fill="#000">200</text>
<line x1="83.9" y1="59.00999999999999" x2="86" y2="59.00999999999999" stroke="#111" stroke-width="1.1"/>
<line x1="83.9" y1="90.14999999999999" x2="86" y2="90.14999999999999" stroke="#111" stroke-width="1.1"/>
<line x1="83.9" y1="121.28999999999999" x2="86" y2="121.28999999999999" stroke="#111" stroke-width="1.1"/>
<line x1="83.9" y1="152.43" x2="86" y2="152.43" stroke="#111" stroke-width="1.1"/>
<line x1="92.8" y1="162.2" x2="92.8" y2="166.39999999999998" stroke="#111" stroke-width="1.1"/>
<text x="92.8" y="179.3" font-size="12" text-anchor="middle" fill="#000">1.0</text>
<line x1="127.69999999999999" y1="162.2" x2="127.69999999999999" y2="166.39999999999998" stroke="#111" stroke-width="1.1"/>
<text x="127.69999999999999" y="179.3" font-size="12" text-anchor="middle" fill="#000">1.5</text>
<line x1="162.6" y1="162.2" x2="162.6" y2="166.39999999999998" stroke="#111" stroke-width="1.1"/>
<text x="162.6" y="179.3" font-size="12" text-anchor="middle" fill="#000">2.0</text>
<line x1="197.5" y1="162.2" x2="197.5" y2="166.39999999999998" stroke="#111" stroke-width="1.1"/>
<text x="197.5" y="179.3" font-size="12" text-anchor="middle" fill="#000">2.5</text>
<line x1="232.39999999999998" y1="162.2" x2="232.39999999999998" y2="166.39999999999998" stroke="#111" stroke-width="1.1"/>
<text x="232.39999999999998" y="179.3" font-size="12" text-anchor="middle" fill="#000">3.0</text>
<line x1="267.3" y1="162.2" x2="267.3" y2="166.39999999999998" stroke="#111" stroke-width="1.1"/>
<text x="267.3" y="179.3" font-size="12" text-anchor="middle" fill="#000">3.5</text>
<line x1="110.25" y1="162.2" x2="110.25" y2="164.39999999999998" stroke="#111" stroke-width="1.1"/>
<line x1="145.14999999999998" y1="162.2" x2="145.14999999999998" y2="164.39999999999998" stroke="#111" stroke-width="1.1"/>
<line x1="180.05" y1="162.2" x2="180.05" y2="164.39999999999998" stroke="#111" stroke-width="1.1"/>
<line x1="214.95" y1="162.2" x2="214.95" y2="164.39999999999998" stroke="#111" stroke-width="1.1"/>
<line x1="249.84999999999997" y1="162.2" x2="249.84999999999997" y2="164.39999999999998" stroke="#111" stroke-width="1.1"/>
<line x1="284.75" y1="162.2" x2="284.75" y2="164.39999999999998" stroke="#111" stroke-width="1.1"/>
<text x="52.8" y="94.3" font-size="11.5" text-anchor="middle" fill="#000" transform="rotate(-90 52.8 94.3)" textLength="88" lengthAdjust="spacingAndGlyphs">Temperature (°C)</text>
<text x="189.2" y="192.9" font-size="11.5" text-anchor="middle" fill="#000"><tspan font-style="italic">q</tspan> (Å<tspan baseline-shift="4" font-size="7.5">-1</tspan>)</text>
<rect x="86" y="6" width="210" height="9.5" fill="#fdf0d4" stroke="none" stroke-width="1"/>
<line x1="206.8" y1="6" x2="206.8" y2="15.5" stroke="#f07a50" stroke-width="1.1"/>
<line x1="235.5" y1="6" x2="235.5" y2="15.5" stroke="#f07a50" stroke-width="1.1"/>
<rect x="86" y="20.4" width="210" height="9.6" fill="#dfe9f3" stroke="none" stroke-width="1"/>
<line x1="114.4" y1="22" x2="114.4" y2="29.2" stroke="#555" stroke-width="0.9"/>
<line x1="199.5" y1="22" x2="199.5" y2="29.2" stroke="#555" stroke-width="0.9"/>
<line x1="205.9" y1="22" x2="205.9" y2="29.2" stroke="#555" stroke-width="0.9"/>
<line x1="207.2" y1="22" x2="207.2" y2="29.2" stroke="#555" stroke-width="0.9"/>
<line x1="235.7" y1="22" x2="235.7" y2="29.2" stroke="#555" stroke-width="0.9"/>
<line x1="254.4" y1="22" x2="254.4" y2="29.2" stroke="#555" stroke-width="0.9"/>
<text x="58" y="7.8" font-size="11.5" text-anchor="start" font-style="italic" fill="#c8641e" transform="rotate(8.5 58 7.8)" textLength="44" lengthAdjust="spacingAndGlyphs" stroke="#c8641e" stroke-width="0.35">Rocksalt:</text>
<text x="64.6" y="23.3" font-size="11.5" text-anchor="start" font-style="italic" fill="#000" transform="rotate(7 64.6 23.3)" textLength="21" lengthAdjust="spacingAndGlyphs" stroke="#000" stroke-width="0.25">LNO</text>
<rect x="13.8" y="171.6" width="6.6" height="72.8" fill="url(#cbar)" stroke="none" stroke-width="1"/>
<text x="21.2" y="175" font-size="8.3" text-anchor="start" fill="#000" textLength="20" lengthAdjust="spacingAndGlyphs">915.0</text>
<text x="21.2" y="207.5" font-size="8.3" text-anchor="start" fill="#000" textLength="20" lengthAdjust="spacingAndGlyphs">90.00</text>
<text x="21.2" y="246" font-size="8.3" text-anchor="start" fill="#000" textLength="20" lengthAdjust="spacingAndGlyphs">0.000</text>
<text x="3.0" y="208.8" font-size="8.3" text-anchor="middle" fill="#1a1a1a" transform="rotate(90 3.0 208.8)" textLength="74" lengthAdjust="spacingAndGlyphs" stroke="#1a1a1a" stroke-width="0.15">Intensity(<tspan font-style="italic">arb. units</tspan>)</text>
<clipPath id="clipb"><rect x="357.1" y="31.8" width="83.39999999999998" height="127.50000000000001"/></clipPath>
<g clip-path="url(#clipb)">
<rect x="357.1" y="31.8" width="83.39999999999998" height="127.50000000000001" fill="#c7ddee" stroke="none" stroke-width="1"/>
<path d="M356,32 L372,35.5 L384,38.8 L392.5,44.8 L400.5,52.5 L406.5,58.5 L413,66.5 L417.4,74.5 L421,79.5 L425.5,88 L430.5,99.5 L434,109 L436.6,114.8 L441,117 L441,160 L356,160 Z" fill="#8fbcdf"/>
<path d="M374.5,122 L380.8,123.4 L396,124.4 L408.7,126.6 L425.9,129.9 L436.6,133.1 L441,135.2 L441,160 L374,160 Z" fill="#5b9bcc"/>
<path d="M356,37 L358,38.6 L361.4,40.7 L363.6,51.5 L364.7,62.2 L364.7,73 L365.7,85.8 L366,92 L364.3,100 L362.8,114.6 L360.9,124.4 L358.4,134 L357,136 L356,136 Z" fill="#d7cf8b"/>
<path d="M366,89 L367.7,100 L370.6,109.8 L374,119.5 L376.5,127.3 L374,133.2 L374.5,143.9 L377,152.7 L380.4,158.5 L381,160 L356,160 L356,136 L358.4,134 L360.9,124.4 L362.8,114.6 L364.3,100 Z" fill="#cfb07a"/>
</g>
<rect x="357.1" y="31.8" width="83.39999999999998" height="127.50000000000001" fill="none" stroke="#111" stroke-width="1.1"/>
<line x1="352.6" y1="33.125" x2="357.1" y2="33.125" stroke="#111" stroke-width="1.1"/>
<text x="348.7" y="37.325" font-size="12" text-anchor="end" fill="#000">850</text>
<line x1="352.6" y1="56.480000000000004" x2="357.1" y2="56.480000000000004" stroke="#111" stroke-width="1.1"/>
<text x="348.7" y="60.68000000000001" font-size="12" text-anchor="end" fill="#000">700</text>
<line x1="352.6" y1="79.83500000000001" x2="357.1" y2="79.83500000000001" stroke="#111" stroke-width="1.1"/>
<text x="348.7" y="84.03500000000001" font-size="12" text-anchor="end" fill="#000">550</text>
<line x1="352.6" y1="103.19" x2="357.1" y2="103.19" stroke="#111" stroke-width="1.1"/>
<text x="348.7" y="107.39" font-size="12" text-anchor="end" fill="#000">400</text>
<line x1="352.6" y1="126.545" x2="357.1" y2="126.545" stroke="#111" stroke-width="1.1"/>
<text x="348.7" y="130.745" font-size="12" text-anchor="end" fill="#000">250</text>
<line x1="352.6" y1="149.9" x2="357.1" y2="149.9" stroke="#111" stroke-width="1.1"/>
<text x="348.7" y="154.1" font-size="12" text-anchor="end" fill="#000">100</text>
<line x1="354.8" y1="44.80250000000001" x2="357.1" y2="44.80250000000001" stroke="#111" stroke-width="1.1"/>
<line x1="354.8" y1="68.1575" x2="357.1" y2="68.1575" stroke="#111" stroke-width="1.1"/>
<line x1="354.8" y1="91.5125" x2="357.1" y2="91.5125" stroke="#111" stroke-width="1.1"/>
<line x1="354.8" y1="114.8675" x2="357.1" y2="114.8675" stroke="#111" stroke-width="1.1"/>
<line x1="354.8" y1="138.2225" x2="357.1" y2="138.2225" stroke="#111" stroke-width="1.1"/>
<line x1="357.1" y1="159.3" x2="357.1" y2="163.5" stroke="#111" stroke-width="1.1"/>
<text x="357.1" y="176.9" font-size="12" text-anchor="middle" fill="#000">0.0</text>
<line x1="398.65000000000003" y1="159.3" x2="398.65000000000003" y2="163.5" stroke="#111" stroke-width="1.1"/>
<text x="398.65000000000003" y="176.9" font-size="12" text-anchor="middle" fill="#000">0.5</text>
<line x1="440.2" y1="159.3" x2="440.2" y2="163.5" stroke="#111" stroke-width="1.1"/>
<text x="440.2" y="176.9" font-size="12" text-anchor="middle" fill="#000">1.0</text>
<line x1="377.875" y1="159.3" x2="377.875" y2="161.5" stroke="#111" stroke-width="1.1"/>
<line x1="419.425" y1="159.3" x2="419.425" y2="161.5" stroke="#111" stroke-width="1.1"/>
<text x="326" y="96" font-size="11.5" text-anchor="middle" fill="#000" transform="rotate(-90 326 96)" textLength="88" lengthAdjust="spacingAndGlyphs">Temperature (°C)</text>
<text x="401" y="190" font-size="11" text-anchor="middle" fill="#000" textLength="72" lengthAdjust="spacingAndGlyphs">Phase fraction</text>
<text x="397" y="25" font-size="11" text-anchor="middle" fill="#000" textLength="79.7" lengthAdjust="spacingAndGlyphs">Phase evolution</text>
<text x="414.4" y="43.7" font-size="10" text-anchor="middle" fill="#1a1a1a" textLength="39.3" lengthAdjust="spacingAndGlyphs" stroke="#1a1a1a" stroke-width="0.2">LiNiO<tspan baseline-shift="-2.2" font-size="7.5">2</tspan> (L)</text>
<text x="394.4" y="82.7" font-size="10" text-anchor="middle" fill="#1a1a1a" textLength="38.4" lengthAdjust="spacingAndGlyphs" stroke="#1a1a1a" stroke-width="0.2">Li<tspan baseline-shift="-2.2" font-size="7.5">x</tspan>Ni<tspan baseline-shift="-2.2" font-size="7.5">2-x</tspan>O<tspan baseline-shift="-2.2" font-size="7.5">2</tspan></text>
<text x="394.2" y="93.8" font-size="10" text-anchor="middle" fill="#1a1a1a" textLength="16.6" lengthAdjust="spacingAndGlyphs" stroke="#1a1a1a" stroke-width="0.2">(RS)</text>
<text x="389.5" y="108.1" font-size="10" text-anchor="middle" fill="#1a1a1a" textLength="23.4" lengthAdjust="spacingAndGlyphs" stroke="#1a1a1a" stroke-width="0.2">Li<tspan baseline-shift="-2.2" font-size="7.5">2</tspan>CO<tspan baseline-shift="-2.2" font-size="7.5">3</tspan></text>
<text x="409.8" y="148.1" font-size="10.8" text-anchor="middle" fill="#1a1a1a" textLength="32.2" lengthAdjust="spacingAndGlyphs" stroke="#1a1a1a" stroke-width="0.2">Ni(OH)<tspan baseline-shift="-2.2" font-size="7.5">2</tspan></text>
<text x="371" y="139" font-size="10.5" text-anchor="middle" font-style="italic" fill="#1a1a1a" transform="rotate(-82 371 139)" textLength="19" lengthAdjust="spacingAndGlyphs" stroke="#1a1a1a" stroke-width="0.2">LiOH</text>
<line x1="377" y1="101" x2="364" y2="90.3" stroke="#3d6fc4" stroke-width="1.1"/>
<path d="M360.2,87.3 L367.9,89.3 L363.6,94.4 Z" fill="#3d6fc4"/>
<rect x="526.3" y="32.6" width="47.5" height="127.4" fill="#fdf0d4" stroke="none" stroke-width="1"/>
<line x1="548.5" y1="32.6" x2="548.5" y2="160" stroke="#111" stroke-width="1.1" stroke-dasharray="3.2 2.2"/>
<rect x="495.9" y="32.6" width="168.30000000000007" height="127.4" fill="none" stroke="#111" stroke-width="1.2"/>
<line x1="495.9" y1="96.1" x2="664.2" y2="96.1" stroke="#111" stroke-width="1.2"/>
<line x1="491.9" y1="38.9" x2="495.9" y2="38.9" stroke="#111" stroke-width="1.1"/>
<text x="488.3" y="43.1" font-size="12" text-anchor="end" fill="#000">1.0</text>
<line x1="491.9" y1="59.06" x2="495.9" y2="59.06" stroke="#111" stroke-width="1.1"/>
<text x="488.3" y="63.260000000000005" font-size="12" text-anchor="end" fill="#000">0.7</text>
<line x1="491.9" y1="79.22" x2="495.9" y2="79.22" stroke="#111" stroke-width="1.1"/>
<text x="488.3" y="83.42" font-size="12" text-anchor="end" fill="#000">0.4</text>
<line x1="493.9" y1="48.980000000000004" x2="495.9" y2="48.980000000000004" stroke="#111" stroke-width="1.1"/>
<line x1="493.9" y1="69.14" x2="495.9" y2="69.14" stroke="#111" stroke-width="1.1"/>
<line x1="493.9" y1="89.30000000000001" x2="495.9" y2="89.30000000000001" stroke="#111" stroke-width="1.1"/>
<line x1="491.9" y1="108.2" x2="495.9" y2="108.2" stroke="#111" stroke-width="1.1"/>
<text x="488.3" y="112.4" font-size="12" text-anchor="end" fill="#000">2.7</text>
<line x1="491.9" y1="128.3" x2="495.9" y2="128.3" stroke="#111" stroke-width="1.1"/>
<text x="488.3" y="132.5" font-size="12" text-anchor="end" fill="#000">2.4</text>
<line x1="491.9" y1="148.4" x2="495.9" y2="148.4" stroke="#111" stroke-width="1.1"/>
<text x="488.3" y="152.6" font-size="12" text-anchor="end" fill="#000">2.1</text>
<line x1="493.9" y1="98.15" x2="495.9" y2="98.15" stroke="#111" stroke-width="1.1"/>
<line x1="493.9" y1="118.25000000000003" x2="495.9" y2="118.25000000000003" stroke="#111" stroke-width="1.1"/>
<line x1="493.9" y1="138.35000000000002" x2="495.9" y2="138.35000000000002" stroke="#111" stroke-width="1.1"/>
<line x1="493.9" y1="158.45000000000002" x2="495.9" y2="158.45000000000002" stroke="#111" stroke-width="1.1"/>
<line x1="507.3" y1="160" x2="507.3" y2="164.2" stroke="#111" stroke-width="1.1"/>
<text x="507.3" y="176.7" font-size="12" text-anchor="middle" fill="#000">500</text>
<line x1="551.9" y1="160" x2="551.9" y2="164.2" stroke="#111" stroke-width="1.1"/>
<text x="551.9" y="176.7" font-size="12" text-anchor="middle" fill="#000">600</text>
<line x1="596.5" y1="160" x2="596.5" y2="164.2" stroke="#111" stroke-width="1.1"/>
<text x="596.5" y="176.7" font-size="12" text-anchor="middle" fill="#000">700</text>
<line x1="641.1" y1="160" x2="641.1" y2="164.2" stroke="#111" stroke-width="1.1"/>
<text x="641.1" y="176.7" font-size="12" text-anchor="middle" fill="#000">800</text>
<line x1="529.6" y1="160" x2="529.6" y2="162.3" stroke="#111" stroke-width="1.1"/>
<line x1="529.6" y1="96.1" x2="529.6" y2="98.39999999999999" stroke="#111" stroke-width="1.0"/>
<line x1="574.2" y1="160" x2="574.2" y2="162.3" stroke="#111" stroke-width="1.1"/>
<line x1="574.2" y1="96.1" x2="574.2" y2="98.39999999999999" stroke="#111" stroke-width="1.0"/>
<line x1="618.8" y1="160" x2="618.8" y2="162.3" stroke="#111" stroke-width="1.1"/>
<line x1="618.8" y1="96.1" x2="618.8" y2="98.39999999999999" stroke="#111" stroke-width="1.0"/>
<line x1="507.3" y1="96.1" x2="507.3" y2="99.6" stroke="#111" stroke-width="1.0"/>
<line x1="551.9" y1="96.1" x2="551.9" y2="99.6" stroke="#111" stroke-width="1.0"/>
<line x1="596.5" y1="96.1" x2="596.5" y2="99.6" stroke="#111" stroke-width="1.0"/>
<line x1="641.1" y1="96.1" x2="641.1" y2="99.6" stroke="#111" stroke-width="1.0"/>
<text x="576" y="191" font-size="11.5" text-anchor="middle" fill="#000" textLength="110" lengthAdjust="spacingAndGlyphs">Temperature (°C)</text>
<text x="543.5" y="26.3" font-size="11.5" text-anchor="middle" fill="#1a1a1a" textLength="40" lengthAdjust="spacingAndGlyphs" stroke="#1a1a1a" stroke-width="0.2">Optimal</text>
<text x="455.3" y="62" font-size="11" text-anchor="middle" fill="#000" transform="rotate(-90 455.3 62)" textLength="30.7" lengthAdjust="spacingAndGlyphs">Li Occ.</text>
<text x="470.2" y="61.4" font-size="10" text-anchor="middle" fill="#000" transform="rotate(-90 470.2 61.4)" textLength="61.3" lengthAdjust="spacingAndGlyphs">(x in Li<tspan baseline-shift="-2" font-size="6.5">x</tspan>Ni<tspan baseline-shift="-2" font-size="6.5">2-x</tspan>O<tspan baseline-shift="-2" font-size="6.5">2</tspan>)</text>
<text x="456.5" y="128.5" font-size="11" text-anchor="middle" fill="#000" transform="rotate(-90 456.5 128.5)" textLength="19.5" lengthAdjust="spacingAndGlyphs">Slab</text>
<text x="469.5" y="128.4" font-size="11" text-anchor="middle" fill="#000" transform="rotate(-90 469.5 128.4)" textLength="56.1" lengthAdjust="spacingAndGlyphs">distance (Å)</text>
<text x="618.4" y="44.5" font-size="11.5" text-anchor="middle" fill="#9a8229" textLength="37.5" lengthAdjust="spacingAndGlyphs" stroke="#9a8229" stroke-width="0.3">Layered</text>
<text x="625.3" y="90.1" font-size="11.5" text-anchor="middle" fill="#3a7cc2" textLength="39.4" lengthAdjust="spacingAndGlyphs" stroke="#3a7cc2" stroke-width="0.3">Rocksalt</text>
<text x="641.7" y="124.9" font-size="11.5" text-anchor="middle" fill="#9c5a26" textLength="29" lengthAdjust="spacingAndGlyphs" stroke="#9c5a26" stroke-width="0.3">Li slab</text>
<text x="642.8" y="158" font-size="11.5" text-anchor="middle" fill="#3a80c6" textLength="32" lengthAdjust="spacingAndGlyphs" stroke="#3a80c6" stroke-width="0.3">Ni slab</text>
<circle cx="499.6" cy="38.9" r="2.45" fill="#fac8a3" stroke="#222" stroke-width="0.95"/>
<circle cx="507.2" cy="38.9" r="2.45" fill="#fac8a3" stroke="#222" stroke-width="0.95"/>
<circle cx="514.9" cy="38.9" r="2.45" fill="#fac8a3" stroke="#222" stroke-width="0.95"/>
<circle cx="522.5" cy="38.9" r="2.45" fill="#fac8a3" stroke="#222" stroke-width="0.95"/>
<circle cx="530.2" cy="38.9" r="2.45" fill="#fac8a3" stroke="#222" stroke-width="0.95"/>
<circle cx="537.8" cy="38.9" r="2.45" fill="#fac8a3" stroke="#222" stroke-width="0.95"/>
<circle cx="545.5" cy="38.9" r="2.45" fill="#fac8a3" stroke="#222" stroke-width="0.95"/>
<circle cx="553.1" cy="38.9" r="2.45" fill="#fac8a3" stroke="#222" stroke-width="0.95"/>
<circle cx="560.7" cy="38.9" r="2.45" fill="#fac8a3" stroke="#222" stroke-width="0.95"/>
<circle cx="568.4" cy="38.9" r="2.45" fill="#fac8a3" stroke="#222" stroke-width="0.95"/>
<circle cx="576.0" cy="40.7" r="2.45" fill="#fac8a3" stroke="#222" stroke-width="0.95"/>
<circle cx="583.7" cy="47.2" r="2.45" fill="#fac8a3" stroke="#222" stroke-width="0.95"/>
<circle cx="591.3" cy="51.2" r="2.45" fill="#fac8a3" stroke="#222" stroke-width="0.95"/>
<circle cx="599.0" cy="52.6" r="2.45" fill="#fac8a3" stroke="#222" stroke-width="0.95"/>
<circle cx="606.6" cy="54.7" r="2.45" fill="#fac8a3" stroke="#222" stroke-width="0.95"/>
<circle cx="614.2" cy="54.7" r="2.45" fill="#fac8a3" stroke="#222" stroke-width="0.95"/>
<circle cx="621.9" cy="53.3" r="2.45" fill="#fac8a3" stroke="#222" stroke-width="0.95"/>
<circle cx="629.5" cy="51.2" r="2.45" fill="#fac8a3" stroke="#222" stroke-width="0.95"/>
<circle cx="637.2" cy="48.0" r="2.45" fill="#fac8a3" stroke="#222" stroke-width="0.95"/>
<circle cx="644.8" cy="46.8" r="2.45" fill="#fac8a3" stroke="#222" stroke-width="0.95"/>
<circle cx="652.5" cy="47.2" r="2.45" fill="#fac8a3" stroke="#222" stroke-width="0.95"/>
<circle cx="660.1" cy="48.4" r="2.45" fill="#fac8a3" stroke="#222" stroke-width="0.95"/>
<circle cx="499.6" cy="77.1" r="2.45" fill="#a9daf6" stroke="#222" stroke-width="0.95"/>
<circle cx="507.2" cy="76.2" r="2.45" fill="#a9daf6" stroke="#222" stroke-width="0.95"/>
<circle cx="514.9" cy="75.3" r="2.45" fill="#a9daf6" stroke="#222" stroke-width="0.95"/>
<circle cx="522.5" cy="74.5" r="2.45" fill="#a9daf6" stroke="#222" stroke-width="0.95"/>
<circle cx="530.2" cy="73.9" r="2.45" fill="#a9daf6" stroke="#222" stroke-width="0.95"/>
<circle cx="537.8" cy="73.2" r="2.45" fill="#a9daf6" stroke="#222" stroke-width="0.95"/>
<circle cx="545.5" cy="72.7" r="2.45" fill="#a9daf6" stroke="#222" stroke-width="0.95"/>
<circle cx="553.1" cy="72.7" r="2.45" fill="#a9daf6" stroke="#222" stroke-width="0.95"/>
<circle cx="560.7" cy="72.7" r="2.45" fill="#a9daf6" stroke="#222" stroke-width="0.95"/>
<circle cx="568.4" cy="72.6" r="2.45" fill="#a9daf6" stroke="#222" stroke-width="0.95"/>
<circle cx="576.0" cy="72.5" r="2.45" fill="#a9daf6" stroke="#222" stroke-width="0.95"/>
<circle cx="583.7" cy="72.5" r="2.45" fill="#a9daf6" stroke="#222" stroke-width="0.95"/>
<circle cx="591.3" cy="72.5" r="2.45" fill="#a9daf6" stroke="#222" stroke-width="0.95"/>
<circle cx="599.0" cy="72.5" r="2.45" fill="#a9daf6" stroke="#222" stroke-width="0.95"/>
<circle cx="606.6" cy="72.5" r="2.45" fill="#a9daf6" stroke="#222" stroke-width="0.95"/>
<circle cx="614.2" cy="72.4" r="2.45" fill="#a9daf6" stroke="#222" stroke-width="0.95"/>
<circle cx="621.9" cy="72.4" r="2.45" fill="#a9daf6" stroke="#222" stroke-width="0.95"/>
<circle cx="629.5" cy="72.5" r="2.45" fill="#a9daf6" stroke="#222" stroke-width="0.95"/>
<circle cx="637.2" cy="72.5" r="2.45" fill="#a9daf6" stroke="#222" stroke-width="0.95"/>
<circle cx="644.8" cy="72.5" r="2.45" fill="#a9daf6" stroke="#222" stroke-width="0.95"/>
<circle cx="652.5" cy="75.7" r="2.45" fill="#a9daf6" stroke="#222" stroke-width="0.95"/>
<circle cx="660.1" cy="84.0" r="2.45" fill="#a9daf6" stroke="#222" stroke-width="0.95"/>
<circle cx="499.6" cy="108.4" r="2.45" fill="#f6d9a6" stroke="#222" stroke-width="0.95"/>
<circle cx="507.2" cy="107.5" r="2.45" fill="#f6d9a6" stroke="#222" stroke-width="0.95"/>
<circle cx="514.9" cy="106.6" r="2.45" fill="#f6d9a6" stroke="#222" stroke-width="0.95"/>
<circle cx="522.5" cy="105.8" r="2.45" fill="#f6d9a6" stroke="#222" stroke-width="0.95"/>
<circle cx="530.2" cy="105.4" r="2.45" fill="#f6d9a6" stroke="#222" stroke-width="0.95"/>
<circle cx="537.8" cy="104.9" r="2.45" fill="#f6d9a6" stroke="#222" stroke-width="0.95"/>
<circle cx="545.5" cy="104.0" r="2.45" fill="#f6d9a6" stroke="#222" stroke-width="0.95"/>
<circle cx="553.1" cy="104.5" r="2.45" fill="#f6d9a6" stroke="#222" stroke-width="0.95"/>
<circle cx="560.7" cy="105.4" r="2.45" fill="#f6d9a6" stroke="#222" stroke-width="0.95"/>
<circle cx="568.4" cy="106.1" r="2.45" fill="#f6d9a6" stroke="#222" stroke-width="0.95"/>
<circle cx="576.0" cy="106.6" r="2.45" fill="#f6d9a6" stroke="#222" stroke-width="0.95"/>
<circle cx="583.7" cy="108.4" r="2.45" fill="#f6d9a6" stroke="#222" stroke-width="0.95"/>
<circle cx="591.3" cy="109.3" r="2.45" fill="#f6d9a6" stroke="#222" stroke-width="0.95"/>
<circle cx="599.0" cy="110.2" r="2.45" fill="#f6d9a6" stroke="#222" stroke-width="0.95"/>
<circle cx="606.6" cy="111.1" r="2.45" fill="#f6d9a6" stroke="#222" stroke-width="0.95"/>
<circle cx="614.2" cy="111.8" r="2.45" fill="#f6d9a6" stroke="#222" stroke-width="0.95"/>
<circle cx="621.9" cy="112.4" r="2.45" fill="#f6d9a6" stroke="#222" stroke-width="0.95"/>
<circle cx="629.5" cy="112.4" r="2.45" fill="#f6d9a6" stroke="#222" stroke-width="0.95"/>
<circle cx="637.2" cy="112.2" r="2.45" fill="#f6d9a6" stroke="#222" stroke-width="0.95"/>
<circle cx="644.8" cy="112.2" r="2.45" fill="#f6d9a6" stroke="#222" stroke-width="0.95"/>
<circle cx="652.5" cy="112.2" r="2.45" fill="#f6d9a6" stroke="#222" stroke-width="0.95"/>
<circle cx="660.1" cy="112.5" r="2.45" fill="#f6d9a6" stroke="#222" stroke-width="0.95"/>
<circle cx="499.6" cy="149.6" r="2.45" fill="#a9daf6" stroke="#222" stroke-width="0.95"/>
<circle cx="507.2" cy="151.3" r="2.45" fill="#a9daf6" stroke="#222" stroke-width="0.95"/>
<circle cx="514.9" cy="152.7" r="2.45" fill="#a9daf6" stroke="#222" stroke-width="0.95"/>
<circle cx="522.5" cy="153.9" r="2.45" fill="#a9daf6" stroke="#222" stroke-width="0.95"/>
<circle cx="530.2" cy="153.9" r="2.45" fill="#a9daf6" stroke="#222" stroke-width="0.95"/>
<circle cx="537.8" cy="154.5" r="2.45" fill="#a9daf6" stroke="#222" stroke-width="0.95"/>
<circle cx="545.5" cy="154.8" r="2.45" fill="#a9daf6" stroke="#222" stroke-width="0.95"/>
<circle cx="553.1" cy="153.9" r="2.45" fill="#a9daf6" stroke="#222" stroke-width="0.95"/>
<circle cx="560.7" cy="152.7" r="2.45" fill="#a9daf6" stroke="#222" stroke-width="0.95"/>
<circle cx="568.4" cy="151.7" r="2.45" fill="#a9daf6" stroke="#222" stroke-width="0.95"/>
<circle cx="576.0" cy="150.8" r="2.45" fill="#a9daf6" stroke="#222" stroke-width="0.95"/>
<circle cx="583.7" cy="148.7" r="2.45" fill="#a9daf6" stroke="#222" stroke-width="0.95"/>
<circle cx="591.3" cy="147.6" r="2.45" fill="#a9daf6" stroke="#222" stroke-width="0.95"/>
<circle cx="599.0" cy="146.9" r="2.45" fill="#a9daf6" stroke="#222" stroke-width="0.95"/>
<circle cx="606.6" cy="145.8" r="2.45" fill="#a9daf6" stroke="#222" stroke-width="0.95"/>
<circle cx="614.2" cy="145.4" r="2.45" fill="#a9daf6" stroke="#222" stroke-width="0.95"/>
<circle cx="621.9" cy="144.7" r="2.45" fill="#a9daf6" stroke="#222" stroke-width="0.95"/>
<circle cx="629.5" cy="144.7" r="2.45" fill="#a9daf6" stroke="#222" stroke-width="0.95"/>
<circle cx="637.2" cy="145.1" r="2.45" fill="#a9daf6" stroke="#222" stroke-width="0.95"/>
<circle cx="644.8" cy="145.1" r="2.45" fill="#a9daf6" stroke="#222" stroke-width="0.95"/>
<circle cx="652.5" cy="144.7" r="2.45" fill="#a9daf6" stroke="#222" stroke-width="0.95"/>
<circle cx="660.1" cy="144.0" r="2.45" fill="#a9daf6" stroke="#222" stroke-width="0.95"/>
<clipPath id="duc2"><rect x="86" y="232.2" width="209.8" height="63.900000000000034"/></clipPath>
<filter id="duf2" filterUnits="userSpaceOnUse" x="84" y="226" width="214" height="77" color-interpolation-filters="sRGB"><feGaussianBlur stdDeviation="0 1.0"/><feComponentTransfer><feFuncR type="table" tableValues="0.1 0 0 0 0 0.5 1 1 1"/><feFuncG type="table" tableValues="0.04 0.5 1 1 1 1 1 0.5 0"/><feFuncB type="table" tableValues="0.94 1 1 0.5 0 0 0 0 0"/><feFuncA type="table" tableValues="1 1"/></feComponentTransfer></filter>
<g clip-path="url(#duc2)"><g filter="url(#duf2)" shape-rendering="crispEdges">
<defs><linearGradient id="du2_0" gradientUnits="userSpaceOnUse" x1="84" x2="298" y1="0" y2="0"><stop offset=".000" stop-color="#161616"/><stop offset=".044" stop-color="#191919"/><stop offset=".049" stop-color="#222222"/><stop offset=".056" stop-color="#191919"/><stop offset=".091" stop-color="#1f1f1f"/><stop offset=".103" stop-color="#2b2b2b"/><stop offset=".110" stop-color="#3e3e3e"/><stop offset=".114" stop-color="#565656"/><stop offset=".117" stop-color="#686868"/><stop offset=".119" stop-color="#7f7f7f"/><stop offset=".121" stop-color="#9c9c9c"/><stop offset=".126" stop-color="#e4e4e4"/><stop offset=".129" stop-color="#ffffff"/><stop offset=".133" stop-color="#ffffff"/><stop offset=".136" stop-color="#e3e3e3"/><stop offset=".140" stop-color="#9a9a9a"/><stop offset=".143" stop-color="#7d7d7d"/><stop offset=".145" stop-color="#656565"/><stop offset=".150" stop-color="#454545"/><stop offset=".157" stop-color="#2c2c2c"/><stop offset=".168" stop-color="#1a1a1a"/><stop offset=".185" stop-color="#151515"/><stop offset=".189" stop-color="#1d1d1d"/><stop offset=".192" stop-color="#282828"/><stop offset=".196" stop-color="#181818"/><stop offset=".208" stop-color="#121212"/><stop offset=".236" stop-color="#141414"/><stop offset=".241" stop-color="#1c1c1c"/><stop offset=".245" stop-color="#131313"/><stop offset=".329" stop-color="#101010"/><stop offset=".346" stop-color="#080808"/><stop offset=".374" stop-color="#0b0b0b"/><stop offset=".376" stop-color="#0e0e0e"/><stop offset=".379" stop-color="#171717"/><stop offset=".381" stop-color="#1a1a1a"/><stop offset=".383" stop-color="#0f0f0f"/><stop offset=".393" stop-color="#090909"/><stop offset=".411" stop-color="#0b0b0b"/><stop offset=".414" stop-color="#0f0f0f"/><stop offset=".416" stop-color="#181818"/><stop offset=".418" stop-color="#1b1b1b"/><stop offset=".421" stop-color="#101010"/><stop offset=".430" stop-color="#090909"/><stop offset=".502" stop-color="#0d0d0d"/><stop offset=".509" stop-color="#141414"/><stop offset=".514" stop-color="#262626"/><stop offset=".519" stop-color="#303030"/><stop offset=".521" stop-color="#3e3e3e"/><stop offset=".526" stop-color="#6a6a6a"/><stop offset=".533" stop-color="#b6b6b6"/><stop offset=".535" stop-color="#c6c6c6"/><stop offset=".537" stop-color="#cdcdcd"/><stop offset=".540" stop-color="#cbcbcb"/><stop offset=".542" stop-color="#bebebe"/><stop offset=".547" stop-color="#939393"/><stop offset=".551" stop-color="#656565"/><stop offset=".554" stop-color="#565656"/><stop offset=".556" stop-color="#4e4e4e"/><stop offset=".558" stop-color="#4f4f4f"/><stop offset=".561" stop-color="#575757"/><stop offset=".570" stop-color="#9a9a9a"/><stop offset=".572" stop-color="#a2a2a2"/><stop offset=".575" stop-color="#a3a3a3"/><stop offset=".577" stop-color="#9a9a9a"/><stop offset=".582" stop-color="#767676"/><stop offset=".589" stop-color="#393939"/><stop offset=".593" stop-color="#1f1f1f"/><stop offset=".600" stop-color="#111111"/><stop offset=".638" stop-color="#0c0c0c"/><stop offset=".671" stop-color="#101010"/><stop offset=".680" stop-color="#1f1f1f"/><stop offset=".685" stop-color="#313131"/><stop offset=".689" stop-color="#4f4f4f"/><stop offset=".696" stop-color="#919191"/><stop offset=".703" stop-color="#d5d5d5"/><stop offset=".706" stop-color="#e6e6e6"/><stop offset=".708" stop-color="#f0f0f0"/><stop offset=".710" stop-color="#f4f4f4"/><stop offset=".713" stop-color="#f0f0f0"/><stop offset=".715" stop-color="#e6e6e6"/><stop offset=".720" stop-color="#c1c1c1"/><stop offset=".729" stop-color="#636363"/><stop offset=".734" stop-color="#3f3f3f"/><stop offset=".738" stop-color="#272727"/><stop offset=".745" stop-color="#151515"/><stop offset=".759" stop-color="#0e0e0e"/><stop offset=".773" stop-color="#111111"/><stop offset=".778" stop-color="#191919"/><stop offset=".783" stop-color="#2c2c2c"/><stop offset=".790" stop-color="#606060"/><stop offset=".794" stop-color="#818181"/><stop offset=".797" stop-color="#888888"/><stop offset=".799" stop-color="#878787"/><stop offset=".801" stop-color="#7e7e7e"/><stop offset=".806" stop-color="#5b5b5b"/><stop offset=".811" stop-color="#353535"/><stop offset=".815" stop-color="#1a1a1a"/><stop offset=".820" stop-color="#0d0d0d"/><stop offset=".834" stop-color="#070707"/><stop offset=".958" stop-color="#060606"/><stop offset=".970" stop-color="#0a0a0a"/><stop offset=".998" stop-color="#050505"/><stop offset="1.000" stop-color="#050505"/></linearGradient></defs>
<rect x="84" y="226" width="214" height="78" fill="url(#du2_0)"/>
</g></g>
<clipPath id="dlc3"><rect x="86" y="302.4" width="209.8" height="63.900000000000034"/></clipPath>
<filter id="dlf3" filterUnits="userSpaceOnUse" x="84" y="296" width="214" height="77" color-interpolation-filters="sRGB"><feGaussianBlur stdDeviation="0 1.1"/><feComponentTransfer><feFuncR type="table" tableValues="0.1 0 0 0 0 0.5 1 1 1"/><feFuncG type="table" tableValues="0.04 0.5 1 1 1 1 1 0.5 0"/><feFuncB type="table" tableValues="0.94 1 1 0.5 0 0 0 0 0"/><feFuncA type="table" tableValues="1 1"/></feComponentTransfer></filter>
<g clip-path="url(#dlc3)"><g filter="url(#dlf3)" shape-rendering="crispEdges">
<defs><linearGradient id="dl3_0" gradientUnits="userSpaceOnUse" x1="84" x2="298" y1="0" y2="0"><stop offset=".000" stop-color="#161616"/><stop offset=".044" stop-color="#191919"/><stop offset=".049" stop-color="#222222"/><stop offset=".056" stop-color="#191919"/><stop offset=".091" stop-color="#1f1f1f"/><stop offset=".105" stop-color="#303030"/><stop offset=".112" stop-color="#484848"/><stop offset=".117" stop-color="#686868"/><stop offset=".119" stop-color="#7f7f7f"/><stop offset=".124" stop-color="#bfbfbf"/><stop offset=".126" stop-color="#e4e4e4"/><stop offset=".129" stop-color="#ffffff"/><stop offset=".133" stop-color="#ffffff"/><stop offset=".136" stop-color="#e4e4e4"/><stop offset=".140" stop-color="#9b9b9b"/><stop offset=".143" stop-color="#7d7d7d"/><stop offset=".147" stop-color="#535353"/><stop offset=".154" stop-color="#323232"/><stop offset=".166" stop-color="#1c1c1c"/><stop offset=".185" stop-color="#151515"/><stop offset=".189" stop-color="#1d1d1d"/><stop offset=".192" stop-color="#282828"/><stop offset=".196" stop-color="#181818"/><stop offset=".213" stop-color="#121212"/><stop offset=".236" stop-color="#141414"/><stop offset=".241" stop-color="#1c1c1c"/><stop offset=".248" stop-color="#121212"/><stop offset=".332" stop-color="#0e0e0e"/><stop offset=".348" stop-color="#080808"/><stop offset=".379" stop-color="#0d0d0d"/><stop offset=".383" stop-color="#222222"/><stop offset=".388" stop-color="#0e0e0e"/><stop offset=".409" stop-color="#0b0b0b"/><stop offset=".414" stop-color="#111111"/><stop offset=".416" stop-color="#1d1d1d"/><stop offset=".418" stop-color="#212121"/><stop offset=".421" stop-color="#121212"/><stop offset=".428" stop-color="#0a0a0a"/><stop offset=".465" stop-color="#0c0c0c"/><stop offset=".470" stop-color="#161616"/><stop offset=".477" stop-color="#0c0c0c"/><stop offset=".505" stop-color="#101010"/><stop offset=".509" stop-color="#171717"/><stop offset=".519" stop-color="#3e3e3e"/><stop offset=".523" stop-color="#696969"/><stop offset=".530" stop-color="#b5b5b5"/><stop offset=".533" stop-color="#c6c6c6"/><stop offset=".535" stop-color="#cecece"/><stop offset=".537" stop-color="#cbcbcb"/><stop offset=".540" stop-color="#bebebe"/><stop offset=".549" stop-color="#656565"/><stop offset=".551" stop-color="#575757"/><stop offset=".554" stop-color="#505050"/><stop offset=".556" stop-color="#525252"/><stop offset=".558" stop-color="#5d5d5d"/><stop offset=".568" stop-color="#a9a9a9"/><stop offset=".570" stop-color="#b2b2b2"/><stop offset=".572" stop-color="#b3b3b3"/><stop offset=".575" stop-color="#aaaaaa"/><stop offset=".579" stop-color="#828282"/><stop offset=".586" stop-color="#3d3d3d"/><stop offset=".591" stop-color="#222222"/><stop offset=".598" stop-color="#111111"/><stop offset=".643" stop-color="#0c0c0c"/><stop offset=".673" stop-color="#121212"/><stop offset=".680" stop-color="#1f1f1f"/><stop offset=".687" stop-color="#3f3f3f"/><stop offset=".694" stop-color="#797979"/><stop offset=".703" stop-color="#d6d6d6"/><stop offset=".708" stop-color="#f0f0f0"/><stop offset=".710" stop-color="#f4f4f4"/><stop offset=".713" stop-color="#f0f0f0"/><stop offset=".717" stop-color="#d5d5d5"/><stop offset=".729" stop-color="#636363"/><stop offset=".734" stop-color="#3f3f3f"/><stop offset=".741" stop-color="#1f1f1f"/><stop offset=".750" stop-color="#111111"/><stop offset=".769" stop-color="#121212"/><stop offset=".776" stop-color="#1e1e1e"/><stop offset=".783" stop-color="#3d3d3d"/><stop offset=".792" stop-color="#717171"/><stop offset=".797" stop-color="#7b7b7b"/><stop offset=".801" stop-color="#717171"/><stop offset=".815" stop-color="#222222"/><stop offset=".822" stop-color="#0e0e0e"/><stop offset=".841" stop-color="#060606"/><stop offset=".958" stop-color="#060606"/><stop offset=".972" stop-color="#090909"/><stop offset="1.000" stop-color="#050505"/></linearGradient><linearGradient id="dl3_1" gradientUnits="userSpaceOnUse" x1="84" x2="298" y1="0" y2="0"><stop offset=".000" stop-color="#161616"/><stop offset=".044" stop-color="#191919"/><stop offset=".049" stop-color="#222222"/><stop offset=".056" stop-color="#191919"/><stop offset=".091" stop-color="#1f1f1f"/><stop offset=".105" stop-color="#303030"/><stop offset=".112" stop-color="#484848"/><stop offset=".117" stop-color="#686868"/><stop offset=".119" stop-color="#7f7f7f"/><stop offset=".124" stop-color="#bfbfbf"/><stop offset=".126" stop-color="#e4e4e4"/><stop offset=".129" stop-color="#ffffff"/><stop offset=".133" stop-color="#ffffff"/><stop offset=".136" stop-color="#e4e4e4"/><stop offset=".140" stop-color="#9b9b9b"/><stop offset=".143" stop-color="#7d7d7d"/><stop offset=".147" stop-color="#535353"/><stop offset=".154" stop-color="#323232"/><stop offset=".166" stop-color="#1c1c1c"/><stop offset=".185" stop-color="#151515"/><stop offset=".189" stop-color="#1d1d1d"/><stop offset=".192" stop-color="#282828"/><stop offset=".196" stop-color="#181818"/><stop offset=".213" stop-color="#121212"/><stop offset=".236" stop-color="#141414"/><stop offset=".241" stop-color="#1c1c1c"/><stop offset=".248" stop-color="#121212"/><stop offset=".332" stop-color="#0e0e0e"/><stop offset=".348" stop-color="#080808"/><stop offset=".379" stop-color="#0d0d0d"/><stop offset=".383" stop-color="#222222"/><stop offset=".388" stop-color="#0e0e0e"/><stop offset=".409" stop-color="#0b0b0b"/><stop offset=".414" stop-color="#111111"/><stop offset=".416" stop-color="#1d1d1d"/><stop offset=".418" stop-color="#212121"/><stop offset=".421" stop-color="#121212"/><stop offset=".428" stop-color="#0a0a0a"/><stop offset=".465" stop-color="#0c0c0c"/><stop offset=".470" stop-color="#161616"/><stop offset=".477" stop-color="#0c0c0c"/><stop offset=".505" stop-color="#101010"/><stop offset=".509" stop-color="#171717"/><stop offset=".519" stop-color="#3e3e3e"/><stop offset=".523" stop-color="#696969"/><stop offset=".530" stop-color="#b5b5b5"/><stop offset=".533" stop-color="#c6c6c6"/><stop offset=".535" stop-color="#cecece"/><stop offset=".537" stop-color="#cbcbcb"/><stop offset=".540" stop-color="#bebebe"/><stop offset=".549" stop-color="#656565"/><stop offset=".551" stop-color="#575757"/><stop offset=".554" stop-color="#505050"/><stop offset=".556" stop-color="#525252"/><stop offset=".558" stop-color="#5d5d5d"/><stop offset=".568" stop-color="#a9a9a9"/><stop offset=".570" stop-color="#b2b2b2"/><stop offset=".572" stop-color="#b3b3b3"/><stop offset=".575" stop-color="#aaaaaa"/><stop offset=".579" stop-color="#828282"/><stop offset=".586" stop-color="#3d3d3d"/><stop offset=".591" stop-color="#222222"/><stop offset=".598" stop-color="#111111"/><stop offset=".643" stop-color="#0c0c0c"/><stop offset=".673" stop-color="#121212"/><stop offset=".680" stop-color="#1f1f1f"/><stop offset=".687" stop-color="#404040"/><stop offset=".694" stop-color="#7b7b7b"/><stop offset=".703" stop-color="#d7d7d7"/><stop offset=".708" stop-color="#f1f1f1"/><stop offset=".710" stop-color="#f4f4f4"/><stop offset=".713" stop-color="#f0f0f0"/><stop offset=".717" stop-color="#d4d4d4"/><stop offset=".729" stop-color="#616161"/><stop offset=".734" stop-color="#3e3e3e"/><stop offset=".741" stop-color="#1f1f1f"/><stop offset=".750" stop-color="#111111"/><stop offset=".769" stop-color="#121212"/><stop offset=".776" stop-color="#1f1f1f"/><stop offset=".783" stop-color="#3d3d3d"/><stop offset=".792" stop-color="#717171"/><stop offset=".797" stop-color="#7b7b7b"/><stop offset=".801" stop-color="#717171"/><stop offset=".815" stop-color="#222222"/><stop offset=".822" stop-color="#0e0e0e"/><stop offset=".841" stop-color="#060606"/><stop offset=".958" stop-color="#060606"/><stop offset=".972" stop-color="#090909"/><stop offset="1.000" stop-color="#050505"/></linearGradient><linearGradient id="dl3_2" gradientUnits="userSpaceOnUse" x1="84" x2="298" y1="0" y2="0"><stop offset=".000" stop-color="#161616"/><stop offset=".044" stop-color="#191919"/><stop offset=".049" stop-color="#222222"/><stop offset=".056" stop-color="#191919"/><stop offset=".091" stop-color="#1f1f1f"/><stop offset=".105" stop-color="#303030"/><stop offset=".112" stop-color="#484848"/><stop offset=".117" stop-color="#686868"/><stop offset=".119" stop-color="#7f7f7f"/><stop offset=".124" stop-color="#bfbfbf"/><stop offset=".126" stop-color="#e4e4e4"/><stop offset=".129" stop-color="#ffffff"/><stop offset=".133" stop-color="#ffffff"/><stop offset=".136" stop-color="#e4e4e4"/><stop offset=".140" stop-color="#9b9b9b"/><stop offset=".143" stop-color="#7d7d7d"/><stop offset=".147" stop-color="#535353"/><stop offset=".154" stop-color="#323232"/><stop offset=".166" stop-color="#1c1c1c"/><stop offset=".185" stop-color="#151515"/><stop offset=".189" stop-color="#1d1d1d"/><stop offset=".192" stop-color="#282828"/><stop offset=".196" stop-color="#181818"/><stop offset=".213" stop-color="#121212"/><stop offset=".236" stop-color="#141414"/><stop offset=".241" stop-color="#1c1c1c"/><stop offset=".248" stop-color="#121212"/><stop offset=".332" stop-color="#0e0e0e"/><stop offset=".348" stop-color="#080808"/><stop offset=".379" stop-color="#0d0d0d"/><stop offset=".383" stop-color="#222222"/><stop offset=".388" stop-color="#0e0e0e"/><stop offset=".409" stop-color="#0b0b0b"/><stop offset=".414" stop-color="#111111"/><stop offset=".416" stop-color="#1d1d1d"/><stop offset=".418" stop-color="#212121"/><stop offset=".421" stop-color="#121212"/><stop offset=".428" stop-color="#0a0a0a"/><stop offset=".465" stop-color="#0c0c0c"/><stop offset=".470" stop-color="#161616"/><stop offset=".477" stop-color="#0c0c0c"/><stop offset=".505" stop-color="#101010"/><stop offset=".509" stop-color="#171717"/><stop offset=".519" stop-color="#3e3e3e"/><stop offset=".523" stop-color="#696969"/><stop offset=".530" stop-color="#b5b5b5"/><stop offset=".533" stop-color="#c6c6c6"/><stop offset=".535" stop-color="#cecece"/><stop offset=".537" stop-color="#cbcbcb"/><stop offset=".540" stop-color="#bebebe"/><stop offset=".549" stop-color="#656565"/><stop offset=".551" stop-color="#575757"/><stop offset=".554" stop-color="#505050"/><stop offset=".556" stop-color="#525252"/><stop offset=".558" stop-color="#5d5d5d"/><stop offset=".568" stop-color="#a9a9a9"/><stop offset=".570" stop-color="#b2b2b2"/><stop offset=".572" stop-color="#b3b3b3"/><stop offset=".575" stop-color="#aaaaaa"/><stop offset=".579" stop-color="#828282"/><stop offset=".586" stop-color="#3d3d3d"/><stop offset=".591" stop-color="#222222"/><stop offset=".598" stop-color="#111111"/><stop offset=".643" stop-color="#0c0c0c"/><stop offset=".673" stop-color="#131313"/><stop offset=".680" stop-color="#202020"/><stop offset=".687" stop-color="#414141"/><stop offset=".694" stop-color="#7c7c7c"/><stop offset=".703" stop-color="#d8d8d8"/><stop offset=".708" stop-color="#f1f1f1"/><stop offset=".710" stop-color="#f4f4f4"/><stop offset=".713" stop-color="#efefef"/><stop offset=".717" stop-color="#d3d3d3"/><stop offset=".729" stop-color="#606060"/><stop offset=".734" stop-color="#3d3d3d"/><stop offset=".741" stop-color="#1e1e1e"/><stop offset=".750" stop-color="#111111"/><stop offset=".769" stop-color="#121212"/><stop offset=".776" stop-color="#1f1f1f"/><stop offset=".783" stop-color="#3d3d3d"/><stop offset=".792" stop-color="#717171"/><stop offset=".797" stop-color="#7a7a7a"/><stop offset=".801" stop-color="#707070"/><stop offset=".815" stop-color="#222222"/><stop offset=".822" stop-color="#0f0f0f"/><stop offset=".839" stop-color="#060606"/><stop offset=".958" stop-color="#060606"/><stop offset=".972" stop-color="#090909"/><stop offset="1.000" stop-color="#050505"/></linearGradient><linearGradient id="dl3_3" gradientUnits="userSpaceOnUse" x1="84" x2="298" y1="0" y2="0"><stop offset=".000" stop-color="#161616"/><stop offset=".044" stop-color="#191919"/><stop offset=".049" stop-color="#222222"/><stop offset=".056" stop-color="#191919"/><stop offset=".091" stop-color="#1f1f1f"/><stop offset=".105" stop-color="#303030"/><stop offset=".112" stop-color="#484848"/><stop offset=".117" stop-color="#686868"/><stop offset=".119" stop-color="#7f7f7f"/><stop offset=".124" stop-color="#bfbfbf"/><stop offset=".126" stop-color="#e4e4e4"/><stop offset=".129" stop-color="#ffffff"/><stop offset=".133" stop-color="#ffffff"/><stop offset=".136" stop-color="#e4e4e4"/><stop offset=".140" stop-color="#9b9b9b"/><stop offset=".143" stop-color="#7d7d7d"/><stop offset=".147" stop-color="#535353"/><stop offset=".154" stop-color="#323232"/><stop offset=".166" stop-color="#1c1c1c"/><stop offset=".185" stop-color="#151515"/><stop offset=".189" stop-color="#1d1d1d"/><stop offset=".192" stop-color="#282828"/><stop offset=".196" stop-color="#181818"/><stop offset=".213" stop-color="#121212"/><stop offset=".236" stop-color="#141414"/><stop offset=".241" stop-color="#1c1c1c"/><stop offset=".248" stop-color="#121212"/><stop offset=".332" stop-color="#0e0e0e"/><stop offset=".348" stop-color="#080808"/><stop offset=".379" stop-color="#0d0d0d"/><stop offset=".383" stop-color="#222222"/><stop offset=".388" stop-color="#0e0e0e"/><stop offset=".409" stop-color="#0b0b0b"/><stop offset=".414" stop-color="#111111"/><stop offset=".416" stop-color="#1d1d1d"/><stop offset=".418" stop-color="#212121"/><stop offset=".421" stop-color="#121212"/><stop offset=".428" stop-color="#0a0a0a"/><stop offset=".465" stop-color="#0c0c0c"/><stop offset=".470" stop-color="#161616"/><stop offset=".477" stop-color="#0c0c0c"/><stop offset=".505" stop-color="#101010"/><stop offset=".509" stop-color="#171717"/><stop offset=".519" stop-color="#3e3e3e"/><stop offset=".523" stop-color="#696969"/><stop offset=".530" stop-color="#b5b5b5"/><stop offset=".533" stop-color="#c6c6c6"/><stop offset=".535" stop-color="#cecece"/><stop offset=".537" stop-color="#cbcbcb"/><stop offset=".540" stop-color="#bebebe"/><stop offset=".549" stop-color="#656565"/><stop offset=".551" stop-color="#575757"/><stop offset=".554" stop-color="#505050"/><stop offset=".556" stop-color="#525252"/><stop offset=".558" stop-color="#5d5d5d"/><stop offset=".568" stop-color="#a9a9a9"/><stop offset=".570" stop-color="#b2b2b2"/><stop offset=".572" stop-color="#b3b3b3"/><stop offset=".575" stop-color="#aaaaaa"/><stop offset=".579" stop-color="#828282"/><stop offset=".586" stop-color="#3d3d3d"/><stop offset=".591" stop-color="#222222"/><stop offset=".598" stop-color="#111111"/><stop offset=".643" stop-color="#0c0c0c"/><stop offset=".673" stop-color="#131313"/><stop offset=".680" stop-color="#202020"/><stop offset=".687" stop-color="#424242"/><stop offset=".694" stop-color="#7e7e7e"/><stop offset=".703" stop-color="#d9d9d9"/><stop offset=".708" stop-color="#f2f2f2"/><stop offset=".710" stop-color="#f4f4f4"/><stop offset=".713" stop-color="#efefef"/><stop offset=".717" stop-color="#d2d2d2"/><stop offset=".729" stop-color="#5f5f5f"/><stop offset=".734" stop-color="#3c3c3c"/><stop offset=".741" stop-color="#1e1e1e"/><stop offset=".750" stop-color="#111111"/><stop offset=".769" stop-color="#121212"/><stop offset=".776" stop-color="#1f1f1f"/><stop offset=".783" stop-color="#3e3e3e"/><stop offset=".792" stop-color="#717171"/><stop offset=".797" stop-color="#7a7a7a"/><stop offset=".801" stop-color="#707070"/><stop offset=".815" stop-color="#232323"/><stop offset=".822" stop-color="#0f0f0f"/><stop offset=".839" stop-color="#060606"/><stop offset=".958" stop-color="#060606"/><stop offset=".972" stop-color="#090909"/><stop offset="1.000" stop-color="#050505"/></linearGradient><linearGradient id="dl3_4" gradientUnits="userSpaceOnUse" x1="84" x2="298" y1="0" y2="0"><stop offset=".000" stop-color="#161616"/><stop offset=".044" stop-color="#191919"/><stop offset=".049" stop-color="#222222"/><stop offset=".056" stop-color="#191919"/><stop offset=".091" stop-color="#1f1f1f"/><stop offset=".105" stop-color="#303030"/><stop offset=".112" stop-color="#484848"/><stop offset=".117" stop-color="#686868"/><stop offset=".119" stop-color="#7f7f7f"/><stop offset=".124" stop-color="#bfbfbf"/><stop offset=".126" stop-color="#e4e4e4"/><stop offset=".129" stop-color="#ffffff"/><stop offset=".133" stop-color="#ffffff"/><stop offset=".136" stop-color="#e4e4e4"/><stop offset=".140" stop-color="#9b9b9b"/><stop offset=".143" stop-color="#7d7d7d"/><stop offset=".147" stop-color="#535353"/><stop offset=".154" stop-color="#323232"/><stop offset=".166" stop-color="#1c1c1c"/><stop offset=".185" stop-color="#151515"/><stop offset=".189" stop-color="#1d1d1d"/><stop offset=".192" stop-color="#282828"/><stop offset=".196" stop-color="#181818"/><stop offset=".213" stop-color="#121212"/><stop offset=".236" stop-color="#141414"/><stop offset=".241" stop-color="#1c1c1c"/><stop offset=".248" stop-color="#121212"/><stop offset=".332" stop-color="#0e0e0e"/><stop offset=".348" stop-color="#080808"/><stop offset=".379" stop-color="#0d0d0d"/><stop offset=".383" stop-color="#222222"/><stop offset=".388" stop-color="#0e0e0e"/><stop offset=".409" stop-color="#0b0b0b"/><stop offset=".414" stop-color="#111111"/><stop offset=".416" stop-color="#1d1d1d"/><stop offset=".418" stop-color="#212121"/><stop offset=".421" stop-color="#121212"/><stop offset=".428" stop-color="#0a0a0a"/><stop offset=".465" stop-color="#0c0c0c"/><stop offset=".470" stop-color="#161616"/><stop offset=".477" stop-color="#0c0c0c"/><stop offset=".505" stop-color="#101010"/><stop offset=".509" stop-color="#171717"/><stop offset=".519" stop-color="#3e3e3e"/><stop offset=".523" stop-color="#696969"/><stop offset=".530" stop-color="#b5b5b5"/><stop offset=".533" stop-color="#c6c6c6"/><stop offset=".535" stop-color="#cecece"/><stop offset=".537" stop-color="#cbcbcb"/><stop offset=".540" stop-color="#bebebe"/><stop offset=".549" stop-color="#656565"/><stop offset=".551" stop-color="#575757"/><stop offset=".554" stop-color="#505050"/><stop offset=".556" stop-color="#525252"/><stop offset=".558" stop-color="#5d5d5d"/><stop offset=".568" stop-color="#a9a9a9"/><stop offset=".570" stop-color="#b2b2b2"/><stop offset=".572" stop-color="#b3b3b3"/><stop offset=".575" stop-color="#aaaaaa"/><stop offset=".579" stop-color="#828282"/><stop offset=".586" stop-color="#3d3d3d"/><stop offset=".591" stop-color="#222222"/><stop offset=".598" stop-color="#111111"/><stop offset=".643" stop-color="#0c0c0c"/><stop offset=".673" stop-color="#131313"/><stop offset=".680" stop-color="#212121"/><stop offset=".687" stop-color="#434343"/><stop offset=".694" stop-color="#7f7f7f"/><stop offset=".701" stop-color="#c7c7c7"/><stop offset=".706" stop-color="#e9e9e9"/><stop offset=".708" stop-color="#f2f2f2"/><stop offset=".710" stop-color="#f4f4f4"/><stop offset=".713" stop-color="#eeeeee"/><stop offset=".717" stop-color="#d0d0d0"/><stop offset=".729" stop-color="#5d5d5d"/><stop offset=".734" stop-color="#3b3b3b"/><stop offset=".741" stop-color="#1e1e1e"/><stop offset=".750" stop-color="#111111"/><stop offset=".769" stop-color="#121212"/><stop offset=".776" stop-color="#1f1f1f"/><stop offset=".783" stop-color="#3e3e3e"/><stop offset=".792" stop-color="#707070"/><stop offset=".797" stop-color="#797979"/><stop offset=".801" stop-color="#707070"/><stop offset=".815" stop-color="#232323"/><stop offset=".822" stop-color="#0f0f0f"/><stop offset=".839" stop-color="#060606"/><stop offset=".958" stop-color="#060606"/><stop offset=".972" stop-color="#090909"/><stop offset="1.000" stop-color="#050505"/></linearGradient><linearGradient id="dl3_5" gradientUnits="userSpaceOnUse" x1="84" x2="298" y1="0" y2="0"><stop offset=".000" stop-color="#161616"/><stop offset=".044" stop-color="#191919"/><stop offset=".049" stop-color="#222222"/><stop offset=".056" stop-color="#191919"/><stop offset=".091" stop-color="#1f1f1f"/><stop offset=".105" stop-color="#303030"/><stop offset=".112" stop-color="#484848"/><stop offset=".117" stop-color="#686868"/><stop offset=".119" stop-color="#7f7f7f"/><stop offset=".124" stop-color="#bfbfbf"/><stop offset=".126" stop-color="#e4e4e4"/><stop offset=".129" stop-color="#ffffff"/><stop offset=".133" stop-color="#ffffff"/><stop offset=".136" stop-color="#e4e4e4"/><stop offset=".140" stop-color="#9b9b9b"/><stop offset=".143" stop-color="#7d7d7d"/><stop offset=".147" stop-color="#535353"/><stop offset=".154" stop-color="#323232"/><stop offset=".166" stop-color="#1c1c1c"/><stop offset=".185" stop-color="#151515"/><stop offset=".189" stop-color="#1d1d1d"/><stop offset=".192" stop-color="#282828"/><stop offset=".196" stop-color="#181818"/><stop offset=".213" stop-color="#121212"/><stop offset=".236" stop-color="#141414"/><stop offset=".241" stop-color="#1c1c1c"/><stop offset=".248" stop-color="#121212"/><stop offset=".332" stop-color="#0e0e0e"/><stop offset=".348" stop-color="#080808"/><stop offset=".379" stop-color="#0d0d0d"/><stop offset=".383" stop-color="#222222"/><stop offset=".388" stop-color="#0e0e0e"/><stop offset=".409" stop-color="#0b0b0b"/><stop offset=".414" stop-color="#111111"/><stop offset=".416" stop-color="#1d1d1d"/><stop offset=".418" stop-color="#212121"/><stop offset=".421" stop-color="#121212"/><stop offset=".428" stop-color="#0a0a0a"/><stop offset=".465" stop-color="#0c0c0c"/><stop offset=".470" stop-color="#161616"/><stop offset=".477" stop-color="#0c0c0c"/><stop offset=".505" stop-color="#101010"/><stop offset=".509" stop-color="#171717"/><stop offset=".519" stop-color="#3e3e3e"/><stop offset=".523" stop-color="#696969"/><stop offset=".530" stop-color="#b5b5b5"/><stop offset=".533" stop-color="#c6c6c6"/><stop offset=".535" stop-color="#cecece"/><stop offset=".537" stop-color="#cbcbcb"/><stop offset=".540" stop-color="#bebebe"/><stop offset=".549" stop-color="#656565"/><stop offset=".551" stop-color="#575757"/><stop offset=".554" stop-color="#505050"/><stop offset=".556" stop-color="#525252"/><stop offset=".558" stop-color="#5d5d5d"/><stop offset=".568" stop-color="#a9a9a9"/><stop offset=".570" stop-color="#b2b2b2"/><stop offset=".572" stop-color="#b3b3b3"/><stop offset=".575" stop-color="#aaaaaa"/><stop offset=".579" stop-color="#828282"/><stop offset=".586" stop-color="#3d3d3d"/><stop offset=".591" stop-color="#222222"/><stop offset=".598" stop-color="#111111"/><stop offset=".643" stop-color="#0c0c0c"/><stop offset=".671" stop-color="#111111"/><stop offset=".680" stop-color="#212121"/><stop offset=".687" stop-color="#444444"/><stop offset=".694" stop-color="#818181"/><stop offset=".701" stop-color="#c8c8c8"/><stop offset=".706" stop-color="#eaeaea"/><stop offset=".708" stop-color="#f2f2f2"/><stop offset=".710" stop-color="#f3f3f3"/><stop offset=".713" stop-color="#eeeeee"/><stop offset=".717" stop-color="#cfcfcf"/><stop offset=".729" stop-color="#5c5c5c"/><stop offset=".734" stop-color="#3a3a3a"/><stop offset=".741" stop-color="#1d1d1d"/><stop offset=".750" stop-color="#111111"/><stop offset=".769" stop-color="#121212"/><stop offset=".776" stop-color="#202020"/><stop offset=".783" stop-color="#3e3e3e"/><stop offset=".792" stop-color="#707070"/><stop offset=".797" stop-color="#797979"/><stop offset=".801" stop-color="#707070"/><stop offset=".815" stop-color="#232323"/><stop offset=".822" stop-color="#0f0f0f"/><stop offset=".839" stop-color="#060606"/><stop offset=".958" stop-color="#060606"/><stop offset=".972" stop-color="#090909"/><stop offset="1.000" stop-color="#050505"/></linearGradient><linearGradient id="dl3_6" gradientUnits="userSpaceOnUse" x1="84" x2="298" y1="0" y2="0"><stop offset=".000" stop-color="#161616"/><stop offset=".044" stop-color="#191919"/><stop offset=".049" stop-color="#222222"/><stop offset=".056" stop-color="#191919"/><stop offset=".091" stop-color="#1f1f1f"/><stop offset=".105" stop-color="#303030"/><stop offset=".112" stop-color="#484848"/><stop offset=".117" stop-color="#686868"/><stop offset=".119" stop-color="#7f7f7f"/><stop offset=".124" stop-color="#bfbfbf"/><stop offset=".126" stop-color="#e4e4e4"/><stop offset=".129" stop-color="#ffffff"/><stop offset=".133" stop-color="#ffffff"/><stop offset=".136" stop-color="#e4e4e4"/><stop offset=".140" stop-color="#9b9b9b"/><stop offset=".143" stop-color="#7d7d7d"/><stop offset=".147" stop-color="#535353"/><stop offset=".154" stop-color="#323232"/><stop offset=".166" stop-color="#1c1c1c"/><stop offset=".185" stop-color="#151515"/><stop offset=".189" stop-color="#1d1d1d"/><stop offset=".192" stop-color="#282828"/><stop offset=".196" stop-color="#181818"/><stop offset=".213" stop-color="#121212"/><stop offset=".236" stop-color="#141414"/><stop offset=".241" stop-color="#1c1c1c"/><stop offset=".248" stop-color="#121212"/><stop offset=".332" stop-color="#0e0e0e"/><stop offset=".348" stop-color="#080808"/><stop offset=".379" stop-color="#0d0d0d"/><stop offset=".383" stop-color="#222222"/><stop offset=".388" stop-color="#0e0e0e"/><stop offset=".409" stop-color="#0b0b0b"/><stop offset=".414" stop-color="#111111"/><stop offset=".416" stop-color="#1d1d1d"/><stop offset=".418" stop-color="#212121"/><stop offset=".421" stop-color="#121212"/><stop offset=".428" stop-color="#0a0a0a"/><stop offset=".465" stop-color="#0c0c0c"/><stop offset=".470" stop-color="#161616"/><stop offset=".477" stop-color="#0c0c0c"/><stop offset=".505" stop-color="#101010"/><stop offset=".509" stop-color="#171717"/><stop offset=".519" stop-color="#3e3e3e"/><stop offset=".523" stop-color="#696969"/><stop offset=".530" stop-color="#b5b5b5"/><stop offset=".533" stop-color="#c6c6c6"/><stop offset=".535" stop-color="#cecece"/><stop offset=".537" stop-color="#cbcbcb"/><stop offset=".540" stop-color="#bebebe"/><stop offset=".549" stop-color="#656565"/><stop offset=".551" stop-color="#575757"/><stop offset=".554" stop-color="#505050"/><stop offset=".556" stop-color="#525252"/><stop offset=".558" stop-color="#5d5d5d"/><stop offset=".568" stop-color="#a9a9a9"/><stop offset=".570" stop-color="#b2b2b2"/><stop offset=".572" stop-color="#b3b3b3"/><stop offset=".575" stop-color="#aaaaaa"/><stop offset=".579" stop-color="#828282"/><stop offset=".586" stop-color="#3d3d3d"/><stop offset=".591" stop-color="#222222"/><stop offset=".598" stop-color="#111111"/><stop offset=".643" stop-color="#0c0c0c"/><stop offset=".671" stop-color="#111111"/><stop offset=".680" stop-color="#222222"/><stop offset=".687" stop-color="#454545"/><stop offset=".694" stop-color="#828282"/><stop offset=".701" stop-color="#c9c9c9"/><stop offset=".706" stop-color="#ebebeb"/><stop offset=".708" stop-color="#f3f3f3"/><stop offset=".710" stop-color="#f3f3f3"/><stop offset=".713" stop-color="#ededed"/><stop offset=".717" stop-color="#cecece"/><stop offset=".729" stop-color="#5b5b5b"/><stop offset=".734" stop-color="#393939"/><stop offset=".741" stop-color="#1d1d1d"/><stop offset=".750" stop-color="#111111"/><stop offset=".769" stop-color="#121212"/><stop offset=".776" stop-color="#202020"/><stop offset=".783" stop-color="#3e3e3e"/><stop offset=".792" stop-color="#707070"/><stop offset=".797" stop-color="#797979"/><stop offset=".801" stop-color="#6f6f6f"/><stop offset=".815" stop-color="#232323"/><stop offset=".822" stop-color="#0f0f0f"/><stop offset=".839" stop-color="#070707"/><stop offset=".958" stop-color="#060606"/><stop offset=".972" stop-color="#090909"/><stop offset="1.000" stop-color="#050505"/></linearGradient><linearGradient id="dl3_7" gradientUnits="userSpaceOnUse" x1="84" x2="298" y1="0" y2="0"><stop offset=".000" stop-color="#161616"/><stop offset=".044" stop-color="#191919"/><stop offset=".049" stop-color="#222222"/><stop offset=".056" stop-color="#191919"/><stop offset=".091" stop-color="#1f1f1f"/><stop offset=".105" stop-color="#303030"/><stop offset=".112" stop-color="#484848"/><stop offset=".117" stop-color="#686868"/><stop offset=".119" stop-color="#7f7f7f"/><stop offset=".124" stop-color="#bfbfbf"/><stop offset=".126" stop-color="#e4e4e4"/><stop offset=".129" stop-color="#ffffff"/><stop offset=".133" stop-color="#ffffff"/><stop offset=".136" stop-color="#e4e4e4"/><stop offset=".140" stop-color="#9b9b9b"/><stop offset=".143" stop-color="#7d7d7d"/><stop offset=".147" stop-color="#535353"/><stop offset=".154" stop-color="#323232"/><stop offset=".166" stop-color="#1c1c1c"/><stop offset=".185" stop-color="#151515"/><stop offset=".189" stop-color="#1d1d1d"/><stop offset=".192" stop-color="#292929"/><stop offset=".196" stop-color="#181818"/><stop offset=".213" stop-color="#121212"/><stop offset=".236" stop-color="#141414"/><stop offset=".241" stop-color="#1c1c1c"/><stop offset=".248" stop-color="#121212"/><stop offset=".332" stop-color="#0e0e0e"/><stop offset=".348" stop-color="#080808"/><stop offset=".379" stop-color="#0d0d0d"/><stop offset=".383" stop-color="#222222"/><stop offset=".388" stop-color="#0e0e0e"/><stop offset=".409" stop-color="#0b0b0b"/><stop offset=".414" stop-color="#111111"/><stop offset=".416" stop-color="#1d1d1d"/><stop offset=".418" stop-color="#212121"/><stop offset=".421" stop-color="#121212"/><stop offset=".428" stop-color="#0a0a0a"/><stop offset=".465" stop-color="#0c0c0c"/><stop offset=".470" stop-color="#161616"/><stop offset=".477" stop-color="#0c0c0c"/><stop offset=".505" stop-color="#101010"/><stop offset=".509" stop-color="#161616"/><stop offset=".519" stop-color="#3d3d3d"/><stop offset=".523" stop-color="#666666"/><stop offset=".530" stop-color="#b0b0b0"/><stop offset=".533" stop-color="#c1c1c1"/><stop offset=".535" stop-color="#c8c8c8"/><stop offset=".537" stop-color="#c5c5c5"/><stop offset=".540" stop-color="#b9b9b9"/><stop offset=".549" stop-color="#636363"/><stop offset=".551" stop-color="#555555"/><stop offset=".554" stop-color="#4f4f4f"/><stop offset=".556" stop-color="#525252"/><stop offset=".558" stop-color="#5c5c5c"/><stop offset=".568" stop-color="#a8a8a8"/><stop offset=".570" stop-color="#b2b2b2"/><stop offset=".572" stop-color="#b3b3b3"/><stop offset=".575" stop-color="#aaaaaa"/><stop offset=".579" stop-color="#828282"/><stop offset=".586" stop-color="#3d3d3d"/><stop offset=".591" stop-color="#212121"/><stop offset=".598" stop-color="#111111"/><stop offset=".643" stop-color="#0c0c0c"/><stop offset=".671" stop-color="#121212"/><stop offset=".680" stop-color="#242424"/><stop offset=".687" stop-color="#494949"/><stop offset=".694" stop-color="#888888"/><stop offset=".701" stop-color="#cecece"/><stop offset=".706" stop-color="#ededed"/><stop offset=".708" stop-color="#f3f3f3"/><stop offset=".710" stop-color="#f2f2f2"/><stop offset=".713" stop-color="#ebebeb"/><stop offset=".717" stop-color="#c9c9c9"/><stop offset=".729" stop-color="#565656"/><stop offset=".734" stop-color="#363636"/><stop offset=".741" stop-color="#1c1c1c"/><stop offset=".752" stop-color="#0f0f0f"/><stop offset=".769" stop-color="#131313"/><stop offset=".776" stop-color="#202020"/><stop offset=".783" stop-color="#3f3f3f"/><stop offset=".792" stop-color="#707070"/><stop offset=".797" stop-color="#787878"/><stop offset=".801" stop-color="#6f6f6f"/><stop offset=".815" stop-color="#242424"/><stop offset=".822" stop-color="#0f0f0f"/><stop offset=".839" stop-color="#070707"/><stop offset=".958" stop-color="#060606"/><stop offset=".972" stop-color="#090909"/><stop offset="1.000" stop-color="#050505"/></linearGradient><linearGradient id="dl3_8" gradientUnits="userSpaceOnUse" x1="84" x2="298" y1="0" y2="0"><stop offset=".000" stop-color="#161616"/><stop offset=".044" stop-color="#191919"/><stop offset=".049" stop-color="#222222"/><stop offset=".056" stop-color="#191919"/><stop offset=".091" stop-color="#1f1f1f"/><stop offset=".105" stop-color="#303030"/><stop offset=".112" stop-color="#484848"/><stop offset=".117" stop-color="#686868"/><stop offset=".119" stop-color="#7f7f7f"/><stop offset=".124" stop-color="#bfbfbf"/><stop offset=".126" stop-color="#e4e4e4"/><stop offset=".129" stop-color="#ffffff"/><stop offset=".133" stop-color="#ffffff"/><stop offset=".136" stop-color="#e4e4e4"/><stop offset=".140" stop-color="#9b9b9b"/><stop offset=".143" stop-color="#7d7d7d"/><stop offset=".147" stop-color="#535353"/><stop offset=".154" stop-color="#323232"/><stop offset=".166" stop-color="#1c1c1c"/><stop offset=".185" stop-color="#151515"/><stop offset=".189" stop-color="#1e1e1e"/><stop offset=".192" stop-color="#2b2b2b"/><stop offset=".196" stop-color="#191919"/><stop offset=".210" stop-color="#121212"/><stop offset=".236" stop-color="#141414"/><stop offset=".241" stop-color="#1c1c1c"/><stop offset=".248" stop-color="#121212"/><stop offset=".332" stop-color="#0e0e0e"/><stop offset=".348" stop-color="#080808"/><stop offset=".379" stop-color="#0d0d0d"/><stop offset=".383" stop-color="#222222"/><stop offset=".388" stop-color="#0e0e0e"/><stop offset=".409" stop-color="#0b0b0b"/><stop offset=".414" stop-color="#111111"/><stop offset=".416" stop-color="#1d1d1d"/><stop offset=".418" stop-color="#212121"/><stop offset=".421" stop-color="#121212"/><stop offset=".428" stop-color="#0a0a0a"/><stop offset=".465" stop-color="#0c0c0c"/><stop offset=".470" stop-color="#161616"/><stop offset=".477" stop-color="#0c0c0c"/><stop offset=".505" stop-color="#0f0f0f"/><stop offset=".509" stop-color="#161616"/><stop offset=".519" stop-color="#3b3b3b"/><stop offset=".523" stop-color="#636363"/><stop offset=".530" stop-color="#aaaaaa"/><stop offset=".533" stop-color="#bababa"/><stop offset=".535" stop-color="#c1c1c1"/><stop offset=".537" stop-color="#bfbfbf"/><stop offset=".540" stop-color="#b3b3b3"/><stop offset=".549" stop-color="#606060"/><stop offset=".551" stop-color="#535353"/><stop offset=".554" stop-color="#4e4e4e"/><stop offset=".556" stop-color="#515151"/><stop offset=".558" stop-color="#5c5c5c"/><stop offset=".568" stop-color="#a8a8a8"/><stop offset=".570" stop-color="#b2b2b2"/><stop offset=".572" stop-color="#b3b3b3"/><stop offset=".575" stop-color="#aaaaaa"/><stop offset=".579" stop-color="#828282"/><stop offset=".586" stop-color="#3d3d3d"/><stop offset=".591" stop-color="#212121"/><stop offset=".598" stop-color="#111111"/><stop offset=".643" stop-color="#0c0c0c"/><stop offset=".671" stop-color="#121212"/><stop offset=".678" stop-color="#1e1e1e"/><stop offset=".685" stop-color="#3d3d3d"/><stop offset=".692" stop-color="#777777"/><stop offset=".701" stop-color="#d4d4d4"/><stop offset=".706" stop-color="#f0f0f0"/><stop offset=".708" stop-color="#f4f4f4"/><stop offset=".710" stop-color="#f1f1f1"/><stop offset=".715" stop-color="#d7d7d7"/><stop offset=".729" stop-color="#515151"/><stop offset=".734" stop-color="#333333"/><stop offset=".741" stop-color="#1a1a1a"/><stop offset=".752" stop-color="#0f0f0f"/><stop offset=".769" stop-color="#121212"/><stop offset=".776" stop-color="#202020"/><stop offset=".783" stop-color="#3e3e3e"/><stop offset=".792" stop-color="#6f6f6f"/><stop offset=".797" stop-color="#777777"/><stop offset=".801" stop-color="#6e6e6e"/><stop offset=".815" stop-color="#232323"/><stop offset=".822" stop-color="#0f0f0f"/><stop offset=".839" stop-color="#060606"/><stop offset=".958" stop-color="#060606"/><stop offset=".972" stop-color="#090909"/><stop offset="1.000" stop-color="#050505"/></linearGradient><linearGradient id="dl3_9" gradientUnits="userSpaceOnUse" x1="84" x2="298" y1="0" y2="0"><stop offset=".000" stop-color="#161616"/><stop offset=".044" stop-color="#191919"/><stop offset=".049" stop-color="#222222"/><stop offset=".056" stop-color="#191919"/><stop offset=".091" stop-color="#1f1f1f"/><stop offset=".105" stop-color="#303030"/><stop offset=".112" stop-color="#484848"/><stop offset=".117" stop-color="#686868"/><stop offset=".119" stop-color="#7f7f7f"/><stop offset=".124" stop-color="#bfbfbf"/><stop offset=".126" stop-color="#e4e4e4"/><stop offset=".129" stop-color="#ffffff"/><stop offset=".133" stop-color="#ffffff"/><stop offset=".136" stop-color="#e4e4e4"/><stop offset=".140" stop-color="#9b9b9b"/><stop offset=".143" stop-color="#7d7d7d"/><stop offset=".147" stop-color="#535353"/><stop offset=".154" stop-color="#323232"/><stop offset=".166" stop-color="#1c1c1c"/><stop offset=".185" stop-color="#161616"/><stop offset=".189" stop-color="#1e1e1e"/><stop offset=".192" stop-color="#2c2c2c"/><stop offset=".196" stop-color="#191919"/><stop offset=".208" stop-color="#121212"/><stop offset=".236" stop-color="#141414"/><stop offset=".241" stop-color="#1c1c1c"/><stop offset=".248" stop-color="#121212"/><stop offset=".332" stop-color="#0e0e0e"/><stop offset=".348" stop-color="#080808"/><stop offset=".379" stop-color="#0d0d0d"/><stop offset=".383" stop-color="#222222"/><stop offset=".388" stop-color="#0e0e0e"/><stop offset=".409" stop-color="#0b0b0b"/><stop offset=".414" stop-color="#101010"/><stop offset=".416" stop-color="#1d1d1d"/><stop offset=".418" stop-color="#212121"/><stop offset=".421" stop-color="#121212"/><stop offset=".428" stop-color="#0a0a0a"/><stop offset=".465" stop-color="#0c0c0c"/><stop offset=".470" stop-color="#161616"/><stop offset=".477" stop-color="#0c0c0c"/><stop offset=".505" stop-color="#0f0f0f"/><stop offset=".509" stop-color="#161616"/><stop offset=".519" stop-color="#3a3a3a"/><stop offset=".523" stop-color="#606060"/><stop offset=".530" stop-color="#a4a4a4"/><stop offset=".533" stop-color="#b3b3b3"/><stop offset=".535" stop-color="#bababa"/><stop offset=".537" stop-color="#b8b8b8"/><stop offset=".540" stop-color="#adadad"/><stop offset=".549" stop-color="#5d5d5d"/><stop offset=".551" stop-color="#515151"/><stop offset=".554" stop-color="#4c4c4c"/><stop offset=".556" stop-color="#505050"/><stop offset=".558" stop-color="#5b5b5b"/><stop offset=".568" stop-color="#a8a8a8"/><stop offset=".570" stop-color="#b2b2b2"/><stop offset=".572" stop-color="#b2b2b2"/><stop offset=".575" stop-color="#a9a9a9"/><stop offset=".579" stop-color="#828282"/><stop offset=".586" stop-color="#3d3d3d"/><stop offset=".591" stop-color="#212121"/><stop offset=".598" stop-color="#111111"/><stop offset=".643" stop-color="#0c0c0c"/><stop offset=".671" stop-color="#131313"/><stop offset=".678" stop-color="#202020"/><stop offset=".685" stop-color="#414141"/><stop offset=".692" stop-color="#7d7d7d"/><stop offset=".701" stop-color="#d9d9d9"/><stop offset=".706" stop-color="#f1f1f1"/><stop offset=".708" stop-color="#f4f4f4"/><stop offset=".710" stop-color="#efefef"/><stop offset=".715" stop-color="#d2d2d2"/><stop offset=".727" stop-color="#5f5f5f"/><stop offset=".731" stop-color="#3c3c3c"/><stop offset=".738" stop-color="#1e1e1e"/><stop offset=".748" stop-color="#111111"/><stop offset=".766" stop-color="#101010"/><stop offset=".776" stop-color="#1f1f1f"/><stop offset=".783" stop-color="#3c3c3c"/><stop offset=".792" stop-color="#696969"/><stop offset=".797" stop-color="#717171"/><stop offset=".801" stop-color="#696969"/><stop offset=".815" stop-color="#222222"/><stop offset=".822" stop-color="#0f0f0f"/><stop offset=".839" stop-color="#060606"/><stop offset=".958" stop-color="#060606"/><stop offset=".972" stop-color="#090909"/><stop offset="1.000" stop-color="#050505"/></linearGradient><linearGradient id="dl3_10" gradientUnits="userSpaceOnUse" x1="84" x2="298" y1="0" y2="0"><stop offset=".000" stop-color="#161616"/><stop offset=".044" stop-color="#191919"/><stop offset=".049" stop-color="#222222"/><stop offset=".056" stop-color="#191919"/><stop offset=".093" stop-color="#202020"/><stop offset=".105" stop-color="#2e2e2e"/><stop offset=".112" stop-color="#454545"/><stop offset=".117" stop-color="#636363"/><stop offset=".121" stop-color="#959595"/><stop offset=".126" stop-color="#dbdbdb"/><stop offset=".129" stop-color="#f9f9f9"/><stop offset=".131" stop-color="#ffffff"/><stop offset=".133" stop-color="#f9f9f9"/><stop offset=".136" stop-color="#dadada"/><stop offset=".140" stop-color="#949494"/><stop offset=".145" stop-color="#616161"/><stop offset=".150" stop-color="#424242"/><stop offset=".157" stop-color="#2a2a2a"/><stop offset=".171" stop-color="#181818"/><stop offset=".185" stop-color="#161616"/><stop offset=".189" stop-color="#1f1f1f"/><stop offset=".192" stop-color="#2d2d2d"/><stop offset=".196" stop-color="#191919"/><stop offset=".208" stop-color="#121212"/><stop offset=".236" stop-color="#141414"/><stop offset=".241" stop-color="#1c1c1c"/><stop offset=".248" stop-color="#121212"/><stop offset=".332" stop-color="#0e0e0e"/><stop offset=".348" stop-color="#080808"/><stop offset=".379" stop-color="#0d0d0d"/><stop offset=".383" stop-color="#222222"/><stop offset=".388" stop-color="#0e0e0e"/><stop offset=".409" stop-color="#0b0b0b"/><stop offset=".414" stop-color="#101010"/><stop offset=".416" stop-color="#1d1d1d"/><stop offset=".418" stop-color="#212121"/><stop offset=".421" stop-color="#121212"/><stop offset=".428" stop-color="#0a0a0a"/><stop offset=".465" stop-color="#0c0c0c"/><stop offset=".470" stop-color="#161616"/><stop offset=".477" stop-color="#0b0b0b"/><stop offset=".505" stop-color="#0f0f0f"/><stop offset=".509" stop-color="#151515"/><stop offset=".514" stop-color="#292929"/><stop offset=".519" stop-color="#383838"/><stop offset=".523" stop-color="#5c5c5c"/><stop offset=".530" stop-color="#9e9e9e"/><stop offset=".533" stop-color="#adadad"/><stop offset=".535" stop-color="#b3b3b3"/><stop offset=".537" stop-color="#b1b1b1"/><stop offset=".540" stop-color="#a6a6a6"/><stop offset=".549" stop-color="#5b5b5b"/><stop offset=".551" stop-color="#4f4f4f"/><stop offset=".554" stop-color="#4b4b4b"/><stop offset=".556" stop-color="#4f4f4f"/><stop offset=".558" stop-color="#5a5a5a"/><stop offset=".568" stop-color="#a8a8a8"/><stop offset=".570" stop-color="#b2b2b2"/><stop offset=".572" stop-color="#b2b2b2"/><stop offset=".575" stop-color="#a9a9a9"/><stop offset=".579" stop-color="#828282"/><stop offset=".586" stop-color="#3d3d3d"/><stop offset=".591" stop-color="#212121"/><stop offset=".598" stop-color="#111111"/><stop offset=".643" stop-color="#0c0c0c"/><stop offset=".668" stop-color="#111111"/><stop offset=".678" stop-color="#222222"/><stop offset=".685" stop-color="#464646"/><stop offset=".692" stop-color="#848484"/><stop offset=".699" stop-color="#cbcbcb"/><stop offset=".703" stop-color="#ebebeb"/><stop offset=".706" stop-color="#f3f3f3"/><stop offset=".708" stop-color="#f3f3f3"/><stop offset=".710" stop-color="#ececec"/><stop offset=".715" stop-color="#cccccc"/><stop offset=".727" stop-color="#595959"/><stop offset=".731" stop-color="#383838"/><stop offset=".738" stop-color="#1c1c1c"/><stop offset=".750" stop-color="#0f0f0f"/><stop offset=".769" stop-color="#121212"/><stop offset=".778" stop-color="#262626"/><stop offset=".792" stop-color="#646464"/><stop offset=".797" stop-color="#6c6c6c"/><stop offset=".801" stop-color="#646464"/><stop offset=".815" stop-color="#212121"/><stop offset=".822" stop-color="#0f0f0f"/><stop offset=".839" stop-color="#060606"/><stop offset=".958" stop-color="#060606"/><stop offset=".972" stop-color="#090909"/><stop offset="1.000" stop-color="#050505"/></linearGradient><linearGradient id="dl3_11" gradientUnits="userSpaceOnUse" x1="84" x2="298" y1="0" y2="0"><stop offset=".000" stop-color="#161616"/><stop offset=".044" stop-color="#191919"/><stop offset=".049" stop-color="#222222"/><stop offset=".056" stop-color="#191919"/><stop offset=".093" stop-color="#1f1f1f"/><stop offset=".105" stop-color="#2b2b2b"/><stop offset=".112" stop-color="#3f3f3f"/><stop offset=".117" stop-color="#5a5a5a"/><stop offset=".121" stop-color="#878787"/><stop offset=".129" stop-color="#e6e6e6"/><stop offset=".131" stop-color="#f1f1f1"/><stop offset=".133" stop-color="#e5e5e5"/><stop offset=".140" stop-color="#868686"/><stop offset=".145" stop-color="#575757"/><stop offset=".150" stop-color="#3c3c3c"/><stop offset=".157" stop-color="#272727"/><stop offset=".171" stop-color="#171717"/><stop offset=".185" stop-color="#161616"/><stop offset=".189" stop-color="#202020"/><stop offset=".192" stop-color="#2f2f2f"/><stop offset=".196" stop-color="#1a1a1a"/><stop offset=".208" stop-color="#121212"/><stop offset=".236" stop-color="#141414"/><stop offset=".241" stop-color="#1c1c1c"/><stop offset=".248" stop-color="#121212"/><stop offset=".332" stop-color="#0e0e0e"/><stop offset=".348" stop-color="#080808"/><stop offset=".379" stop-color="#0d0d0d"/><stop offset=".383" stop-color="#222222"/><stop offset=".388" stop-color="#0e0e0e"/><stop offset=".409" stop-color="#0b0b0b"/><stop offset=".414" stop-color="#101010"/><stop offset=".416" stop-color="#1d1d1d"/><stop offset=".418" stop-color="#212121"/><stop offset=".421" stop-color="#121212"/><stop offset=".428" stop-color="#0a0a0a"/><stop offset=".465" stop-color="#0c0c0c"/><stop offset=".470" stop-color="#161616"/><stop offset=".477" stop-color="#0b0b0b"/><stop offset=".505" stop-color="#0f0f0f"/><stop offset=".509" stop-color="#151515"/><stop offset=".514" stop-color="#282828"/><stop offset=".519" stop-color="#363636"/><stop offset=".523" stop-color="#595959"/><stop offset=".530" stop-color="#989898"/><stop offset=".533" stop-color="#a6a6a6"/><stop offset=".535" stop-color="#adadad"/><stop offset=".537" stop-color="#aaaaaa"/><stop offset=".542" stop-color="#909090"/><stop offset=".549" stop-color="#585858"/><stop offset=".551" stop-color="#4d4d4d"/><stop offset=".554" stop-color="#494949"/><stop offset=".556" stop-color="#4e4e4e"/><stop offset=".561" stop-color="#6c6c6c"/><stop offset=".568" stop-color="#a8a8a8"/><stop offset=".570" stop-color="#b2b2b2"/><stop offset=".572" stop-color="#b2b2b2"/><stop offset=".575" stop-color="#a9a9a9"/><stop offset=".579" stop-color="#818181"/><stop offset=".586" stop-color="#3d3d3d"/><stop offset=".591" stop-color="#212121"/><stop offset=".598" stop-color="#111111"/><stop offset=".643" stop-color="#0c0c0c"/><stop offset=".668" stop-color="#121212"/><stop offset=".675" stop-color="#1d1d1d"/><stop offset=".682" stop-color="#3b3b3b"/><stop offset=".689" stop-color="#737373"/><stop offset=".699" stop-color="#d0d0d0"/><stop offset=".703" stop-color="#eeeeee"/><stop offset=".706" stop-color="#f4f4f4"/><stop offset=".708" stop-color="#f2f2f2"/><stop offset=".710" stop-color="#e9e9e9"/><stop offset=".715" stop-color="#c7c7c7"/><stop offset=".727" stop-color="#545454"/><stop offset=".731" stop-color="#343434"/><stop offset=".738" stop-color="#1b1b1b"/><stop offset=".750" stop-color="#0f0f0f"/><stop offset=".769" stop-color="#121212"/><stop offset=".778" stop-color="#242424"/><stop offset=".792" stop-color="#5d5d5d"/><stop offset=".797" stop-color="#646464"/><stop offset=".801" stop-color="#5d5d5d"/><stop offset=".818" stop-color="#181818"/><stop offset=".827" stop-color="#0a0a0a"/><stop offset=".946" stop-color="#040404"/><stop offset=".972" stop-color="#090909"/><stop offset="1.000" stop-color="#050505"/></linearGradient><linearGradient id="dl3_12" gradientUnits="userSpaceOnUse" x1="84" x2="298" y1="0" y2="0"><stop offset=".000" stop-color="#161616"/><stop offset=".044" stop-color="#191919"/><stop offset=".049" stop-color="#222222"/><stop offset=".056" stop-color="#191919"/><stop offset=".096" stop-color="#1e1e1e"/><stop offset=".107" stop-color="#2b2b2b"/><stop offset=".114" stop-color="#414141"/><stop offset=".119" stop-color="#5f5f5f"/><stop offset=".124" stop-color="#909090"/><stop offset=".129" stop-color="#c8c8c8"/><stop offset=".131" stop-color="#d3d3d3"/><stop offset=".133" stop-color="#c8c8c8"/><stop offset=".140" stop-color="#737373"/><stop offset=".145" stop-color="#4c4c4c"/><stop offset=".152" stop-color="#2d2d2d"/><stop offset=".164" stop-color="#1b1b1b"/><stop offset=".182" stop-color="#141414"/><stop offset=".187" stop-color="#181818"/><stop offset=".189" stop-color="#202020"/><stop offset=".192" stop-color="#303030"/><stop offset=".196" stop-color="#1a1a1a"/><stop offset=".206" stop-color="#121212"/><stop offset=".236" stop-color="#141414"/><stop offset=".241" stop-color="#1c1c1c"/><stop offset=".248" stop-color="#121212"/><stop offset=".332" stop-color="#0e0e0e"/><stop offset=".348" stop-color="#080808"/><stop offset=".379" stop-color="#0d0d0d"/><stop offset=".383" stop-color="#222222"/><stop offset=".388" stop-color="#0e0e0e"/><stop offset=".409" stop-color="#0b0b0b"/><stop offset=".414" stop-color="#101010"/><stop offset=".416" stop-color="#1d1d1d"/><stop offset=".418" stop-color="#212121"/><stop offset=".421" stop-color="#121212"/><stop offset=".428" stop-color="#0a0a0a"/><stop offset=".465" stop-color="#0c0c0c"/><stop offset=".470" stop-color="#161616"/><stop offset=".477" stop-color="#0b0b0b"/><stop offset=".507" stop-color="#111111"/><stop offset=".512" stop-color="#1c1c1c"/><stop offset=".514" stop-color="#272727"/><stop offset=".519" stop-color="#343434"/><stop offset=".523" stop-color="#565656"/><stop offset=".530" stop-color="#929292"/><stop offset=".533" stop-color="#a0a0a0"/><stop offset=".535" stop-color="#a6a6a6"/><stop offset=".537" stop-color="#a4a4a4"/><stop offset=".542" stop-color="#8a8a8a"/><stop offset=".549" stop-color="#555555"/><stop offset=".551" stop-color="#4b4b4b"/><stop offset=".554" stop-color="#484848"/><stop offset=".556" stop-color="#4d4d4d"/><stop offset=".561" stop-color="#6b6b6b"/><stop offset=".568" stop-color="#a8a8a8"/><stop offset=".570" stop-color="#b2b2b2"/><stop offset=".572" stop-color="#b2b2b2"/><stop offset=".575" stop-color="#a9a9a9"/><stop offset=".579" stop-color="#818181"/><stop offset=".586" stop-color="#3d3d3d"/><stop offset=".591" stop-color="#212121"/><stop offset=".598" stop-color="#111111"/><stop offset=".643" stop-color="#0c0c0c"/><stop offset=".668" stop-color="#121212"/><stop offset=".675" stop-color="#1f1f1f"/><stop offset=".682" stop-color="#3f3f3f"/><stop offset=".689" stop-color="#797979"/><stop offset=".699" stop-color="#d6d6d6"/><stop offset=".703" stop-color="#f0f0f0"/><stop offset=".706" stop-color="#f4f4f4"/><stop offset=".708" stop-color="#f0f0f0"/><stop offset=".713" stop-color="#d5d5d5"/><stop offset=".724" stop-color="#626262"/><stop offset=".729" stop-color="#3e3e3e"/><stop offset=".736" stop-color="#1f1f1f"/><stop offset=".745" stop-color="#111111"/><stop offset=".766" stop-color="#101010"/><stop offset=".776" stop-color="#1d1d1d"/><stop offset=".792" stop-color="#565656"/><stop offset=".797" stop-color="#5c5c5c"/><stop offset=".804" stop-color="#4e4e4e"/><stop offset=".818" stop-color="#171717"/><stop offset=".829" stop-color="#080808"/><stop offset=".958" stop-color="#060606"/><stop offset=".972" stop-color="#090909"/><stop offset="1.000" stop-color="#050505"/></linearGradient><linearGradient id="dl3_13" gradientUnits="userSpaceOnUse" x1="84" x2="298" y1="0" y2="0"><stop offset=".000" stop-color="#161616"/><stop offset=".044" stop-color="#191919"/><stop offset=".049" stop-color="#222222"/><stop offset=".056" stop-color="#191919"/><stop offset=".098" stop-color="#1e1e1e"/><stop offset=".110" stop-color="#2c2c2c"/><stop offset=".117" stop-color="#444444"/><stop offset=".121" stop-color="#656565"/><stop offset=".129" stop-color="#adadad"/><stop offset=".131" stop-color="#b6b6b6"/><stop offset=".133" stop-color="#acacac"/><stop offset=".140" stop-color="#636363"/><stop offset=".145" stop-color="#424242"/><stop offset=".152" stop-color="#292929"/><stop offset=".166" stop-color="#181818"/><stop offset=".185" stop-color="#151515"/><stop offset=".189" stop-color="#212121"/><stop offset=".192" stop-color="#313131"/><stop offset=".196" stop-color="#1a1a1a"/><stop offset=".206" stop-color="#121212"/><stop offset=".236" stop-color="#141414"/><stop offset=".241" stop-color="#1c1c1c"/><stop offset=".248" stop-color="#121212"/><stop offset=".332" stop-color="#0e0e0e"/><stop offset=".348" stop-color="#080808"/><stop offset=".379" stop-color="#0d0d0d"/><stop offset=".383" stop-color="#222222"/><stop offset=".388" stop-color="#0d0d0d"/><stop offset=".409" stop-color="#0b0b0b"/><stop offset=".414" stop-color="#101010"/><stop offset=".416" stop-color="#1d1d1d"/><stop offset=".418" stop-color="#212121"/><stop offset=".421" stop-color="#121212"/><stop offset=".428" stop-color="#0a0a0a"/><stop offset=".465" stop-color="#0c0c0c"/><stop offset=".470" stop-color="#161616"/><stop offset=".477" stop-color="#0b0b0b"/><stop offset=".507" stop-color="#101010"/><stop offset=".512" stop-color="#1c1c1c"/><stop offset=".514" stop-color="#262626"/><stop offset=".519" stop-color="#323232"/><stop offset=".523" stop-color="#525252"/><stop offset=".530" stop-color="#8c8c8c"/><stop offset=".533" stop-color="#999999"/><stop offset=".535" stop-color="#9f9f9f"/><stop offset=".537" stop-color="#9d9d9d"/><stop offset=".542" stop-color="#858585"/><stop offset=".549" stop-color="#525252"/><stop offset=".551" stop-color="#494949"/><stop offset=".554" stop-color="#474747"/><stop offset=".556" stop-color="#4c4c4c"/><stop offset=".561" stop-color="#6b6b6b"/><stop offset=".568" stop-color="#a7a7a7"/><stop offset=".570" stop-color="#b1b1b1"/><stop offset=".572" stop-color="#b2b2b2"/><stop offset=".575" stop-color="#a9a9a9"/><stop offset=".579" stop-color="#818181"/><stop offset=".586" stop-color="#3d3d3d"/><stop offset=".591" stop-color="#212121"/><stop offset=".598" stop-color="#111111"/><stop offset=".643" stop-color="#0c0c0c"/><stop offset=".668" stop-color="#131313"/><stop offset=".675" stop-color="#212121"/><stop offset=".682" stop-color="#434343"/><stop offset=".689" stop-color="#808080"/><stop offset=".696" stop-color="#c7c7c7"/><stop offset=".701" stop-color="#e9e9e9"/><stop offset=".703" stop-color="#f2f2f2"/><stop offset=".706" stop-color="#f3f3f3"/><stop offset=".708" stop-color="#eeeeee"/><stop offset=".713" stop-color="#d0d0d0"/><stop offset=".724" stop-color="#5d5d5d"/><stop offset=".729" stop-color="#3a3a3a"/><stop offset=".736" stop-color="#1d1d1d"/><stop offset=".745" stop-color="#101010"/><stop offset=".769" stop-color="#111111"/><stop offset=".778" stop-color="#1f1f1f"/><stop offset=".792" stop-color="#484848"/><stop offset=".799" stop-color="#4c4c4c"/><stop offset=".806" stop-color="#3b3b3b"/><stop offset=".818" stop-color="#141414"/><stop offset=".829" stop-color="#080808"/><stop offset=".958" stop-color="#060606"/><stop offset=".972" stop-color="#090909"/><stop offset="1.000" stop-color="#050505"/></linearGradient><linearGradient id="dl3_14" gradientUnits="userSpaceOnUse" x1="84" x2="298" y1="0" y2="0"><stop offset=".000" stop-color="#161616"/><stop offset=".044" stop-color="#191919"/><stop offset=".049" stop-color="#222222"/><stop offset=".056" stop-color="#191919"/><stop offset=".100" stop-color="#1e1e1e"/><stop offset=".112" stop-color="#2d2d2d"/><stop offset=".119" stop-color="#494949"/><stop offset=".124" stop-color="#6d6d6d"/><stop offset=".129" stop-color="#979797"/><stop offset=".131" stop-color="#a0a0a0"/><stop offset=".133" stop-color="#979797"/><stop offset=".140" stop-color="#575757"/><stop offset=".145" stop-color="#3a3a3a"/><stop offset=".152" stop-color="#252525"/><stop offset=".168" stop-color="#161616"/><stop offset=".185" stop-color="#151515"/><stop offset=".189" stop-color="#212121"/><stop offset=".192" stop-color="#333333"/><stop offset=".196" stop-color="#1b1b1b"/><stop offset=".206" stop-color="#121212"/><stop offset=".236" stop-color="#141414"/><stop offset=".241" stop-color="#1c1c1c"/><stop offset=".248" stop-color="#121212"/><stop offset=".332" stop-color="#0e0e0e"/><stop offset=".348" stop-color="#080808"/><stop offset=".379" stop-color="#0d0d0d"/><stop offset=".383" stop-color="#222222"/><stop offset=".388" stop-color="#0d0d0d"/><stop offset=".409" stop-color="#0b0b0b"/><stop offset=".414" stop-color="#101010"/><stop offset=".416" stop-color="#1d1d1d"/><stop offset=".418" stop-color="#212121"/><stop offset=".421" stop-color="#121212"/><stop offset=".428" stop-color="#0a0a0a"/><stop offset=".465" stop-color="#0c0c0c"/><stop offset=".470" stop-color="#161616"/><stop offset=".477" stop-color="#0b0b0b"/><stop offset=".507" stop-color="#101010"/><stop offset=".512" stop-color="#1b1b1b"/><stop offset=".514" stop-color="#262626"/><stop offset=".519" stop-color="#313131"/><stop offset=".523" stop-color="#4f4f4f"/><stop offset=".530" stop-color="#868686"/><stop offset=".533" stop-color="#929292"/><stop offset=".535" stop-color="#989898"/><stop offset=".537" stop-color="#969696"/><stop offset=".542" stop-color="#7f7f7f"/><stop offset=".549" stop-color="#4f4f4f"/><stop offset=".551" stop-color="#474747"/><stop offset=".554" stop-color="#454545"/><stop offset=".556" stop-color="#4b4b4b"/><stop offset=".561" stop-color="#6b6b6b"/><stop offset=".568" stop-color="#a7a7a7"/><stop offset=".570" stop-color="#b1b1b1"/><stop offset=".572" stop-color="#b2b2b2"/><stop offset=".575" stop-color="#a9a9a9"/><stop offset=".579" stop-color="#818181"/><stop offset=".586" stop-color="#3d3d3d"/><stop offset=".591" stop-color="#212121"/><stop offset=".598" stop-color="#111111"/><stop offset=".643" stop-color="#0c0c0c"/><stop offset=".668" stop-color="#141414"/><stop offset=".675" stop-color="#232323"/><stop offset=".682" stop-color="#474747"/><stop offset=".689" stop-color="#868686"/><stop offset=".696" stop-color="#cdcdcd"/><stop offset=".701" stop-color="#ececec"/><stop offset=".703" stop-color="#f3f3f3"/><stop offset=".706" stop-color="#f2f2f2"/><stop offset=".708" stop-color="#ebebeb"/><stop offset=".713" stop-color="#cacaca"/><stop offset=".724" stop-color="#575757"/><stop offset=".729" stop-color="#363636"/><stop offset=".736" stop-color="#1b1b1b"/><stop offset=".748" stop-color="#0e0e0e"/><stop offset=".771" stop-color="#111111"/><stop offset=".783" stop-color="#252525"/><stop offset=".794" stop-color="#3c3c3c"/><stop offset=".801" stop-color="#3a3a3a"/><stop offset=".820" stop-color="#0e0e0e"/><stop offset=".841" stop-color="#050505"/><stop offset=".958" stop-color="#060606"/><stop offset=".972" stop-color="#090909"/><stop offset="1.000" stop-color="#050505"/></linearGradient><linearGradient id="dl3_15" gradientUnits="userSpaceOnUse" x1="84" x2="298" y1="0" y2="0"><stop offset=".000" stop-color="#161616"/><stop offset=".044" stop-color="#191919"/><stop offset=".049" stop-color="#222222"/><stop offset=".056" stop-color="#191919"/><stop offset=".103" stop-color="#1f1f1f"/><stop offset=".112" stop-color="#2c2c2c"/><stop offset=".119" stop-color="#454545"/><stop offset=".124" stop-color="#676767"/><stop offset=".129" stop-color="#909090"/><stop offset=".131" stop-color="#989898"/><stop offset=".133" stop-color="#909090"/><stop offset=".140" stop-color="#535353"/><stop offset=".145" stop-color="#383838"/><stop offset=".152" stop-color="#242424"/><stop offset=".168" stop-color="#151515"/><stop offset=".185" stop-color="#151515"/><stop offset=".189" stop-color="#222222"/><stop offset=".192" stop-color="#343434"/><stop offset=".196" stop-color="#1b1b1b"/><stop offset=".206" stop-color="#121212"/><stop offset=".236" stop-color="#141414"/><stop offset=".241" stop-color="#1c1c1c"/><stop offset=".248" stop-color="#121212"/><stop offset=".332" stop-color="#0e0e0e"/><stop offset=".348" stop-color="#080808"/><stop offset=".379" stop-color="#0d0d0d"/><stop offset=".383" stop-color="#222222"/><stop offset=".388" stop-color="#0d0d0d"/><stop offset=".409" stop-color="#0b0b0b"/><stop offset=".414" stop-color="#101010"/><stop offset=".416" stop-color="#1d1d1d"/><stop offset=".418" stop-color="#212121"/><stop offset=".421" stop-color="#121212"/><stop offset=".428" stop-color="#0a0a0a"/><stop offset=".465" stop-color="#0b0b0b"/><stop offset=".470" stop-color="#161616"/><stop offset=".477" stop-color="#0b0b0b"/><stop offset=".507" stop-color="#101010"/><stop offset=".512" stop-color="#1b1b1b"/><stop offset=".514" stop-color="#252525"/><stop offset=".519" stop-color="#2f2f2f"/><stop offset=".523" stop-color="#4d4d4d"/><stop offset=".530" stop-color="#828282"/><stop offset=".533" stop-color="#8d8d8d"/><stop offset=".535" stop-color="#939393"/><stop offset=".537" stop-color="#919191"/><stop offset=".542" stop-color="#7b7b7b"/><stop offset=".549" stop-color="#4d4d4d"/><stop offset=".551" stop-color="#454545"/><stop offset=".554" stop-color="#444444"/><stop offset=".556" stop-color="#4a4a4a"/><stop offset=".561" stop-color="#6a6a6a"/><stop offset=".568" stop-color="#a7a7a7"/><stop offset=".570" stop-color="#b1b1b1"/><stop offset=".572" stop-color="#b2b2b2"/><stop offset=".575" stop-color="#a9a9a9"/><stop offset=".579" stop-color="#818181"/><stop offset=".586" stop-color="#3d3d3d"/><stop offset=".591" stop-color="#212121"/><stop offset=".598" stop-color="#111111"/><stop offset=".643" stop-color="#0c0c0c"/><stop offset=".666" stop-color="#121212"/><stop offset=".673" stop-color="#1d1d1d"/><stop offset=".680" stop-color="#3b3b3b"/><stop offset=".687" stop-color="#747474"/><stop offset=".696" stop-color="#d1d1d1"/><stop offset=".701" stop-color="#eeeeee"/><stop offset=".703" stop-color="#f3f3f3"/><stop offset=".706" stop-color="#f1f1f1"/><stop offset=".708" stop-color="#e8e8e8"/><stop offset=".713" stop-color="#c5c5c5"/><stop offset=".724" stop-color="#535353"/><stop offset=".729" stop-color="#343434"/><stop offset=".736" stop-color="#1a1a1a"/><stop offset=".748" stop-color="#0e0e0e"/><stop offset=".771" stop-color="#101010"/><stop offset=".787" stop-color="#2a2a2a"/><stop offset=".797" stop-color="#343434"/><stop offset=".806" stop-color="#292929"/><stop offset=".820" stop-color="#0d0d0d"/><stop offset=".843" stop-color="#050505"/><stop offset=".958" stop-color="#060606"/><stop offset=".972" stop-color="#090909"/><stop offset="1.000" stop-color="#050505"/></linearGradient></defs>
<rect x="84" y="296" width="214" height="12" fill="url(#dl3_0)"/><rect x="84" y="308" width="214" height="6" fill="url(#dl3_1)"/><rect x="84" y="314" width="214" height="6" fill="url(#dl3_2)"/><rect x="84" y="320" width="214" height="6" fill="url(#dl3_3)"/><rect x="84" y="326" width="214" height="6" fill="url(#dl3_4)"/><rect x="84" y="332" width="214" height="6" fill="url(#dl3_5)"/><rect x="84" y="338" width="214" height="3" fill="url(#dl3_6)"/><rect x="84" y="341" width="214" height="3" fill="url(#dl3_7)"/><rect x="84" y="344" width="214" height="3" fill="url(#dl3_8)"/><rect x="84" y="347" width="214" height="3" fill="url(#dl3_9)"/><rect x="84" y="350" width="214" height="3" fill="url(#dl3_10)"/><rect x="84" y="353" width="214" height="3" fill="url(#dl3_11)"/><rect x="84" y="356" width="214" height="3" fill="url(#dl3_12)"/><rect x="84" y="359" width="214" height="3" fill="url(#dl3_13)"/><rect x="84" y="362" width="214" height="3" fill="url(#dl3_14)"/><rect x="84" y="365" width="214" height="9" fill="url(#dl3_15)"/>
</g></g>
<rect x="86" y="232.2" width="209.8" height="63.900000000000034" fill="none" stroke="#111" stroke-width="1.2"/>
<rect x="86" y="302.4" width="209.8" height="63.900000000000034" fill="none" stroke="#111" stroke-width="1.2"/>
<path d="M104.5,296.1 L104.5,235.2 L121.6,235.2 L121.6,296.1 M104.5,302.4 L104.5,354.3 L121.6,354.3 L121.6,302.4" fill="none" stroke="#fff" stroke-width="1.3" stroke-dasharray="3 2"/>
<line x1="104.5" y1="296.1" x2="104.5" y2="302.4" stroke="#fff" stroke-width="1.3"/>
<line x1="121.6" y1="296.1" x2="121.6" y2="302.4" stroke="#fff" stroke-width="1.3"/>
<line x1="123.2" y1="257.2" x2="143" y2="257.2" stroke="#fff" stroke-width="1.4"/>
<path d="M148.5,257.2 L141.5,254.2 L141.5,260.2 Z" fill="#fff"/>
<text x="98.5" y="261.5" font-size="10.5" text-anchor="middle" fill="#f4f8ff" transform="rotate(-90 98.5 261.5)" textLength="26" lengthAdjust="spacingAndGlyphs" stroke="#f4f8ff" stroke-width="0.2">(003)<tspan baseline-shift="-2" font-size="6.5">L</tspan></text>
<text x="190.3" y="246" font-size="10.5" text-anchor="middle" fill="#f4f8ff" transform="rotate(-90 190.3 246)" textLength="25.4" lengthAdjust="spacingAndGlyphs" stroke="#f4f8ff" stroke-width="0.2">(101)<tspan baseline-shift="-2" font-size="6.5">L</tspan></text>
<text x="221" y="249.5" font-size="10.5" text-anchor="middle" fill="#f4f8ff" transform="rotate(-90 221 249.5)" textLength="27" lengthAdjust="spacingAndGlyphs" stroke="#f4f8ff" stroke-width="0.2">(111)<tspan baseline-shift="-2" font-size="6.5">RS</tspan></text>
<text x="221" y="280.2" font-size="10.5" text-anchor="middle" fill="#f4f8ff" transform="rotate(-90 221 280.2)" textLength="23.7" lengthAdjust="spacingAndGlyphs" stroke="#f4f8ff" stroke-width="0.2">(10-2)<tspan baseline-shift="-2" font-size="6.5">L</tspan></text>
<text x="249" y="249.5" font-size="10.5" text-anchor="middle" fill="#f4f8ff" transform="rotate(-90 249 249.5)" textLength="27" lengthAdjust="spacingAndGlyphs" stroke="#f4f8ff" stroke-width="0.2">(200)<tspan baseline-shift="-2" font-size="6.5">RS</tspan></text>
<text x="249" y="280.2" font-size="10.5" text-anchor="middle" fill="#f4f8ff" transform="rotate(-90 249 280.2)" textLength="23.7" lengthAdjust="spacingAndGlyphs" stroke="#f4f8ff" stroke-width="0.2">(104)<tspan baseline-shift="-2" font-size="6.5">L</tspan></text>
<text x="270" y="271" font-size="10.5" text-anchor="middle" fill="#f4f8ff" transform="rotate(-90 270 271)" textLength="28" lengthAdjust="spacingAndGlyphs" stroke="#f4f8ff" stroke-width="0.2">(10-5)<tspan baseline-shift="-2" font-size="6.5">L</tspan></text>
<text x="136.4" y="282.7" font-size="10.5" text-anchor="start" fill="#f4f8ff" textLength="26.7" lengthAdjust="spacingAndGlyphs" stroke="#f4f8ff" stroke-width="0.2">Li<tspan baseline-shift="-2.5" font-size="7">2</tspan>CO<tspan baseline-shift="-2.5" font-size="7">3</tspan></text>
<text x="167" y="265.7" font-size="11" text-anchor="middle" fill="#f4f8ff" textLength="5.2" lengthAdjust="spacingAndGlyphs" stroke="#f4f8ff" stroke-width="0.2">#</text>
<text x="174" y="265.7" font-size="11" text-anchor="middle" fill="#f4f8ff" textLength="5.2" lengthAdjust="spacingAndGlyphs" stroke="#f4f8ff" stroke-width="0.2">#</text>
<text x="184.4" y="277" font-size="11" text-anchor="middle" fill="#f4f8ff" textLength="5.2" lengthAdjust="spacingAndGlyphs" stroke="#f4f8ff" stroke-width="0.2">#</text>
<text x="167.3" y="323.6" font-size="11" text-anchor="middle" fill="#f4f8ff" textLength="5.2" lengthAdjust="spacingAndGlyphs" stroke="#f4f8ff" stroke-width="0.2">#</text>
<text x="174.6" y="334.6" font-size="11" text-anchor="middle" fill="#f4f8ff" textLength="5.2" lengthAdjust="spacingAndGlyphs" stroke="#f4f8ff" stroke-width="0.2">#</text>
<text x="185.8" y="341.8" font-size="11" text-anchor="middle" fill="#f4f8ff" textLength="5.2" lengthAdjust="spacingAndGlyphs" stroke="#f4f8ff" stroke-width="0.2">#</text>
<text x="293.3" y="244.2" font-size="11" text-anchor="end" font-weight="bold" fill="#fff" textLength="31.5" lengthAdjust="spacingAndGlyphs">650 °C</text>
<text x="292.4" y="313.9" font-size="11" text-anchor="end" font-weight="bold" fill="#fff" textLength="31.5" lengthAdjust="spacingAndGlyphs">600 °C</text>
<line x1="81.9" y1="244.7" x2="86" y2="244.7" stroke="#111" stroke-width="1.1"/>
<text x="78.5" y="248.89999999999998" font-size="12" text-anchor="end" fill="#000">4</text>
<line x1="81.9" y1="270.2" x2="86" y2="270.2" stroke="#111" stroke-width="1.1"/>
<text x="78.5" y="274.4" font-size="12" text-anchor="end" fill="#000">2</text>
<line x1="81.9" y1="295.7" x2="86" y2="295.7" stroke="#111" stroke-width="1.1"/>
<text x="78.5" y="299.9" font-size="12" text-anchor="end" fill="#000">0</text>
<line x1="83.9" y1="257.45" x2="86" y2="257.45" stroke="#111" stroke-width="1.1"/>
<line x1="83.9" y1="282.95" x2="86" y2="282.95" stroke="#111" stroke-width="1.1"/>
<line x1="81.9" y1="312.3" x2="86" y2="312.3" stroke="#111" stroke-width="1.1"/>
<text x="78.5" y="316.5" font-size="12" text-anchor="end" fill="#000">10</text>
<line x1="81.9" y1="339.3" x2="86" y2="339.3" stroke="#111" stroke-width="1.1"/>
<text x="78.5" y="343.5" font-size="12" text-anchor="end" fill="#000">5</text>
<line x1="81.9" y1="366.3" x2="86" y2="366.3" stroke="#111" stroke-width="1.1"/>
<text x="78.5" y="370.5" font-size="12" text-anchor="end" fill="#000">0</text>
<line x1="83.9" y1="325.8" x2="86" y2="325.8" stroke="#111" stroke-width="1.1"/>
<line x1="83.9" y1="352.8" x2="86" y2="352.8" stroke="#111" stroke-width="1.1"/>
<line x1="89.6" y1="366.3" x2="89.6" y2="370.5" stroke="#111" stroke-width="1.1"/>
<text x="89.6" y="382.4" font-size="12" text-anchor="middle" fill="#000">1.0</text>
<line x1="89.6" y1="296.1" x2="89.6" y2="299.6" stroke="#111" stroke-width="1.0"/>
<line x1="125.1" y1="366.3" x2="125.1" y2="370.5" stroke="#111" stroke-width="1.1"/>
<text x="125.1" y="382.4" font-size="12" text-anchor="middle" fill="#000">1.5</text>
<line x1="125.1" y1="296.1" x2="125.1" y2="299.6" stroke="#111" stroke-width="1.0"/>
<line x1="160.6" y1="366.3" x2="160.6" y2="370.5" stroke="#111" stroke-width="1.1"/>
<text x="160.6" y="382.4" font-size="12" text-anchor="middle" fill="#000">2.0</text>
<line x1="160.6" y1="296.1" x2="160.6" y2="299.6" stroke="#111" stroke-width="1.0"/>
<line x1="196.1" y1="366.3" x2="196.1" y2="370.5" stroke="#111" stroke-width="1.1"/>
<text x="196.1" y="382.4" font-size="12" text-anchor="middle" fill="#000">2.5</text>
<line x1="196.1" y1="296.1" x2="196.1" y2="299.6" stroke="#111" stroke-width="1.0"/>
<line x1="231.6" y1="366.3" x2="231.6" y2="370.5" stroke="#111" stroke-width="1.1"/>
<text x="231.6" y="382.4" font-size="12" text-anchor="middle" fill="#000">3.0</text>
<line x1="231.6" y1="296.1" x2="231.6" y2="299.6" stroke="#111" stroke-width="1.0"/>
<line x1="267.1" y1="366.3" x2="267.1" y2="370.5" stroke="#111" stroke-width="1.1"/>
<text x="267.1" y="382.4" font-size="12" text-anchor="middle" fill="#000">3.5</text>
<line x1="267.1" y1="296.1" x2="267.1" y2="299.6" stroke="#111" stroke-width="1.0"/>
<line x1="107.35" y1="366.3" x2="107.35" y2="368.5" stroke="#111" stroke-width="1.1"/>
<line x1="107.35" y1="296.1" x2="107.35" y2="298.1" stroke="#111" stroke-width="1.0"/>
<line x1="142.85" y1="366.3" x2="142.85" y2="368.5" stroke="#111" stroke-width="1.1"/>
<line x1="142.85" y1="296.1" x2="142.85" y2="298.1" stroke="#111" stroke-width="1.0"/>
<line x1="178.35" y1="366.3" x2="178.35" y2="368.5" stroke="#111" stroke-width="1.1"/>
<line x1="178.35" y1="296.1" x2="178.35" y2="298.1" stroke="#111" stroke-width="1.0"/>
<line x1="213.85" y1="366.3" x2="213.85" y2="368.5" stroke="#111" stroke-width="1.1"/>
<line x1="213.85" y1="296.1" x2="213.85" y2="298.1" stroke="#111" stroke-width="1.0"/>
<line x1="249.35" y1="366.3" x2="249.35" y2="368.5" stroke="#111" stroke-width="1.1"/>
<line x1="249.35" y1="296.1" x2="249.35" y2="298.1" stroke="#111" stroke-width="1.0"/>
<line x1="284.85" y1="366.3" x2="284.85" y2="368.5" stroke="#111" stroke-width="1.1"/>
<line x1="284.85" y1="296.1" x2="284.85" y2="298.1" stroke="#111" stroke-width="1.0"/>
<text x="64.4" y="297" font-size="11.5" text-anchor="middle" fill="#000" transform="rotate(-90 64.4 297)" textLength="58.5" lengthAdjust="spacingAndGlyphs">Time (hour)</text>
<text x="203.6" y="396.7" font-size="11.5" text-anchor="middle" fill="#000"><tspan font-style="italic">q</tspan> (Å<tspan baseline-shift="4" font-size="7.5">-1</tspan>)</text>
<rect x="85.5" y="203.1" width="211" height="10.6" fill="#fdf0d4" stroke="none" stroke-width="1"/>
<line x1="208.5" y1="203.1" x2="208.5" y2="213.7" stroke="#f07a50" stroke-width="1.1"/>
<line x1="237.1" y1="203.1" x2="237.1" y2="213.7" stroke="#f07a50" stroke-width="1.1"/>
<rect x="85.5" y="218" width="211" height="9.7" fill="#dfe9f3" stroke="none" stroke-width="1"/>
<line x1="114.6" y1="219.8" x2="114.6" y2="227" stroke="#555" stroke-width="0.9"/>
<line x1="200.4" y1="219.8" x2="200.4" y2="227" stroke="#555" stroke-width="0.9"/>
<line x1="206.3" y1="219.8" x2="206.3" y2="227" stroke="#555" stroke-width="0.9"/>
<line x1="208.5" y1="219.8" x2="208.5" y2="227" stroke="#555" stroke-width="0.9"/>
<line x1="236.5" y1="219.8" x2="236.5" y2="227" stroke="#555" stroke-width="0.9"/>
<line x1="255.8" y1="219.8" x2="255.8" y2="227" stroke="#555" stroke-width="0.9"/>
<text x="57" y="204.2" font-size="11.5" text-anchor="start" font-style="italic" fill="#c8641e" transform="rotate(8.5 57 204.2)" textLength="44" lengthAdjust="spacingAndGlyphs" stroke="#c8641e" stroke-width="0.35">Rocksalt:</text>
<text x="64.3" y="219.8" font-size="11.5" text-anchor="start" font-style="italic" fill="#000" transform="rotate(7 64.3 219.8)" textLength="21" lengthAdjust="spacingAndGlyphs" stroke="#000" stroke-width="0.25">LNO</text>
<text x="302.4" y="226.1" font-size="11.5" text-anchor="start" fill="#000" textLength="31" lengthAdjust="spacingAndGlyphs">(003)<tspan baseline-shift="-2.5" font-size="7.5">L</tspan></text>
<rect x="295.8" y="232.2" width="42.0" height="63.0" fill="#fff" stroke="none" stroke-width="1"/>
<path d="M296.3,294.18 L296.8,294.17 L297.3,294.17 L297.8,294.16 L298.3,294.15 L298.8,294.14 L299.3,294.14 L299.8,294.13 L300.3,294.11 L300.8,294.10 L301.3,294.09 L301.8,294.08 L302.3,294.06 L302.8,294.04 L303.3,294.02 L303.8,294.00 L304.3,293.98 L304.8,293.95 L305.3,293.92 L305.8,293.88 L306.3,293.84 L306.8,293.79 L307.3,293.74 L307.8,293.67 L308.3,293.60 L308.8,293.51 L309.3,293.40 L309.8,293.27 L310.3,293.11 L310.8,292.91 L311.3,292.66 L311.8,292.33 L312.3,291.91 L312.8,291.34 L313.3,290.56 L313.8,289.47 L314.3,287.94 L314.8,285.80 L315.3,282.95 L315.8,279.76 L316.3,277.53 L316.8,277.81 L317.3,280.38 L317.8,283.57 L318.3,286.29 L318.8,288.29 L319.3,289.72 L319.8,290.73 L320.3,291.47 L320.8,292.00 L321.3,292.41 L321.8,292.71 L322.3,292.96 L322.8,293.15 L323.3,293.30 L323.8,293.43 L324.3,293.53 L324.8,293.62 L325.3,293.69 L325.8,293.75 L326.3,293.80 L326.8,293.85 L327.3,293.89 L327.8,293.92 L328.3,293.95 L328.8,293.98 L329.3,294.01 L329.8,294.03 L330.3,294.05 L330.8,294.06 L331.3,294.08 L331.8,294.09 L332.3,294.11 L332.8,294.12 L333.3,294.13 L333.8,294.14 L334.3,294.15 L334.8,294.15 L335.3,294.16 L335.8,294.17 L336.3,294.18 L336.8,294.18 L337.3,294.19" fill="none" stroke="#2e7d32" stroke-width="1"/>
<path d="M296.3,294.13 L296.8,294.12 L297.3,294.11 L297.8,294.10 L298.3,294.09 L298.8,294.08 L299.3,294.06 L299.8,294.05 L300.3,294.03 L300.8,294.01 L301.3,294.00 L301.8,293.98 L302.3,293.95 L302.8,293.93 L303.3,293.90 L303.8,293.87 L304.3,293.83 L304.8,293.79 L305.3,293.75 L305.8,293.69 L306.3,293.64 L306.8,293.57 L307.3,293.49 L307.8,293.40 L308.3,293.29 L308.8,293.16 L309.3,293.00 L309.8,292.81 L310.3,292.58 L310.8,292.29 L311.3,291.92 L311.8,291.45 L312.3,290.84 L312.8,290.01 L313.3,288.89 L313.8,287.32 L314.3,285.10 L314.8,282.00 L315.3,277.88 L315.8,273.27 L316.3,270.04 L316.8,270.44 L317.3,274.16 L317.8,278.78 L318.3,282.70 L318.8,285.61 L319.3,287.67 L319.8,289.14 L320.3,290.20 L320.8,290.97 L321.3,291.56 L321.8,292.01 L322.3,292.35 L322.8,292.63 L323.3,292.85 L323.8,293.03 L324.3,293.18 L324.8,293.31 L325.3,293.41 L325.8,293.50 L326.3,293.58 L326.8,293.65 L327.3,293.71 L327.8,293.76 L328.3,293.80 L328.8,293.84 L329.3,293.87 L329.8,293.90 L330.3,293.93 L330.8,293.96 L331.3,293.98 L331.8,294.00 L332.3,294.02 L332.8,294.04 L333.3,294.05 L333.8,294.06 L334.3,294.08 L334.8,294.09 L335.3,294.10 L335.8,294.11 L336.3,294.12 L336.8,294.13 L337.3,294.14" fill="none" stroke="#66bb22" stroke-width="1"/>
<path d="M296.3,294.04 L296.8,294.03 L297.3,294.01 L297.8,294.00 L298.3,293.98 L298.8,293.96 L299.3,293.94 L299.8,293.92 L300.3,293.90 L300.8,293.87 L301.3,293.84 L301.8,293.81 L302.3,293.78 L302.8,293.74 L303.3,293.70 L303.8,293.65 L304.3,293.60 L304.8,293.54 L305.3,293.47 L305.8,293.39 L306.3,293.30 L306.8,293.20 L307.3,293.08 L307.8,292.94 L308.3,292.78 L308.8,292.58 L309.3,292.35 L309.8,292.06 L310.3,291.71 L310.8,291.28 L311.3,290.73 L311.8,290.02 L312.3,289.09 L312.8,287.85 L313.3,286.16 L313.8,283.80 L314.3,280.47 L314.8,275.80 L315.3,269.60 L315.8,262.66 L316.3,257.81 L316.8,258.42 L317.3,264.01 L317.8,270.95 L318.3,276.86 L318.8,281.23 L319.3,284.33 L319.8,286.54 L320.3,288.13 L320.8,289.30 L321.3,290.18 L321.8,290.85 L322.3,291.37 L322.8,291.79 L323.3,292.12 L323.8,292.40 L324.3,292.62 L324.8,292.81 L325.3,292.97 L325.8,293.10 L326.3,293.22 L326.8,293.32 L327.3,293.41 L327.8,293.48 L328.3,293.55 L328.8,293.61 L329.3,293.66 L329.8,293.71 L330.3,293.75 L330.8,293.78 L331.3,293.82 L331.8,293.85 L332.3,293.88 L332.8,293.90 L333.3,293.92 L333.8,293.95 L334.3,293.97 L334.8,293.98 L335.3,294.00 L335.8,294.02 L336.3,294.03 L336.8,294.04 L337.3,294.05" fill="none" stroke="#d4c000" stroke-width="1"/>
<path d="M296.3,293.98 L296.8,293.96 L297.3,293.94 L297.8,293.92 L298.3,293.90 L298.8,293.88 L299.3,293.85 L299.8,293.83 L300.3,293.80 L300.8,293.77 L301.3,293.73 L301.8,293.69 L302.3,293.65 L302.8,293.60 L303.3,293.55 L303.8,293.49 L304.3,293.42 L304.8,293.35 L305.3,293.26 L305.8,293.17 L306.3,293.06 L306.8,292.93 L307.3,292.78 L307.8,292.61 L308.3,292.40 L308.8,292.16 L309.3,291.87 L309.8,291.52 L310.3,291.08 L310.8,290.54 L311.3,289.86 L311.8,288.98 L312.3,287.82 L312.8,286.28 L313.3,284.18 L313.8,281.24 L314.3,277.10 L314.8,271.30 L315.3,263.60 L315.8,254.97 L316.3,248.93 L316.8,249.69 L317.3,256.64 L317.8,265.27 L318.3,272.61 L318.8,278.05 L319.3,281.91 L319.8,284.65 L320.3,286.63 L320.8,288.08 L321.3,289.17 L321.8,290.01 L322.3,290.66 L322.8,291.18 L323.3,291.59 L323.8,291.93 L324.3,292.21 L324.8,292.45 L325.3,292.65 L325.8,292.81 L326.3,292.96 L326.8,293.08 L327.3,293.19 L327.8,293.28 L328.3,293.36 L328.8,293.44 L329.3,293.50 L329.8,293.56 L330.3,293.61 L330.8,293.66 L331.3,293.70 L331.8,293.74 L332.3,293.77 L332.8,293.81 L333.3,293.83 L333.8,293.86 L334.3,293.88 L334.8,293.91 L335.3,293.93 L335.8,293.95 L336.3,293.96 L336.8,293.98 L337.3,293.99" fill="none" stroke="#ff9900" stroke-width="1"/>
<path d="M296.3,293.88 L296.8,293.86 L297.3,293.83 L297.8,293.81 L298.3,293.78 L298.8,293.75 L299.3,293.72 L299.8,293.68 L300.3,293.65 L300.8,293.60 L301.3,293.56 L301.8,293.51 L302.3,293.45 L302.8,293.39 L303.3,293.32 L303.8,293.24 L304.3,293.16 L304.8,293.06 L305.3,292.95 L305.8,292.82 L306.3,292.68 L306.8,292.51 L307.3,292.32 L307.8,292.09 L308.3,291.83 L308.8,291.51 L309.3,291.13 L309.8,290.67 L310.3,290.10 L310.8,289.40 L311.3,288.51 L311.8,287.36 L312.3,285.85 L312.8,283.84 L313.3,281.09 L313.8,277.27 L314.3,271.87 L314.8,264.30 L315.3,254.25 L315.8,243.00 L316.3,235.12 L316.8,236.11 L317.3,245.18 L317.8,256.44 L318.3,266.01 L318.8,273.10 L319.3,278.14 L319.8,281.72 L320.3,284.29 L320.8,286.19 L321.3,287.61 L321.8,288.70 L322.3,289.55 L322.8,290.23 L323.3,290.77 L323.8,291.21 L324.3,291.58 L324.8,291.88 L325.3,292.14 L325.8,292.36 L326.3,292.55 L326.8,292.71 L327.3,292.85 L327.8,292.97 L328.3,293.08 L328.8,293.18 L329.3,293.26 L329.8,293.34 L330.3,293.40 L330.8,293.46 L331.3,293.52 L331.8,293.57 L332.3,293.61 L332.8,293.65 L333.3,293.69 L333.8,293.73 L334.3,293.76 L334.8,293.79 L335.3,293.81 L335.8,293.84 L336.3,293.86 L336.8,293.88 L337.3,293.90" fill="none" stroke="#ff2020" stroke-width="1"/>
<rect x="295.8" y="232.2" width="42.0" height="63.0" fill="none" stroke="#111" stroke-width="1.2"/>
<rect x="295.8" y="302.6" width="42.0" height="63.0" fill="#fff" stroke="none" stroke-width="1"/>
<path d="M296.3,364.66 L296.8,364.65 L297.3,364.65 L297.8,364.65 L298.3,364.65 L298.8,364.64 L299.3,364.64 L299.8,364.64 L300.3,364.63 L300.8,364.63 L301.3,364.62 L301.8,364.62 L302.3,364.61 L302.8,364.60 L303.3,364.60 L303.8,364.59 L304.3,364.58 L304.8,364.57 L305.3,364.56 L305.8,364.54 L306.3,364.53 L306.8,364.51 L307.3,364.49 L307.8,364.47 L308.3,364.44 L308.8,364.41 L309.3,364.37 L309.8,364.32 L310.3,364.26 L310.8,364.19 L311.3,364.09 L311.8,363.97 L312.3,363.81 L312.8,363.60 L313.3,363.31 L313.8,362.91 L314.3,362.34 L314.8,361.55 L315.3,360.50 L315.8,359.31 L316.3,358.49 L316.8,358.59 L317.3,359.54 L317.8,360.72 L318.3,361.73 L318.8,362.47 L319.3,363.00 L319.8,363.38 L320.3,363.65 L320.8,363.85 L321.3,364.00 L321.8,364.11 L322.3,364.20 L322.8,364.27 L323.3,364.33 L323.8,364.38 L324.3,364.41 L324.8,364.45 L325.3,364.47 L325.8,364.50 L326.3,364.52 L326.8,364.53 L327.3,364.55 L327.8,364.56 L328.3,364.57 L328.8,364.58 L329.3,364.59 L329.8,364.60 L330.3,364.61 L330.8,364.61 L331.3,364.62 L331.8,364.62 L332.3,364.63 L332.8,364.63 L333.3,364.64 L333.8,364.64 L334.3,364.64 L334.8,364.65 L335.3,364.65 L335.8,364.65 L336.3,364.65 L336.8,364.66 L337.3,364.66" fill="none" stroke="#1f6b2a" stroke-width="1"/>
<path d="M296.3,364.60 L296.8,364.59 L297.3,364.59 L297.8,364.58 L298.3,364.57 L298.8,364.57 L299.3,364.56 L299.8,364.55 L300.3,364.54 L300.8,364.53 L301.3,364.52 L301.8,364.51 L302.3,364.49 L302.8,364.48 L303.3,364.46 L303.8,364.44 L304.3,364.42 L304.8,364.40 L305.3,364.37 L305.8,364.34 L306.3,364.31 L306.8,364.26 L307.3,364.22 L307.8,364.16 L308.3,364.10 L308.8,364.02 L309.3,363.93 L309.8,363.82 L310.3,363.68 L310.8,363.51 L311.3,363.29 L311.8,363.01 L312.3,362.64 L312.8,362.16 L313.3,361.49 L313.8,360.56 L314.3,359.24 L314.8,357.40 L315.3,354.96 L315.8,352.22 L316.3,350.30 L316.8,350.54 L317.3,352.75 L317.8,355.49 L318.3,357.82 L318.8,359.54 L319.3,360.77 L319.8,361.64 L320.3,362.27 L320.8,362.73 L321.3,363.07 L321.8,363.34 L322.3,363.54 L322.8,363.71 L323.3,363.84 L323.8,363.95 L324.3,364.04 L324.8,364.11 L325.3,364.17 L325.8,364.23 L326.3,364.27 L326.8,364.31 L327.3,364.35 L327.8,364.38 L328.3,364.40 L328.8,364.43 L329.3,364.45 L329.8,364.47 L330.3,364.48 L330.8,364.50 L331.3,364.51 L331.8,364.52 L332.3,364.53 L332.8,364.54 L333.3,364.55 L333.8,364.56 L334.3,364.57 L334.8,364.58 L335.3,364.58 L335.8,364.59 L336.3,364.59 L336.8,364.60 L337.3,364.60" fill="none" stroke="#2e8b3a" stroke-width="1"/>
<path d="M296.3,364.53 L296.8,364.52 L297.3,364.51 L297.8,364.50 L298.3,364.49 L298.8,364.47 L299.3,364.46 L299.8,364.45 L300.3,364.43 L300.8,364.41 L301.3,364.39 L301.8,364.37 L302.3,364.35 L302.8,364.33 L303.3,364.30 L303.8,364.27 L304.3,364.23 L304.8,364.19 L305.3,364.14 L305.8,364.09 L306.3,364.03 L306.8,363.96 L307.3,363.88 L307.8,363.79 L308.3,363.68 L308.8,363.55 L309.3,363.40 L309.8,363.21 L310.3,362.97 L310.8,362.68 L311.3,362.32 L311.8,361.84 L312.3,361.22 L312.8,360.39 L313.3,359.26 L313.8,357.69 L314.3,355.47 L314.8,352.35 L315.3,348.21 L315.8,343.58 L316.3,340.34 L316.8,340.75 L317.3,344.48 L317.8,349.11 L318.3,353.06 L318.8,355.97 L319.3,358.05 L319.8,359.52 L320.3,360.58 L320.8,361.36 L321.3,361.95 L321.8,362.40 L322.3,362.75 L322.8,363.02 L323.3,363.25 L323.8,363.43 L324.3,363.58 L324.8,363.71 L325.3,363.81 L325.8,363.90 L326.3,363.98 L326.8,364.04 L327.3,364.10 L327.8,364.15 L328.3,364.20 L328.8,364.24 L329.3,364.27 L329.8,364.30 L330.3,364.33 L330.8,364.36 L331.3,364.38 L331.8,364.40 L332.3,364.42 L332.8,364.43 L333.3,364.45 L333.8,364.46 L334.3,364.48 L334.8,364.49 L335.3,364.50 L335.8,364.51 L336.3,364.52 L336.8,364.53 L337.3,364.54" fill="none" stroke="#66bb22" stroke-width="1"/>
<path d="M296.3,364.45 L296.8,364.43 L297.3,364.42 L297.8,364.40 L298.3,364.39 L298.8,364.37 L299.3,364.35 L299.8,364.33 L300.3,364.31 L300.8,364.28 L301.3,364.26 L301.8,364.22 L302.3,364.19 L302.8,364.15 L303.3,364.11 L303.8,364.07 L304.3,364.01 L304.8,363.96 L305.3,363.89 L305.8,363.81 L306.3,363.73 L306.8,363.63 L307.3,363.51 L307.8,363.38 L308.3,363.22 L308.8,363.03 L309.3,362.80 L309.8,362.52 L310.3,362.18 L310.8,361.76 L311.3,361.22 L311.8,360.54 L312.3,359.63 L312.8,358.42 L313.3,356.78 L313.8,354.48 L314.3,351.24 L314.8,346.70 L315.3,340.67 L315.8,333.92 L316.3,329.19 L316.8,329.79 L317.3,335.23 L317.8,341.98 L318.3,347.73 L318.8,351.98 L319.3,355.00 L319.8,357.15 L320.3,358.70 L320.8,359.83 L321.3,360.69 L321.8,361.34 L322.3,361.85 L322.8,362.26 L323.3,362.58 L323.8,362.85 L324.3,363.07 L324.8,363.25 L325.3,363.40 L325.8,363.54 L326.3,363.65 L326.8,363.75 L327.3,363.83 L327.8,363.90 L328.3,363.97 L328.8,364.03 L329.3,364.08 L329.8,364.12 L330.3,364.16 L330.8,364.20 L331.3,364.23 L331.8,364.26 L332.3,364.29 L332.8,364.31 L333.3,364.34 L333.8,364.36 L334.3,364.37 L334.8,364.39 L335.3,364.41 L335.8,364.42 L336.3,364.44 L336.8,364.45 L337.3,364.46" fill="none" stroke="#d4c000" stroke-width="1"/>
<path d="M296.3,364.36 L296.8,364.34 L297.3,364.32 L297.8,364.30 L298.3,364.28 L298.8,364.25 L299.3,364.23 L299.8,364.20 L300.3,364.17 L300.8,364.14 L301.3,364.10 L301.8,364.06 L302.3,364.01 L302.8,363.96 L303.3,363.91 L303.8,363.84 L304.3,363.77 L304.8,363.69 L305.3,363.60 L305.8,363.50 L306.3,363.38 L306.8,363.25 L307.3,363.09 L307.8,362.91 L308.3,362.69 L308.8,362.44 L309.3,362.13 L309.8,361.75 L310.3,361.29 L310.8,360.72 L311.3,360.00 L311.8,359.07 L312.3,357.84 L312.8,356.21 L313.3,353.98 L313.8,350.87 L314.3,346.49 L314.8,340.35 L315.3,332.20 L315.8,323.06 L316.3,316.66 L316.8,317.47 L317.3,324.83 L317.8,333.97 L318.3,341.74 L318.8,347.49 L319.3,351.58 L319.8,354.49 L320.3,356.58 L320.8,358.12 L321.3,359.27 L321.8,360.16 L322.3,360.85 L322.8,361.39 L323.3,361.84 L323.8,362.19 L324.3,362.49 L324.8,362.74 L325.3,362.95 L325.8,363.13 L326.3,363.28 L326.8,363.41 L327.3,363.52 L327.8,363.62 L328.3,363.71 L328.8,363.79 L329.3,363.86 L329.8,363.92 L330.3,363.97 L330.8,364.02 L331.3,364.07 L331.8,364.11 L332.3,364.14 L332.8,364.18 L333.3,364.21 L333.8,364.23 L334.3,364.26 L334.8,364.28 L335.3,364.31 L335.8,364.33 L336.3,364.34 L336.8,364.36 L337.3,364.38" fill="none" stroke="#ff9900" stroke-width="1"/>
<path d="M296.3,364.28 L296.8,364.26 L297.3,364.24 L297.8,364.21 L298.3,364.19 L298.8,364.16 L299.3,364.13 L299.8,364.09 L300.3,364.05 L300.8,364.01 L301.3,363.97 L301.8,363.92 L302.3,363.86 L302.8,363.80 L303.3,363.73 L303.8,363.66 L304.3,363.57 L304.8,363.47 L305.3,363.36 L305.8,363.24 L306.3,363.10 L306.8,362.93 L307.3,362.74 L307.8,362.52 L308.3,362.26 L308.8,361.94 L309.3,361.57 L309.8,361.11 L310.3,360.55 L310.8,359.86 L311.3,358.97 L311.8,357.84 L312.3,356.35 L312.8,354.36 L313.3,351.65 L313.8,347.87 L314.3,342.53 L314.8,335.05 L315.3,325.12 L315.8,314.00 L316.3,306.21 L316.8,307.19 L317.3,316.15 L317.8,327.28 L318.3,336.74 L318.8,343.75 L319.3,348.73 L319.8,352.26 L320.3,354.81 L320.8,356.68 L321.3,358.09 L321.8,359.17 L322.3,360.01 L322.8,360.68 L323.3,361.21 L323.8,361.65 L324.3,362.01 L324.8,362.31 L325.3,362.57 L325.8,362.78 L326.3,362.97 L326.8,363.13 L327.3,363.27 L327.8,363.39 L328.3,363.49 L328.8,363.59 L329.3,363.67 L329.8,363.75 L330.3,363.81 L330.8,363.87 L331.3,363.93 L331.8,363.98 L332.3,364.02 L332.8,364.06 L333.3,364.10 L333.8,364.13 L334.3,364.16 L334.8,364.19 L335.3,364.22 L335.8,364.24 L336.3,364.27 L336.8,364.29 L337.3,364.31" fill="none" stroke="#ff2020" stroke-width="1"/>
<rect x="295.8" y="302.6" width="42.0" height="63.0" fill="none" stroke="#111" stroke-width="1.2"/>
<line x1="325.3" y1="283" x2="325.3" y2="242.5" stroke="#111" stroke-width="1.1"/>
<path d="M325.3,238.5 L322.4,244.5 L328.2,244.5 Z" fill="#111"/>
<text x="334.8" y="262.8" font-size="10" text-anchor="middle" fill="#000" transform="rotate(-90 334.8 262.8)" textLength="33" lengthAdjust="spacingAndGlyphs">holding</text>
<line x1="325.3" y1="346" x2="325.3" y2="311.5" stroke="#111" stroke-width="1.1"/>
<path d="M325.3,307.5 L322.4,313.5 L328.2,313.5 Z" fill="#111"/>
<text x="334.8" y="331" font-size="10" text-anchor="middle" fill="#000" transform="rotate(-90 334.8 331)" textLength="33" lengthAdjust="spacingAndGlyphs">holding</text>
<line x1="302.6" y1="295.2" x2="302.6" y2="298.2" stroke="#111" stroke-width="1.0"/>
<line x1="302.6" y1="365.6" x2="302.6" y2="369.1" stroke="#111" stroke-width="1.1"/>
<line x1="315.2" y1="295.2" x2="315.2" y2="298.2" stroke="#111" stroke-width="1.0"/>
<line x1="315.2" y1="365.6" x2="315.2" y2="369.1" stroke="#111" stroke-width="1.1"/>
<line x1="327.8" y1="295.2" x2="327.8" y2="298.2" stroke="#111" stroke-width="1.0"/>
<line x1="327.8" y1="365.6" x2="327.8" y2="369.1" stroke="#111" stroke-width="1.1"/>
<text x="305" y="382.4" font-size="12" text-anchor="middle" fill="#000">1.2</text>
<text x="327.8" y="382.4" font-size="12" text-anchor="middle" fill="#000">1.4</text>
<text x="305" y="396.7" font-size="11.5" text-anchor="middle" fill="#000"><tspan font-style="italic">q</tspan> (Å<tspan baseline-shift="4" font-size="7.5">-1</tspan>)</text>
<rect x="405.9" y="225.4" width="251.20000000000005" height="128.20000000000002" fill="url(#ebg)" stroke="none" stroke-width="1"/>
<line x1="405.9" y1="236.2" x2="660.5" y2="236.2" stroke="#111" stroke-width="1.1" stroke-dasharray="3.2 2.2"/>
<line x1="485.3" y1="236.2" x2="485.3" y2="353.6" stroke="#111" stroke-width="1.1" stroke-dasharray="3.2 2.2"/>
<line x1="613.3" y1="236.2" x2="613.3" y2="353.6" stroke="#333" stroke-width="1.1" stroke-dasharray="3.2 2.2"/>
<line x1="486" y1="310.9" x2="658.5" y2="310.9" stroke="#3048e8" stroke-width="1.1" stroke-dasharray="3.2 2.2"/>
<line x1="613.5" y1="324.1" x2="658.5" y2="324.1" stroke="#f01818" stroke-width="1.1" stroke-dasharray="3.2 2.2"/>
<rect x="405.9" y="225.4" width="251.20000000000005" height="128.20000000000002" fill="none" stroke="#111" stroke-width="1.3"/>
<line x1="405.9" y1="289.4" x2="657.1" y2="289.4" stroke="#111" stroke-width="1.3"/>
<circle cx="411.9" cy="258.4" r="2.45" fill="#5ab4ec" stroke="#222" stroke-width="0.9"/>
<circle cx="417.6" cy="253.3" r="2.45" fill="#5ab4ec" stroke="#222" stroke-width="0.9"/>
<circle cx="423.4" cy="249.5" r="2.45" fill="#5ab4ec" stroke="#222" stroke-width="0.9"/>
<circle cx="429.1" cy="247.4" r="2.45" fill="#5ab4ec" stroke="#222" stroke-width="0.9"/>
<circle cx="434.9" cy="245.1" r="2.45" fill="#5ab4ec" stroke="#222" stroke-width="0.9"/>
<circle cx="440.6" cy="243.7" r="2.45" fill="#5ab4ec" stroke="#222" stroke-width="0.9"/>
<circle cx="446.3" cy="242.0" r="2.45" fill="#5ab4ec" stroke="#222" stroke-width="0.9"/>
<circle cx="452.1" cy="240.9" r="2.45" fill="#5ab4ec" stroke="#222" stroke-width="0.9"/>
<circle cx="457.8" cy="239.7" r="2.45" fill="#5ab4ec" stroke="#222" stroke-width="0.9"/>
<circle cx="463.6" cy="239.0" r="2.45" fill="#5ab4ec" stroke="#222" stroke-width="0.9"/>
<circle cx="469.3" cy="238.5" r="2.45" fill="#5ab4ec" stroke="#222" stroke-width="0.9"/>
<circle cx="475.0" cy="237.6" r="2.45" fill="#5ab4ec" stroke="#222" stroke-width="0.9"/>
<circle cx="480.8" cy="237.1" r="2.45" fill="#5ab4ec" stroke="#222" stroke-width="0.9"/>
<circle cx="486.5" cy="236.7" r="2.45" fill="#5ab4ec" stroke="#222" stroke-width="0.9"/>
<circle cx="492.3" cy="236.4" r="2.45" fill="#5ab4ec" stroke="#222" stroke-width="0.9"/>
<circle cx="498.0" cy="236.2" r="2.45" fill="#5ab4ec" stroke="#222" stroke-width="0.9"/>
<circle cx="503.7" cy="236.0" r="2.45" fill="#5ab4ec" stroke="#222" stroke-width="0.9"/>
<circle cx="411.9" cy="341.2" r="2.45" fill="#5ab4ec" stroke="#222" stroke-width="0.9"/>
<circle cx="417.6" cy="337.9" r="2.45" fill="#5ab4ec" stroke="#222" stroke-width="0.9"/>
<circle cx="423.4" cy="335.6" r="2.45" fill="#5ab4ec" stroke="#222" stroke-width="0.9"/>
<circle cx="429.1" cy="333.7" r="2.45" fill="#5ab4ec" stroke="#222" stroke-width="0.9"/>
<circle cx="434.9" cy="331.9" r="2.45" fill="#5ab4ec" stroke="#222" stroke-width="0.9"/>
<circle cx="440.6" cy="329.5" r="2.45" fill="#5ab4ec" stroke="#222" stroke-width="0.9"/>
<circle cx="446.3" cy="327.4" r="2.45" fill="#5ab4ec" stroke="#222" stroke-width="0.9"/>
<circle cx="452.1" cy="325.1" r="2.45" fill="#5ab4ec" stroke="#222" stroke-width="0.9"/>
<circle cx="457.8" cy="322.7" r="2.45" fill="#5ab4ec" stroke="#222" stroke-width="0.9"/>
<circle cx="463.6" cy="320.2" r="2.45" fill="#5ab4ec" stroke="#222" stroke-width="0.9"/>
<circle cx="469.3" cy="317.8" r="2.45" fill="#5ab4ec" stroke="#222" stroke-width="0.9"/>
<circle cx="475.0" cy="315.5" r="2.45" fill="#5ab4ec" stroke="#222" stroke-width="0.9"/>
<circle cx="480.8" cy="313.6" r="2.45" fill="#5ab4ec" stroke="#222" stroke-width="0.9"/>
<circle cx="486.5" cy="311.1" r="2.45" fill="#5ab4ec" stroke="#222" stroke-width="0.9"/>
<circle cx="492.3" cy="308.5" r="2.45" fill="#5ab4ec" stroke="#222" stroke-width="0.9"/>
<circle cx="498.0" cy="306.2" r="2.45" fill="#5ab4ec" stroke="#222" stroke-width="0.9"/>
<circle cx="503.7" cy="303.6" r="2.45" fill="#5ab4ec" stroke="#222" stroke-width="0.9"/>
<circle cx="416.1" cy="271.2" r="2.45" fill="#f0605a" stroke="#222" stroke-width="0.9"/>
<circle cx="421.9" cy="270.2" r="2.45" fill="#f0605a" stroke="#222" stroke-width="0.9"/>
<circle cx="427.6" cy="267.9" r="2.45" fill="#f0605a" stroke="#222" stroke-width="0.9"/>
<circle cx="433.4" cy="265.6" r="2.45" fill="#f0605a" stroke="#222" stroke-width="0.9"/>
<circle cx="439.1" cy="263.3" r="2.45" fill="#f0605a" stroke="#222" stroke-width="0.9"/>
<circle cx="444.9" cy="260.9" r="2.45" fill="#f0605a" stroke="#222" stroke-width="0.9"/>
<circle cx="450.6" cy="259.2" r="2.45" fill="#f0605a" stroke="#222" stroke-width="0.9"/>
<circle cx="456.4" cy="257.3" r="2.45" fill="#f0605a" stroke="#222" stroke-width="0.9"/>
<circle cx="462.1" cy="255.7" r="2.45" fill="#f0605a" stroke="#222" stroke-width="0.9"/>
<circle cx="467.9" cy="254.5" r="2.45" fill="#f0605a" stroke="#222" stroke-width="0.9"/>
<circle cx="473.6" cy="253.4" r="2.45" fill="#f0605a" stroke="#222" stroke-width="0.9"/>
<circle cx="479.4" cy="252.1" r="2.45" fill="#f0605a" stroke="#222" stroke-width="0.9"/>
<circle cx="485.1" cy="250.8" r="2.45" fill="#f0605a" stroke="#222" stroke-width="0.9"/>
<circle cx="490.9" cy="249.6" r="2.45" fill="#f0605a" stroke="#222" stroke-width="0.9"/>
<circle cx="496.6" cy="248.4" r="2.45" fill="#f0605a" stroke="#222" stroke-width="0.9"/>
<circle cx="502.4" cy="247.0" r="2.45" fill="#f0605a" stroke="#222" stroke-width="0.9"/>
<circle cx="508.1" cy="246.2" r="2.45" fill="#f0605a" stroke="#222" stroke-width="0.9"/>
<circle cx="513.9" cy="245.4" r="2.45" fill="#f0605a" stroke="#222" stroke-width="0.9"/>
<circle cx="519.6" cy="244.5" r="2.45" fill="#f0605a" stroke="#222" stroke-width="0.9"/>
<circle cx="525.4" cy="243.6" r="2.45" fill="#f0605a" stroke="#222" stroke-width="0.9"/>
<circle cx="531.1" cy="243.2" r="2.45" fill="#f0605a" stroke="#222" stroke-width="0.9"/>
<circle cx="536.9" cy="242.6" r="2.45" fill="#f0605a" stroke="#222" stroke-width="0.9"/>
<circle cx="542.6" cy="242.1" r="2.45" fill="#f0605a" stroke="#222" stroke-width="0.9"/>
<circle cx="548.4" cy="241.6" r="2.45" fill="#f0605a" stroke="#222" stroke-width="0.9"/>
<circle cx="554.1" cy="241.1" r="2.45" fill="#f0605a" stroke="#222" stroke-width="0.9"/>
<circle cx="559.9" cy="240.7" r="2.45" fill="#f0605a" stroke="#222" stroke-width="0.9"/>
<circle cx="565.6" cy="240.2" r="2.45" fill="#f0605a" stroke="#222" stroke-width="0.9"/>
<circle cx="571.4" cy="239.6" r="2.45" fill="#f0605a" stroke="#222" stroke-width="0.9"/>
<circle cx="577.1" cy="239.1" r="2.45" fill="#f0605a" stroke="#222" stroke-width="0.9"/>
<circle cx="582.9" cy="238.6" r="2.45" fill="#f0605a" stroke="#222" stroke-width="0.9"/>
<circle cx="588.6" cy="238.2" r="2.45" fill="#f0605a" stroke="#222" stroke-width="0.9"/>
<circle cx="594.4" cy="237.7" r="2.45" fill="#f0605a" stroke="#222" stroke-width="0.9"/>
<circle cx="600.1" cy="237.2" r="2.45" fill="#f0605a" stroke="#222" stroke-width="0.9"/>
<circle cx="605.9" cy="236.9" r="2.45" fill="#f0605a" stroke="#222" stroke-width="0.9"/>
<circle cx="611.6" cy="236.7" r="2.45" fill="#f0605a" stroke="#222" stroke-width="0.9"/>
<circle cx="617.4" cy="236.4" r="2.45" fill="#f0605a" stroke="#222" stroke-width="0.9"/>
<circle cx="623.1" cy="236.2" r="2.45" fill="#f0605a" stroke="#222" stroke-width="0.9"/>
<circle cx="628.9" cy="235.9" r="2.45" fill="#f0605a" stroke="#222" stroke-width="0.9"/>
<circle cx="634.6" cy="235.7" r="2.45" fill="#f0605a" stroke="#222" stroke-width="0.9"/>
<circle cx="640.4" cy="235.4" r="2.45" fill="#f0605a" stroke="#222" stroke-width="0.9"/>
<circle cx="416.1" cy="344.7" r="2.45" fill="#f0605a" stroke="#222" stroke-width="0.9"/>
<circle cx="421.9" cy="343.1" r="2.45" fill="#f0605a" stroke="#222" stroke-width="0.9"/>
<circle cx="427.6" cy="341.9" r="2.45" fill="#f0605a" stroke="#222" stroke-width="0.9"/>
<circle cx="433.4" cy="340.7" r="2.45" fill="#f0605a" stroke="#222" stroke-width="0.9"/>
<circle cx="439.1" cy="339.9" r="2.45" fill="#f0605a" stroke="#222" stroke-width="0.9"/>
<circle cx="444.9" cy="339.0" r="2.45" fill="#f0605a" stroke="#222" stroke-width="0.9"/>
<circle cx="450.6" cy="338.2" r="2.45" fill="#f0605a" stroke="#222" stroke-width="0.9"/>
<circle cx="456.4" cy="337.6" r="2.45" fill="#f0605a" stroke="#222" stroke-width="0.9"/>
<circle cx="462.1" cy="336.9" r="2.45" fill="#f0605a" stroke="#222" stroke-width="0.9"/>
<circle cx="467.9" cy="336.2" r="2.45" fill="#f0605a" stroke="#222" stroke-width="0.9"/>
<circle cx="473.6" cy="335.6" r="2.45" fill="#f0605a" stroke="#222" stroke-width="0.9"/>
<circle cx="479.4" cy="335.2" r="2.45" fill="#f0605a" stroke="#222" stroke-width="0.9"/>
<circle cx="485.1" cy="334.8" r="2.45" fill="#f0605a" stroke="#222" stroke-width="0.9"/>
<circle cx="490.9" cy="334.1" r="2.45" fill="#f0605a" stroke="#222" stroke-width="0.9"/>
<circle cx="496.6" cy="333.6" r="2.45" fill="#f0605a" stroke="#222" stroke-width="0.9"/>
<circle cx="502.4" cy="333.0" r="2.45" fill="#f0605a" stroke="#222" stroke-width="0.9"/>
<circle cx="508.1" cy="332.4" r="2.45" fill="#f0605a" stroke="#222" stroke-width="0.9"/>
<circle cx="513.9" cy="331.9" r="2.45" fill="#f0605a" stroke="#222" stroke-width="0.9"/>
<circle cx="519.6" cy="331.3" r="2.45" fill="#f0605a" stroke="#222" stroke-width="0.9"/>
<circle cx="525.4" cy="330.9" r="2.45" fill="#f0605a" stroke="#222" stroke-width="0.9"/>
<circle cx="531.1" cy="330.5" r="2.45" fill="#f0605a" stroke="#222" stroke-width="0.9"/>
<circle cx="536.9" cy="330.1" r="2.45" fill="#f0605a" stroke="#222" stroke-width="0.9"/>
<circle cx="542.6" cy="329.7" r="2.45" fill="#f0605a" stroke="#222" stroke-width="0.9"/>
<circle cx="548.4" cy="329.2" r="2.45" fill="#f0605a" stroke="#222" stroke-width="0.9"/>
<circle cx="554.1" cy="328.8" r="2.45" fill="#f0605a" stroke="#222" stroke-width="0.9"/>
<circle cx="559.9" cy="328.4" r="2.45" fill="#f0605a" stroke="#222" stroke-width="0.9"/>
<circle cx="565.6" cy="328.0" r="2.45" fill="#f0605a" stroke="#222" stroke-width="0.9"/>
<circle cx="571.4" cy="327.5" r="2.45" fill="#f0605a" stroke="#222" stroke-width="0.9"/>
<circle cx="577.1" cy="327.1" r="2.45" fill="#f0605a" stroke="#222" stroke-width="0.9"/>
<circle cx="582.9" cy="326.6" r="2.45" fill="#f0605a" stroke="#222" stroke-width="0.9"/>
<circle cx="588.6" cy="326.2" r="2.45" fill="#f0605a" stroke="#222" stroke-width="0.9"/>
<circle cx="594.4" cy="325.7" r="2.45" fill="#f0605a" stroke="#222" stroke-width="0.9"/>
<circle cx="600.1" cy="325.3" r="2.45" fill="#f0605a" stroke="#222" stroke-width="0.9"/>
<circle cx="605.9" cy="324.9" r="2.45" fill="#f0605a" stroke="#222" stroke-width="0.9"/>
<circle cx="611.6" cy="324.6" r="2.45" fill="#f0605a" stroke="#222" stroke-width="0.9"/>
<circle cx="617.4" cy="324.2" r="2.45" fill="#f0605a" stroke="#222" stroke-width="0.9"/>
<circle cx="623.1" cy="323.8" r="2.45" fill="#f0605a" stroke="#222" stroke-width="0.9"/>
<circle cx="628.9" cy="323.5" r="2.45" fill="#f0605a" stroke="#222" stroke-width="0.9"/>
<circle cx="634.6" cy="323.1" r="2.45" fill="#f0605a" stroke="#222" stroke-width="0.9"/>
<circle cx="640.4" cy="322.7" r="2.45" fill="#f0605a" stroke="#222" stroke-width="0.9"/>
<circle cx="552.0" cy="261.2" r="2.6" fill="#f0605a" stroke="#222" stroke-width="0.9"/>
<circle cx="552.0" cy="275.4" r="2.6" fill="#5ab4ec" stroke="#222" stroke-width="0.9"/>
<text x="560.6" y="266" font-size="12.5" text-anchor="start" fill="#d02020" textLength="34.2" lengthAdjust="spacingAndGlyphs" stroke="#d02020" stroke-width="0.25">600 °C</text>
<text x="560.6" y="279.8" font-size="12.5" text-anchor="start" fill="#2f5f96" textLength="34.2" lengthAdjust="spacingAndGlyphs" stroke="#2f5f96" stroke-width="0.25">650 °C</text>
<text x="661.6" y="238.6" font-size="11" text-anchor="start" fill="#1a1a1a" textLength="19.7" lengthAdjust="spacingAndGlyphs" stroke="#1a1a1a" stroke-width="0.2">87%</text>
<path d="M660.3,310.9 Q662.8,310.9 662.8,313.5 L662.8,315.6 Q662.8,317.5 665,317.5 Q662.8,317.5 662.8,319.4 L662.8,321.5 Q662.8,324.1 660.3,324.1" fill="none" stroke="#222" stroke-width="0.9"/>
<text x="667.8" y="320.6" font-size="11" text-anchor="start" font-style="italic" fill="#1a1a1a" textLength="14.5" lengthAdjust="spacingAndGlyphs" stroke="#1a1a1a" stroke-width="0.2">ΔD</text>
<line x1="400.9" y1="225.7" x2="405.9" y2="225.7" stroke="#111" stroke-width="1.1"/>
<text x="398.5" y="229.89999999999998" font-size="12" text-anchor="end" fill="#000">100</text>
<line x1="400.9" y1="242.64999999999998" x2="405.9" y2="242.64999999999998" stroke="#111" stroke-width="1.1"/>
<text x="398.5" y="246.84999999999997" font-size="12" text-anchor="end" fill="#000">80</text>
<line x1="400.9" y1="259.59999999999997" x2="405.9" y2="259.59999999999997" stroke="#111" stroke-width="1.1"/>
<text x="398.5" y="263.79999999999995" font-size="12" text-anchor="end" fill="#000">60</text>
<line x1="400.9" y1="276.55" x2="405.9" y2="276.55" stroke="#111" stroke-width="1.1"/>
<text x="398.5" y="280.75" font-size="12" text-anchor="end" fill="#000">40</text>
<line x1="403.3" y1="234.17499999999998" x2="405.9" y2="234.17499999999998" stroke="#111" stroke-width="1.1"/>
<line x1="403.3" y1="251.125" x2="405.9" y2="251.125" stroke="#111" stroke-width="1.1"/>
<line x1="403.3" y1="268.075" x2="405.9" y2="268.075" stroke="#111" stroke-width="1.1"/>
<line x1="403.3" y1="285.025" x2="405.9" y2="285.025" stroke="#111" stroke-width="1.1"/>
<line x1="400.9" y1="302.70000000000005" x2="405.9" y2="302.70000000000005" stroke="#111" stroke-width="1.1"/>
<text x="398.5" y="306.90000000000003" font-size="12" text-anchor="end" fill="#000">40</text>
<line x1="400.9" y1="328.15000000000003" x2="405.9" y2="328.15000000000003" stroke="#111" stroke-width="1.1"/>
<text x="398.5" y="332.35" font-size="12" text-anchor="end" fill="#000">20</text>
<line x1="400.9" y1="353.6" x2="405.9" y2="353.6" stroke="#111" stroke-width="1.1"/>
<text x="398.5" y="357.8" font-size="12" text-anchor="end" fill="#000">0</text>
<line x1="403.3" y1="315.425" x2="405.9" y2="315.425" stroke="#111" stroke-width="1.1"/>
<line x1="403.3" y1="340.875" x2="405.9" y2="340.875" stroke="#111" stroke-width="1.1"/>
<line x1="412.4" y1="353.6" x2="412.4" y2="357.8" stroke="#111" stroke-width="1.1"/>
<text x="412.4" y="370.6" font-size="12" text-anchor="middle" fill="#000">0</text>
<line x1="412.4" y1="289.4" x2="412.4" y2="292.7" stroke="#111" stroke-width="1.0"/>
<line x1="451.55999999999995" y1="353.6" x2="451.55999999999995" y2="357.8" stroke="#111" stroke-width="1.1"/>
<text x="451.55999999999995" y="370.6" font-size="12" text-anchor="middle" fill="#000">2</text>
<line x1="451.55999999999995" y1="289.4" x2="451.55999999999995" y2="292.7" stroke="#111" stroke-width="1.0"/>
<line x1="490.71999999999997" y1="353.6" x2="490.71999999999997" y2="357.8" stroke="#111" stroke-width="1.1"/>
<text x="490.71999999999997" y="370.6" font-size="12" text-anchor="middle" fill="#000">4</text>
<line x1="490.71999999999997" y1="289.4" x2="490.71999999999997" y2="292.7" stroke="#111" stroke-width="1.0"/>
<line x1="529.88" y1="353.6" x2="529.88" y2="357.8" stroke="#111" stroke-width="1.1"/>
<text x="529.88" y="370.6" font-size="12" text-anchor="middle" fill="#000">6</text>
<line x1="529.88" y1="289.4" x2="529.88" y2="292.7" stroke="#111" stroke-width="1.0"/>
<line x1="569.04" y1="353.6" x2="569.04" y2="357.8" stroke="#111" stroke-width="1.1"/>
<text x="569.04" y="370.6" font-size="12" text-anchor="middle" fill="#000">8</text>
<line x1="569.04" y1="289.4" x2="569.04" y2="292.7" stroke="#111" stroke-width="1.0"/>
<line x1="608.1999999999999" y1="353.6" x2="608.1999999999999" y2="357.8" stroke="#111" stroke-width="1.1"/>
<text x="608.1999999999999" y="370.6" font-size="12" text-anchor="middle" fill="#000">10</text>
<line x1="608.1999999999999" y1="289.4" x2="608.1999999999999" y2="292.7" stroke="#111" stroke-width="1.0"/>
<line x1="647.3599999999999" y1="353.6" x2="647.3599999999999" y2="357.8" stroke="#111" stroke-width="1.1"/>
<text x="647.3599999999999" y="370.6" font-size="12" text-anchor="middle" fill="#000">12</text>
<line x1="647.3599999999999" y1="289.4" x2="647.3599999999999" y2="292.7" stroke="#111" stroke-width="1.0"/>
<line x1="431.97999999999996" y1="353.6" x2="431.97999999999996" y2="355.90000000000003" stroke="#111" stroke-width="1.1"/>
<line x1="431.97999999999996" y1="289.4" x2="431.97999999999996" y2="291.4" stroke="#111" stroke-width="1.0"/>
<line x1="471.14" y1="353.6" x2="471.14" y2="355.90000000000003" stroke="#111" stroke-width="1.1"/>
<line x1="471.14" y1="289.4" x2="471.14" y2="291.4" stroke="#111" stroke-width="1.0"/>
<line x1="510.29999999999995" y1="353.6" x2="510.29999999999995" y2="355.90000000000003" stroke="#111" stroke-width="1.1"/>
<line x1="510.29999999999995" y1="289.4" x2="510.29999999999995" y2="291.4" stroke="#111" stroke-width="1.0"/>
<line x1="549.46" y1="353.6" x2="549.46" y2="355.90000000000003" stroke="#111" stroke-width="1.1"/>
<line x1="549.46" y1="289.4" x2="549.46" y2="291.4" stroke="#111" stroke-width="1.0"/>
<line x1="588.6199999999999" y1="353.6" x2="588.6199999999999" y2="355.90000000000003" stroke="#111" stroke-width="1.1"/>
<line x1="588.6199999999999" y1="289.4" x2="588.6199999999999" y2="291.4" stroke="#111" stroke-width="1.0"/>
<line x1="627.78" y1="353.6" x2="627.78" y2="355.90000000000003" stroke="#111" stroke-width="1.1"/>
<line x1="627.78" y1="289.4" x2="627.78" y2="291.4" stroke="#111" stroke-width="1.0"/>
<text x="531.7" y="384" font-size="11.5" text-anchor="middle" fill="#000" textLength="111" lengthAdjust="spacingAndGlyphs">Sintering time (hour)</text>
<text x="362.9" y="256.1" font-size="11.5" text-anchor="middle" fill="#000" transform="rotate(-90 362.9 256.1)" textLength="71" lengthAdjust="spacingAndGlyphs">Layered phase</text>
<text x="377.4" y="256.4" font-size="11.5" text-anchor="middle" fill="#000" transform="rotate(-90 377.4 256.4)" textLength="58" lengthAdjust="spacingAndGlyphs">fraction (%)</text>
<text x="362.3" y="330.2" font-size="11.5" text-anchor="middle" fill="#000" transform="rotate(-90 362.3 330.2)" textLength="51" lengthAdjust="spacingAndGlyphs">Crystallite</text>
<text x="376.3" y="330.2" font-size="11.5" text-anchor="middle" fill="#000" transform="rotate(-90 376.3 330.2)" textLength="44.4" lengthAdjust="spacingAndGlyphs">size (nm)</text>
<rect x="68" y="405.5" width="586" height="207" fill="url(#fbg)" stroke="none" stroke-width="1"/>
<line x1="67.7" y1="612.6" x2="67.7" y2="411" stroke="#1f4e79" stroke-width="1.4"/>
<path d="M67.7,403.2 L64.6,413 L70.8,413 Z" fill="#1f4e79"/>
<line x1="67.2" y1="612.6" x2="647" y2="612.6" stroke="#1f4e79" stroke-width="1.4"/>
<path d="M654.6,612.6 L645.5,609.4 L645.5,615.8 Z" fill="#1f4e79"/>
<text x="77.2" y="423.6" font-size="12.5" text-anchor="start" font-weight="bold" font-style="italic" fill="#111" textLength="76" lengthAdjust="spacingAndGlyphs">Temperature</text>
<text x="656.5" y="612.6" font-size="12.5" text-anchor="start" font-weight="bold" font-style="italic" fill="#111" textLength="28.3" lengthAdjust="spacingAndGlyphs">Time</text>
<circle cx="121.8" cy="542.7" r="28.6" fill="#b7daf6" stroke="#22375c" stroke-width="1.1"/>
<circle cx="219.3" cy="521.6" r="28.7" fill="#b7daf6" stroke="#22375c" stroke-width="1.1"/>
<circle cx="204.3" cy="507.3" r="4.2" fill="#7aa4d5" stroke="#22375c" stroke-width="0.7"/>
<circle cx="237.6" cy="517.8" r="4.2" fill="#7aa4d5" stroke="#22375c" stroke-width="0.7"/>
<circle cx="224.0" cy="541.5" r="4.2" fill="#7aa4d5" stroke="#22375c" stroke-width="0.7"/>
<circle cx="225.3" cy="505.5" r="4.2" fill="#f5a3f7" stroke="#22375c" stroke-width="0.7"/>
<circle cx="200.1" cy="523.9" r="4.2" fill="#f5a3f7" stroke="#22375c" stroke-width="0.7"/>
<circle cx="217.9" cy="519.9" r="4.2" fill="#fdd1b0" stroke="#22375c" stroke-width="0.7"/>
<circle cx="230.3" cy="531.0" r="4.2" fill="#fdd1b0" stroke="#22375c" stroke-width="0.7"/>
<circle cx="210.1" cy="535.2" r="4.2" fill="#9fdeb9" stroke="#22375c" stroke-width="0.7"/>
<circle cx="373.5" cy="519.5" r="28.5" fill="#b7daf6" stroke="#22375c" stroke-width="1.1"/>
<g stroke="#22375c" stroke-width="0.7"><ellipse cx="359.7" cy="506.8" rx="8.6" ry="10.3" transform="rotate(20 359.7 506.8)" fill="#7aa4d5"/><ellipse cx="378.8" cy="499.4" rx="9.6" ry="5.9" fill="#f5a3f7"/><ellipse cx="374.4" cy="515.6" rx="7.6" ry="7.2" fill="#fdd1b0"/><ellipse cx="390.5" cy="514.8" rx="6.6" ry="11.8" transform="rotate(8 390.5 514.8)" fill="#7aa4d5"/><ellipse cx="356.3" cy="523.4" rx="8.0" ry="6.8" fill="#f5a3f7"/><ellipse cx="368.6" cy="533" rx="9.8" ry="7.8" transform="rotate(-10 368.6 533)" fill="#9fdeb9"/><ellipse cx="389" cy="532.2" rx="8.2" ry="5.4" transform="rotate(10 389 532.2)" fill="#fdd1b0"/><ellipse cx="379.6" cy="541.5" rx="5.2" ry="4.3" fill="#7aa4d5"/></g>
<clipPath id="tdc"><circle cx="464.1" cy="462.0" r="28.8"/></clipPath>
<g clip-path="url(#tdc)" stroke="#22375c" stroke-width="0.8" stroke-linejoin="round">
<rect x="433.3" y="431.2" width="61.6" height="61.6" fill="#7aa4d5"/>
<path d="M430,460.3 L455,460.3 L467.5,489.8 L468.5,496 L430,496 Z" fill="#9fdeb9"/>
<path d="M455,460.3 L456.7,458 L466.4,454.8 L476.1,455.9 L486,478.5 L492,484 L468.5,494 L467.5,489.8 Z" fill="#fdd1b0"/>
<path d="M461.6,428 L461.6,433.9 L466.4,454.8 L476.1,455.9 L482.1,441.5 L490,436 L470,428 Z" fill="#f5a3f7"/>
<path d="M461.6,433.9 L457.3,456.8 L466.4,454.8 Z" fill="#b7daf6"/>
<path d="M461.6,433.9 L461.6,428" fill="none"/>
</g>
<circle cx="464.1" cy="462.0" r="28.8" fill="none" stroke="#22375c" stroke-width="1.1"/>
<circle cx="602.4" cy="438.5" r="28.6" fill="#fdd2b4" stroke="#22375c" stroke-width="1.1"/>
<line x1="156.2" y1="536.2" x2="184" y2="529.4" stroke="#555" stroke-width="1.1"/>
<path d="M187.5,528.5 L179.6,527.2 L181.3,533.7 Z" fill="#555"/>
<line x1="253.1" y1="510.9" x2="421" y2="468.2" stroke="#666" stroke-width="1.1"/>
<path d="M427.5,466.5 L417.8,464.7 L420.1,473.2 Z" fill="#666"/>
<text x="336" y="481.5" font-size="11" text-anchor="middle" fill="#1a1a1a" transform="rotate(-14.3 336 481.5)" textLength="137" lengthAdjust="spacingAndGlyphs" stroke="#1a1a1a" stroke-width="0.28">Thermodynamic controlled</text>
<line x1="498.2" y1="450.2" x2="556" y2="435.1" stroke="#666" stroke-width="1.1"/>
<path d="M562.5,433.4 L553,431.6 L555.3,440 Z" fill="#666"/>
<text x="521" y="425.6" font-size="11" text-anchor="middle" fill="#1a1a1a" transform="rotate(-14 521 425.6)" textLength="40" lengthAdjust="spacingAndGlyphs" stroke="#1a1a1a" stroke-width="0.28">Domain</text>
<text x="524" y="437.6" font-size="11" text-anchor="middle" fill="#1a1a1a" transform="rotate(-14 524 437.6)" textLength="62" lengthAdjust="spacingAndGlyphs" stroke="#1a1a1a" stroke-width="0.28">coalescence</text>
<line x1="254.6" y1="535.8" x2="333" y2="535.8" stroke="#f01010" stroke-width="2.6"/>
<path d="M342,535.8 L331.5,531.2 L331.5,540.4 Z" fill="#f01010"/>
<text x="251.7" y="529" font-size="11" text-anchor="start" font-weight="bold" fill="#f01010" textLength="90.5" lengthAdjust="spacingAndGlyphs">Kinetic controlled</text>
<line x1="149.6" y1="495" x2="137" y2="503.5" stroke="#f08c8c" stroke-width="1.3" stroke-dasharray="2.6 1.6"/>
<path d="M132.8,506.2 L136.2,499.6 L140.2,505.3 Z" fill="#f08c8c"/>
<line x1="157.5" y1="512" x2="138" y2="514.6" stroke="#a8d08d" stroke-width="1.3" stroke-dasharray="2.6 1.6"/>
<path d="M133.2,515.3 L139.8,511.2 L140.5,518.2 Z" fill="#a8d08d"/>
<line x1="154.1" y1="491.5" x2="170.1" y2="487.1" stroke="#e03030" stroke-width="2.4"/>
<defs><radialGradient id="rs" cx="0.35" cy="0.35" r="0.7"><stop offset="0" stop-color="#ff9a9a"/><stop offset="1" stop-color="#e02828"/></radialGradient><radialGradient id="gs" cx="0.35" cy="0.35" r="0.7"><stop offset="0" stop-color="#e0f5d0"/><stop offset="1" stop-color="#7cc070"/></radialGradient></defs>
<circle cx="154.1" cy="491.5" r="3.7" fill="url(#rs)" stroke="none" stroke-width="0"/>
<circle cx="170.1" cy="487.1" r="3.7" fill="url(#rs)" stroke="none" stroke-width="0"/>
<circle cx="162.0" cy="509.4" r="4.5" fill="url(#gs)" stroke="none" stroke-width="0"/>
<text x="161.5" y="500.2" font-size="10.8" text-anchor="start" fill="#1a1a1a" textLength="12" lengthAdjust="spacingAndGlyphs" stroke="#1a1a1a" stroke-width="0.28">O<tspan baseline-shift="-2.5" font-size="7.5">2</tspan></text>
<text x="157.5" y="525.2" font-size="10.8" text-anchor="start" fill="#1a1a1a" textLength="11.8" lengthAdjust="spacingAndGlyphs" stroke="#1a1a1a" stroke-width="0.28">Li<tspan baseline-shift="3.5" font-size="7.5">+</tspan></text>
<text x="123.9" y="583.1" font-size="10.5" text-anchor="middle" fill="#1a1a1a" textLength="50.6" lengthAdjust="spacingAndGlyphs" stroke="#1a1a1a" stroke-width="0.28">Precursory</text>
<text x="124.0" y="595" font-size="10.5" text-anchor="middle" fill="#1a1a1a" textLength="29.7" lengthAdjust="spacingAndGlyphs" stroke="#1a1a1a" stroke-width="0.28">lattice</text>
<text x="123.5" y="607" font-size="10.8" text-anchor="middle" fill="#1a1a1a" textLength="70.7" lengthAdjust="spacingAndGlyphs" stroke="#1a1a1a" stroke-width="0.28">Li<tspan baseline-shift="-2.4" font-size="7.5">x</tspan>Ni<tspan baseline-shift="-2.4" font-size="7.5">2-x</tspan>O<tspan baseline-shift="-2.4" font-size="7.5">2</tspan> (RS)</text>
<text x="219.3" y="564.3" font-size="10.5" text-anchor="middle" fill="#1a1a1a" textLength="49.9" lengthAdjust="spacingAndGlyphs" stroke="#1a1a1a" stroke-width="0.28">Topotaxial</text>
<text x="219" y="575.2" font-size="10.5" text-anchor="middle" fill="#1a1a1a" textLength="50.7" lengthAdjust="spacingAndGlyphs" stroke="#1a1a1a" stroke-width="0.28">nucleation</text>
<text x="376.8" y="562" font-size="10.5" text-anchor="middle" fill="#1a1a1a" textLength="84.5" lengthAdjust="spacingAndGlyphs" stroke="#1a1a1a" stroke-width="0.28">Kinetic controlled</text>
<text x="376.9" y="573.3" font-size="10.5" text-anchor="middle" fill="#1a1a1a" textLength="56.5" lengthAdjust="spacingAndGlyphs" stroke="#1a1a1a" stroke-width="0.28">Intergrowth</text>
<text x="378.3" y="590" font-size="10.8" text-anchor="middle" fill="#1a1a1a" textLength="115.4" lengthAdjust="spacingAndGlyphs" stroke="#1a1a1a" stroke-width="0.28">(LiNiO<tspan baseline-shift="-2.4" font-size="7.5">2</tspan>)<tspan baseline-shift="-2.4" font-size="7.5">L</tspan> | (Li<tspan baseline-shift="-2.4" font-size="7.5">x</tspan>Ni<tspan baseline-shift="-2.4" font-size="7.5">2-x</tspan>O<tspan baseline-shift="-2.4" font-size="7.5">2</tspan>)<tspan baseline-shift="-2.4" font-size="7.5">RS</tspan></text>
<text x="464.6" y="502.3" font-size="10.8" text-anchor="middle" fill="#1a1a1a" textLength="81.2" lengthAdjust="spacingAndGlyphs" stroke="#1a1a1a" stroke-width="0.28">Thermodynamic-</text>
<text x="465.3" y="513.9" font-size="10.8" text-anchor="middle" fill="#1a1a1a" textLength="97.4" lengthAdjust="spacingAndGlyphs" stroke="#1a1a1a" stroke-width="0.28">driven crystal growth</text>
<text x="603.8" y="479.5" font-size="10.5" text-anchor="middle" fill="#1a1a1a" textLength="77.7" lengthAdjust="spacingAndGlyphs" stroke="#1a1a1a" stroke-width="0.28">Thermodynamic</text>
<text x="603.5" y="491.1" font-size="10.5" text-anchor="middle" fill="#1a1a1a" textLength="59.2" lengthAdjust="spacingAndGlyphs" stroke="#1a1a1a" stroke-width="0.28">end product</text>
<text x="606" y="506.3" font-size="10.8" text-anchor="middle" fill="#1a1a1a" textLength="49.3" lengthAdjust="spacingAndGlyphs" stroke="#1a1a1a" stroke-width="0.28">LiNiO<tspan baseline-shift="-2.4" font-size="7.5">2</tspan> (L)</text>
<rect x="469" y="564.7" width="10.3" height="10" rx="1.5" fill="#b7daf6" stroke="#22375c" stroke-width="0.8"/>
<text x="481.9" y="573.3" font-size="10.5" text-anchor="start" fill="#1a1a1a" textLength="89.9" lengthAdjust="spacingAndGlyphs" stroke="#1a1a1a" stroke-width="0.28">Rocksalt oxide (RS)</text>
<rect x="469" y="580.8" width="40.2" height="10.6" rx="1.5" fill="url(#lgrad)" stroke="#22375c" stroke-width="0.8"/>
<text x="514" y="590.1" font-size="10.5" text-anchor="start" fill="#1a1a1a" textLength="131.4" lengthAdjust="spacingAndGlyphs" stroke="#1a1a1a" stroke-width="0.28">Oriented Layered oxides (L)</text>
</svg></body></html>
